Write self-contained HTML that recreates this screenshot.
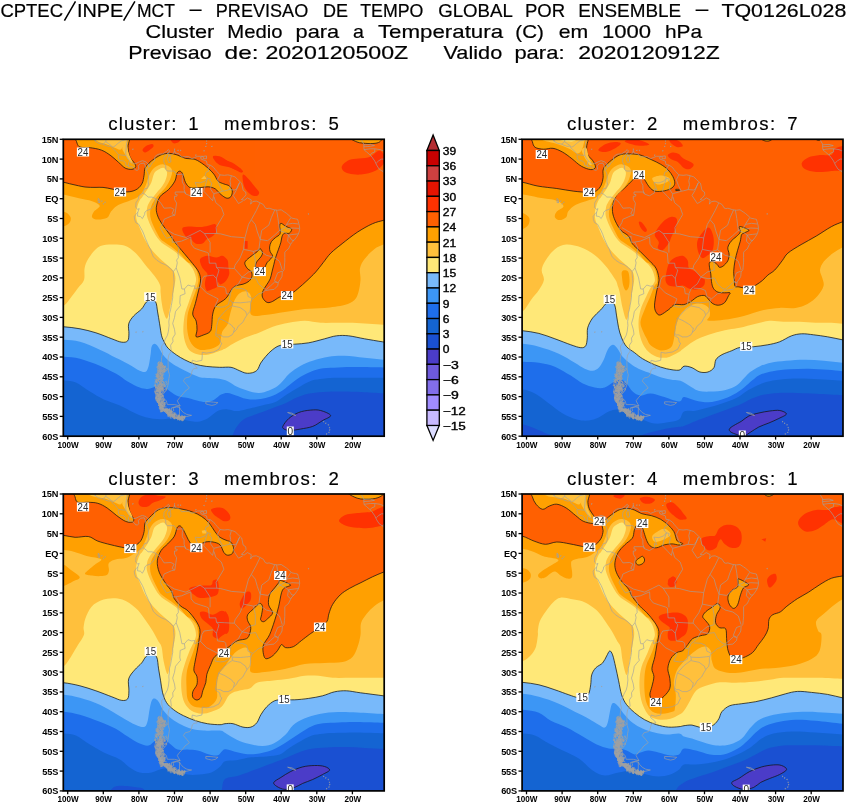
<!DOCTYPE html>
<html><head><meta charset="utf-8"><title>CPTEC ensemble cluster</title>
<style>
html,body{margin:0;padding:0;background:#fff;}
body{width:847px;height:803px;overflow:hidden;font-family:"Liberation Sans",sans-serif;}
svg{display:block;will-change:transform;opacity:0.999;}
text{font-family:"Liberation Sans",sans-serif;fill:#000;}
.tt{font-size:19px;stroke:#000;stroke-width:0.2px;}
.pt{font-size:18.6px;stroke:#000;stroke-width:0.15px;}
.yl{font-size:9.2px;font-weight:bold;letter-spacing:-0.2px;}
.xl{font-size:9.5px;font-weight:bold;}
.cb{font-size:10.4px;stroke:#000;stroke-width:0.35px;}
.cl{font-size:10.6px;fill:#2a2a2a;}
</style></head><body>
<svg width="847" height="803" viewBox="0 0 847 803">
<rect width="847" height="803" fill="#fff"/>
<defs><g id="mapl"><path d="M148.1,164.2 L149.9,167.0 L152.0,163.1 L154.5,160.7 L154.9,156.7 L157.4,154.7 L159.5,154.0 L162.7,154.0 L166.3,151.6 L168.4,149.6 L169.8,151.2 L167.7,152.8 L168.8,155.5 L170.6,155.5 L173.8,153.2 L174.5,150.4 L175.5,153.2 L178.7,153.6 L180.5,155.5 L181.6,157.1 L185.5,156.7 L188.7,156.7 L191.9,158.7 L194.8,157.5 L197.6,156.3 L202.9,156.3 L200.5,157.5 L201.2,159.1 L203.3,159.9 L206.5,161.1 L207.2,164.6 L210.1,165.0 L213.6,167.4 L215.4,169.8 L217.2,171.8 L220.0,174.9 L224.3,175.3 L227.9,174.9 L231.4,175.7 L235.0,176.9 L237.5,179.3 L240.0,181.7 L241.7,183.3 L243.2,190.4 L245.7,192.0 L246.0,194.7 L243.9,197.5 L241.4,199.5 L244.2,200.3 L247.4,197.9 L251.3,199.9 L250.6,204.2 L252.8,201.5 L256.3,201.1 L259.9,202.7 L263.4,204.6 L265.2,207.8 L267.0,208.6 L269.1,208.2 L274.1,209.8 L277.7,210.2 L281.2,209.8 L284.8,212.2 L286.6,213.4 L290.1,216.5 L291.9,218.1 L295.5,218.9 L297.6,219.3 L298.3,221.7 L299.4,226.0 L299.7,228.4 L299.4,230.8 L298.3,234.3 L296.5,237.1 L294.1,240.3 L291.9,242.3 L290.5,244.6 L288.4,249.0 L286.6,250.2 L284.8,252.2 L284.8,257.3 L284.8,262.1 L284.4,266.0 L284.1,269.6 L282.3,272.0 L282.0,276.3 L280.5,279.1 L278.4,281.9 L277.7,285.8 L274.1,289.4 L269.9,289.8 L265.2,290.6 L262.0,292.9 L258.8,293.7 L254.5,297.3 L251.7,299.7 L250.6,303.6 L250.6,308.0 L249.9,311.6 L247.4,314.3 L244.9,318.3 L242.8,322.3 L239.2,325.4 L238.2,326.2 L236.4,329.8 L233.5,332.5 L232.1,334.9 L228.2,336.9 L223.6,336.9 L220.0,334.9 L217.5,334.9 L215.8,333.3 L215.8,335.7 L219.7,338.1 L220.4,342.1 L221.8,343.2 L219.0,349.2 L213.6,352.0 L206.5,353.1 L202.2,352.3 L202.2,357.1 L201.9,360.3 L196.5,361.5 L192.3,360.3 L191.9,363.0 L195.8,366.2 L197.2,368.2 L194.0,368.6 L192.3,370.2 L191.2,374.9 L189.8,376.9 L185.1,378.1 L183.4,380.9 L186.9,384.8 L189.4,388.0 L185.1,391.2 L183.0,393.9 L179.8,397.5 L177.3,400.7 L178.4,403.0 L180.2,405.8 L176.2,406.6 L171.6,407.8 L171.3,411.0 L167.4,411.0 L162.7,408.6 L160.2,405.4 L157.7,402.6 L156.7,398.7 L155.6,394.7 L154.9,390.8 L156.0,386.0 L154.9,382.8 L158.5,378.9 L161.7,376.1 L163.8,371.0 L164.5,366.2 L162.0,364.2 L161.3,361.1 L161.7,357.1 L162.7,353.1 L161.7,349.2 L161.7,346.0 L163.4,344.0 L165.2,339.3 L167.4,335.3 L168.4,331.4 L169.1,325.4 L168.8,321.5 L169.5,317.5 L169.5,313.5 L170.6,309.6 L171.3,305.6 L172.0,301.7 L172.7,297.7 L172.7,293.7 L173.0,291.8 L173.8,285.8 L174.1,281.9 L173.8,278.7 L173.4,273.9 L173.4,271.6 L170.9,269.2 L169.1,267.2 L165.6,264.8 L160.9,262.9 L156.7,260.1 L153.5,256.9 L152.0,253.7 L150.6,249.4 L148.8,246.2 L147.1,242.3 L145.3,238.3 L143.9,234.3 L142.4,230.8 L140.3,227.2 L138.9,224.4 L135.7,222.5 L134.6,219.3 L134.3,216.5 L136.4,213.7 L137.8,212.2 L139.2,208.6 L137.8,209.4 L135.7,207.4 L136.0,202.7 L137.5,200.3 L138.5,198.7 L138.9,195.5 L141.0,194.3 L142.8,193.2 L143.2,191.6 L144.6,188.8 L147.1,188.4 L148.8,184.4 L148.1,181.7 L148.5,176.9 L147.8,173.0 L146.4,170.2 L145.3,165.8 L144.2,163.1 L140.7,163.5 L138.2,165.8 L138.9,169.0 L137.5,170.2 L135.7,170.2 L134.6,168.6 L132.8,167.0 L131.1,166.2 L128.6,166.6 L128.2,165.8 L125.7,165.0 L125.7,163.1 L123.9,161.1 L122.2,160.7 L120.7,160.7 L118.6,159.1 L118.2,155.5 L118.6,154.7 L115.7,151.2 L113.3,148.8 L111.8,147.6 L112.2,146.0 L108.6,146.4 L105.1,145.2 L102.6,144.1 L98.7,143.3 L95.5,141.3 L92.6,138.1 M148.1,164.2 L146.0,161.9 L142.4,160.7 L139.2,161.9 L136.0,163.5 L133.5,163.9 L131.1,162.3 L129.6,160.7 L128.2,159.1 L126.1,155.5 L125.7,153.2 L126.1,149.2 L126.4,145.2 L127.1,141.3 L127.5,139.3 L125.4,137.7 M179.5,407.4 L180.9,409.8 L183.4,412.5 L186.9,414.5 L191.6,415.3 L186.9,416.5 L181.6,417.3 L176.2,417.7 L170.9,415.7 L167.4,413.7 L170.9,412.5 L173.8,410.6 L173.0,407.8 L176.6,407.0 L179.5,407.4 M205.8,401.8 L210.1,401.8 L213.6,402.2 L217.9,402.6 L215.4,404.6 L211.8,405.4 L208.3,404.6 L205.8,403.8 L205.8,401.8 M160.6,364.2 L162.0,367.0 L161.7,370.6 L159.2,369.8 L159.5,366.2 L160.6,364.2 M203.3,156.3 L206.5,155.9 L206.5,158.7 L203.3,158.7 L203.3,156.3 M168.8,155.5 L167.4,159.1 L168.8,162.7 L170.9,161.9 L170.6,157.9 L169.8,155.5 M169.8,152.0 L166.3,154.7 L164.1,157.5 L163.8,161.9 L165.6,165.4 L165.9,169.4 L167.4,171.0 L174.1,171.0 L176.6,174.5 L183.4,174.1 L182.3,177.7 L182.3,182.1 L184.1,185.2 L184.1,189.6 L185.5,193.9 M185.5,193.9 L184.8,192.0 L175.2,192.0 L175.2,194.3 L177.3,194.7 L176.6,196.3 L174.5,196.3 L174.5,199.5 L176.6,203.1 L174.8,215.3 M174.8,215.3 L172.0,213.7 L174.1,209.4 L170.9,207.8 L164.1,208.2 L161.3,203.8 L158.8,200.7 L156.0,198.7 M156.0,198.7 L152.0,197.1 L148.1,197.1 L146.0,195.1 L143.2,193.2 M156.0,198.7 L154.5,204.6 L151.0,209.0 L146.7,210.6 L144.9,212.2 L144.6,214.5 L142.4,218.5 L140.3,216.5 L137.5,216.1 L137.8,212.2 M174.8,215.3 L171.3,216.1 L164.1,219.3 L163.1,222.5 L160.2,227.6 L163.8,234.3 L166.6,238.3 L172.3,236.3 L172.3,242.3 L175.9,242.1 M175.9,242.1 L179.1,248.2 L178.0,253.0 L178.4,257.7 L176.6,260.1 L177.3,262.9 L176.2,268.0 M176.2,268.0 L173.4,271.4 M176.2,268.0 L178.4,273.9 L179.8,277.9 L180.9,283.8 L181.9,289.0 L184.4,289.0 M175.9,242.1 L181.6,241.1 L190.8,237.1 L191.2,244.2 L194.4,248.2 L200.1,250.2 L206.5,252.2 L208.6,253.3 L209.3,263.2 L215.8,263.2 L216.5,267.6 L219.0,270.0 L217.9,273.9 L216.8,277.1 L216.5,278.7 M216.5,278.7 L213.3,275.1 L204.0,276.3 L201.9,279.9 L200.6,286.8 M200.6,286.8 L194.8,289.0 L194.8,285.8 L191.6,286.2 L188.0,285.0 L184.4,289.0 M184.4,289.0 L185.1,293.7 L180.2,295.7 L179.8,302.8 L180.5,305.6 L177.7,308.8 L175.5,311.6 L174.5,317.5 L172.7,323.4 L174.5,329.4 L175.2,334.1 L172.7,338.1 L173.0,341.7 L170.6,345.2 L171.3,351.2 L168.8,355.1 L168.1,359.1 L168.1,365.0 L168.4,371.0 L169.5,374.9 L168.8,378.9 L168.1,384.8 L165.9,390.8 L162.7,394.7 L163.8,398.7 L166.3,400.7 L167.4,404.6 L174.5,404.6 L180.2,406.0 M179.5,407.2 L179.5,416.1 M200.6,286.8 L206.5,292.9 L213.6,296.5 L218.2,298.9 L215.0,306.4 L220.7,307.2 L224.3,306.8 L228.6,304.4 L229.3,300.1 M216.5,278.7 L217.5,286.2 L224.3,287.0 L225.7,288.6 L226.4,293.7 L230.3,294.1 L229.3,300.1 M229.3,300.1 L232.1,301.7 L232.5,305.6 L227.9,308.8 L225.0,311.2 L218.6,318.3 M218.6,318.3 L224.3,320.7 L225.7,321.5 L231.4,325.0 L233.5,327.8 L234.6,328.2 L233.5,332.4 M218.6,318.3 L217.9,321.5 L216.8,325.4 L216.5,329.4 L215.8,333.3 M185.5,193.9 L190.5,195.9 L195.8,192.8 L195.5,188.8 L198.0,190.0 L195.1,182.5 L200.1,182.9 L204.7,181.3 L207.6,178.1 M207.6,178.1 L205.1,175.3 L206.1,172.2 L209.0,171.0 L207.6,169.0 L210.1,165.0 M207.6,178.1 L210.4,178.9 L209.7,180.9 L211.8,182.9 L210.4,188.8 L213.6,193.6 L217.2,192.8 L222.5,191.2 M222.5,191.2 L219.7,185.6 L217.5,179.7 L220.0,174.9 M222.5,191.2 L224.7,190.8 L229.3,189.6 M229.3,189.6 L230.7,184.8 L230.0,180.9 L231.4,175.7 M229.3,189.6 L235.0,190.0 L236.8,188.4 L239.6,182.5 M148.1,164.2 L148.8,167.4 L146.4,170.2 M128.6,166.6 L128.6,163.1 L129.6,160.7 M118.6,154.7 L121.8,155.1 L125.7,155.5 M112.9,147.2 L115.0,146.0 L117.5,143.7 L121.1,140.9 L124.6,140.1 L127.5,139.3 M111.1,145.6 L108.6,143.7 L105.8,141.7 L102.9,144.1 M105.8,141.7 L106.1,139.3 L107.2,137.7 M95.5,141.3 L95.5,138.1 M207.6,178.1 L205.4,184.8 L203.7,191.2 L209.0,196.7 L212.6,200.7 L214.0,193.9 M214.0,196.7 L215.8,202.7 L221.4,207.4 L223.9,214.5 L216.1,227.6 L216.8,233.5 M163.1,227.6 L174.5,234.3 L185.9,237.5 M185.9,237.5 L194.0,233.5 L200.1,230.4 L204.4,233.5 L210.1,242.3 L210.1,252.6 M204.4,233.5 L216.8,233.5 L220.7,233.9 L231.4,236.7 L242.1,237.5 L244.9,237.9 M244.9,237.9 L243.5,249.4 L240.0,258.1 L235.0,265.2 L234.3,268.4 M216.5,267.6 L224.3,268.0 L231.4,268.4 L234.3,268.4 M234.3,268.4 L242.1,277.1 L238.5,283.8 L232.1,289.0 L230.3,293.7 M239.6,182.5 L236.0,190.8 L233.2,195.5 L238.5,203.5 L242.8,201.1 M259.9,203.1 L256.3,210.6 L251.3,219.7 L248.5,224.4 L244.9,237.9 M251.3,219.7 L255.3,224.4 L257.4,232.0 L260.2,239.5 L258.8,249.8 L253.5,251.4 L243.5,249.4 M260.2,239.5 L261.7,230.4 L268.8,225.2 L271.3,217.7 L274.8,209.8 M260.2,239.5 L267.7,240.7 L274.1,235.5 L279.5,230.4 L278.0,218.5 L276.6,210.2 M279.5,230.4 L284.8,228.0 L286.6,224.4 L290.8,217.7 M286.6,224.4 L292.6,223.3 L298.3,224.0 M286.2,229.2 L291.9,228.0 L299.6,228.4 M279.5,230.4 L284.8,232.4 L288.4,235.1 L294.1,234.3 L298.3,233.9 M288.4,235.1 L291.9,240.3 L294.1,240.3 M288.4,235.1 L287.6,241.1 L290.5,244.2 M258.8,249.8 L266.3,255.3 L274.1,257.3 L279.5,261.3 L282.3,270.0 M253.5,251.4 L255.3,260.1 L255.3,270.0 L248.5,272.0 L242.1,277.1 M242.1,277.1 L249.2,278.7 L255.6,277.9 L258.5,283.8 L263.4,288.2 L266.3,289.4 M277.7,282.7 L274.5,280.7 L277.7,272.8 L282.0,271.2 M266.3,289.4 L270.6,285.8 L274.8,281.9 L277.7,282.7 M235.0,288.2 L242.1,288.6 L246.7,290.6 L248.1,296.5 L252.4,298.5 M232.5,302.5 L240.3,302.8 L247.4,302.1 L250.6,301.7 M232.5,306.0 L240.3,307.6 L245.7,311.6 L246.7,314.7 M159.6,394.2 L158.7,394.6 L158.6,395.8 L159.4,396.0 L160.0,395.3 L159.6,394.2 M162.1,402.5 L163.2,402.2 L163.0,401.3 L161.9,401.3 L162.1,402.5 M158.0,379.2 L159.2,379.8 L159.1,378.2 L158.0,379.2 M166.8,384.8 L167.5,383.6 L166.7,382.4 L165.9,383.6 L166.8,384.8 M155.3,387.4 L156.8,388.1 L157.0,387.2 L155.3,387.4 M169.2,414.2 L168.2,415.1 L168.9,416.7 L169.2,414.2 M162.1,410.7 L163.6,410.7 L163.3,409.1 L161.9,409.3 L162.1,410.7 M170.1,413.6 L170.7,413.9 L170.8,412.9 L170.4,412.4 L169.8,412.7 L170.1,413.6 M156.0,387.2 L155.9,387.9 L156.7,388.3 L157.5,387.8 L156.9,387.2 L156.0,387.2 M161.0,410.0 L161.7,408.1 L160.2,407.7 L161.0,410.0 M161.1,408.6 L161.5,406.6 L160.8,406.2 L161.1,408.6 M163.2,400.2 L163.3,399.2 L162.9,398.4 L162.5,399.2 L162.7,400.0 L163.2,400.2 M156.9,396.7 L155.9,396.7 L156.5,398.1 L156.9,396.7 M162.7,401.9 L164.0,401.0 L163.5,399.9 L162.1,400.5 L162.7,401.9 M165.8,390.2 L166.8,389.8 L166.3,388.3 L165.5,388.4 L165.1,389.5 L165.8,390.2 M176.4,417.7 L176.3,418.2 L177.2,418.3 L177.9,418.0 L177.4,417.5 L176.4,417.7 M167.4,410.6 L166.5,410.4 L165.7,411.0 L166.3,411.8 L167.2,411.5 L167.4,410.6 M160.4,397.8 L159.6,397.9 L159.6,398.5 L160.4,398.4 L160.4,397.8 M158.6,400.6 L158.3,398.8 L157.7,400.1 L158.6,400.6 M161.9,399.4 L162.4,397.7 L161.1,396.7 L160.5,399.1 L161.9,399.4 M161.4,399.9 L160.1,399.1 L159.9,400.7 L161.2,401.4 L161.4,399.9 M162.1,389.5 L162.5,388.1 L161.6,388.3 L162.1,389.5 M158.0,371.6 L159.2,370.9 L157.8,370.5 L158.0,371.6 M160.9,399.1 L160.8,398.1 L160.1,398.4 L159.7,399.1 L160.3,399.7 L160.9,399.1 M161.3,393.7 L161.7,394.9 L162.7,394.0 L161.3,393.7 M160.5,398.7 L160.4,397.4 L159.4,397.1 L159.1,398.4 L159.7,399.4 L160.5,398.7 M178.3,416.6 L178.7,418.0 L178.9,416.3 L178.3,416.6 M168.7,413.4 L169.5,414.5 L169.6,413.0 L168.7,413.4 M160.7,395.7 L161.7,396.9 L162.5,395.3 L161.4,394.3 L160.7,395.7 M159.1,402.8 L158.7,404.9 L160.4,404.1 L159.1,402.8 M156.3,395.5 L157.4,396.4 L157.2,394.5 L156.3,395.5 M162.1,408.8 L161.6,410.4 L162.3,411.6 L163.0,410.0 L162.1,408.8 M158.0,400.8 L159.0,398.9 L157.8,398.3 L158.0,400.8 M162.3,385.7 L161.5,385.6 L161.1,386.5 L161.6,387.3 L162.4,386.8 L162.3,385.7 M159.3,394.2 L158.7,394.5 L158.8,395.9 L159.4,395.9 L159.8,394.9 L159.3,394.2 M158.2,389.7 L157.6,388.9 L156.3,389.6 L158.2,389.7 M163.1,370.2 L164.5,370.0 L164.7,369.4 L163.3,369.4 L163.1,370.2 M160.7,391.6 L160.8,389.3 L159.8,389.9 L160.7,391.6 M178.2,418.7 L177.5,418.2 L177.5,419.0 L178.2,418.7 M160.7,396.9 L159.8,397.5 L160.4,398.4 L161.2,397.9 L160.7,396.9 M158.2,388.8 L157.9,389.6 L159.6,389.2 L158.2,388.8 M180.2,418.5 L179.4,419.3 L180.5,419.7 L181.4,418.9 L180.2,418.5 M159.7,389.4 L160.4,388.8 L159.2,388.6 L159.7,389.4 M160.0,388.7 L159.6,389.8 L160.0,391.0 L160.5,390.5 L160.6,389.0 L160.0,388.7 M157.4,380.4 L158.2,379.8 L157.0,379.8 L157.4,380.4 M155.8,391.8 L155.8,393.1 L157.1,393.1 L157.9,392.2 L157.0,391.3 L155.8,391.8 M169.2,410.5 L168.9,409.0 L167.3,409.9 L169.2,410.5 M158.6,386.5 L159.6,387.1 L159.9,385.9 L159.0,385.5 L158.6,386.5 M159.0,364.4 L159.0,366.1 L159.8,366.4 L160.4,365.3 L159.8,364.1 L159.0,364.4 M162.8,383.1 L162.1,383.7 L162.1,385.5 L162.7,385.0 L162.8,383.1 M164.1,372.5 L164.7,371.8 L164.1,371.1 L164.1,372.5 M169.2,411.6 L170.7,412.7 L171.0,410.8 L169.2,411.6 M160.9,384.7 L161.7,384.2 L160.9,383.5 L159.7,384.3 L160.9,384.7 M158.9,365.6 L158.0,367.0 L159.4,367.4 L158.9,365.6 M166.3,382.5 L166.9,381.6 L166.4,381.0 L165.6,381.5 L166.3,382.5 M168.1,412.4 L167.3,412.9 L167.5,414.6 L168.3,414.5 L168.1,412.4 M162.7,376.4 L161.8,376.1 L161.2,376.7 L161.7,377.4 L162.6,377.4 L162.7,376.4 M161.5,379.7 L161.3,381.1 L161.7,382.2 L162.3,381.4 L162.3,379.9 L161.5,379.7 M159.7,395.1 L160.3,394.5 L159.7,393.9 L158.5,394.1 L158.6,395.0 L159.7,395.1 M158.4,391.8 L159.1,390.7 L158.0,390.7 L158.4,391.8 M156.2,376.8 L158.0,377.7 L157.9,375.2 L156.2,376.8 M168.9,414.1 L168.3,414.7 L169.7,414.6 L168.9,414.1 M163.3,369.0 L162.9,370.0 L163.7,370.9 L164.6,370.1 L164.3,369.2 L163.3,369.0 M168.9,413.4 L168.7,414.5 L169.1,415.1 L169.4,414.6 L169.3,413.2 L168.9,413.4 M155.4,393.7 L156.4,391.3 L154.7,391.3 L155.4,393.7 M157.9,392.7 L157.7,393.9 L158.5,393.4 L157.9,392.7 M161.7,363.0 L160.9,363.4 L161.4,364.1 L162.1,363.6 L161.7,363.0 M157.1,384.4 L157.3,385.6 L158.2,385.4 L158.1,384.1 L157.5,383.5 L157.1,384.4 M159.2,400.2 L158.1,398.5 L156.6,399.7 L157.8,400.9 L159.2,400.2 M178.2,415.8 L179.0,415.9 L179.2,415.1 L178.3,415.0 L178.2,415.8 M159.9,399.5 L160.8,399.6 L160.4,398.0 L159.9,399.5 M159.1,371.5 L159.6,373.1 L160.7,373.1 L160.7,371.4 L159.9,370.3 L159.1,371.5 M176.2,416.3 L176.6,417.5 L177.2,416.9 L177.3,415.8 L176.7,415.3 L176.2,416.3 M160.3,410.7 L160.5,412.1 L161.2,411.9 L161.2,410.7 L160.8,410.0 L160.3,410.7 M160.9,380.4 L160.5,381.1 L160.5,382.7 L160.9,383.3 L161.1,381.8 L160.9,380.4 M159.9,392.4 L159.6,393.8 L160.3,394.6 L160.6,393.0 L159.9,392.4 M161.2,370.7 L161.9,371.7 L162.7,370.9 L161.2,370.7 M158.3,375.6 L158.1,374.0 L157.7,374.5 L157.8,376.4 L158.3,375.6 M178.8,417.4 L180.0,416.8 L179.0,416.2 L178.8,417.4 M159.8,409.8 L161.1,409.6 L160.1,407.6 L159.8,409.8 M160.4,391.2 L159.7,389.4 L158.5,390.2 L158.7,391.8 L159.6,392.7 L160.4,391.2 M160.7,372.6 L160.2,373.2 L160.9,373.7 L161.3,373.2 L160.7,372.6 M157.0,401.9 L157.7,402.5 L157.7,400.7 L157.0,400.2 L157.0,401.9 M162.1,404.9 L162.8,405.8 L163.9,405.0 L162.1,404.9 M171.7,410.5 L170.6,411.3 L171.7,412.3 L171.7,410.5 M158.0,395.5 L158.8,394.9 L158.1,393.6 L158.0,395.5 M161.3,407.2 L162.4,406.0 L161.3,404.7 L160.2,406.0 L161.3,407.2 M158.8,393.7 L158.9,395.1 L160.0,394.5 L159.7,393.2 L158.8,393.7 M159.0,389.7 L157.1,390.3 L158.5,391.9 L159.0,389.7 M166.6,412.3 L166.2,410.7 L165.3,411.8 L166.6,412.3 M160.9,404.1 L160.4,402.8 L159.6,404.0 L160.9,404.1 M178.5,418.8 L179.1,419.8 L179.4,418.7 L178.5,418.8 M159.7,381.7 L158.9,380.6 L158.6,381.7 L159.7,381.7 M181.7,418.8 L180.4,418.0 L179.4,419.0 L180.7,419.7 L181.7,418.8 M182.9,418.5 L182.8,416.7 L182.0,416.4 L181.9,418.5 L182.9,418.5 M159.4,369.5 L160.4,368.7 L159.0,368.5 L159.4,369.5 M157.1,402.3 L158.9,401.2 L157.2,400.3 L157.1,402.3 M158.8,395.9 L159.2,396.7 L159.4,395.5 L159.0,394.4 L158.8,395.9 M161.9,378.6 L163.8,378.3 L162.6,377.8 L161.9,378.6 M158.7,367.0 L159.6,366.1 L158.2,365.4 L157.3,366.4 L158.7,367.0 M179.4,417.9 L180.1,416.9 L179.4,415.9 L179.4,417.9 M159.7,383.0 L161.3,382.9 L160.4,381.8 L159.7,383.0 M156.7,374.8 L156.8,373.9 L156.0,373.7 L155.8,374.9 L156.7,374.8 M167.9,414.8 L168.8,414.0 L168.5,412.6 L167.6,412.4 L167.3,413.8 L167.9,414.8 M159.5,381.7 L159.8,382.8 L161.1,382.8 L160.6,381.6 L159.5,381.7 M173.1,414.5 L172.0,413.5 L172.1,415.4 L173.1,414.5 M161.7,397.0 L162.6,397.2 L163.4,396.2 L162.5,395.2 L161.7,395.9 L161.7,397.0 M163.9,386.2 L164.5,386.3 L164.7,385.6 L164.2,385.2 L163.7,385.7 L163.9,386.2 M158.0,395.6 L158.5,397.6 L159.2,395.4 L158.0,395.6 M159.2,393.3 L160.1,392.9 L160.2,391.9 L159.5,391.6 L158.8,392.2 L159.2,393.3 M155.5,386.6 L156.0,386.3 L155.9,385.5 L155.3,385.0 L155.1,386.0 L155.5,386.6 M170.5,414.3 L170.3,413.0 L169.4,413.8 L170.5,414.3 M161.0,386.6 L160.2,386.1 L160.4,387.7 L161.0,386.6 M165.0,410.6 L165.0,409.7 L163.8,410.2 L165.0,410.6 M156.8,391.2 L157.4,390.5 L155.9,390.3 L156.8,391.2 M161.4,407.9 L160.3,407.0 L159.8,408.2 L161.4,407.9 M158.3,396.9 L159.3,396.6 L158.6,395.7 L157.7,396.1 L158.3,396.9 M165.7,411.0 L167.4,411.5 L167.9,409.6 L166.4,409.5 L165.7,411.0 M156.2,390.1 L155.9,391.1 L156.3,391.8 L156.6,391.5 L156.7,390.6 L156.2,390.1 M163.3,385.4 L162.8,384.4 L161.4,384.9 L162.2,386.1 L163.3,385.4 M161.3,406.4 L161.5,408.2 L162.2,408.2 L162.2,406.5 L161.3,406.4 M163.8,391.0 L163.2,391.3 L163.3,392.2 L163.9,392.1 L164.2,391.6 L163.8,391.0 M166.6,411.1 L165.9,412.1 L166.8,413.3 L167.6,411.9 L166.6,411.1 M158.5,374.7 L158.1,375.7 L158.4,376.9 L159.1,376.5 L159.2,375.1 L158.5,374.7 M170.3,411.0 L169.8,408.4 L168.5,410.6 L170.3,411.0 M161.4,366.2 L162.3,366.9 L163.1,366.1 L162.2,365.5 L161.4,366.2 M159.7,387.7 L158.9,386.6 L157.7,386.5 L157.7,388.1 L158.7,388.6 L159.7,387.7 M162.1,406.9 L161.4,406.0 L160.0,405.7 L159.6,406.7 L160.7,407.5 L162.1,406.9 M181.9,419.2 L180.6,419.7 L182.3,420.0 L181.9,419.2 M179.4,416.5 L179.6,415.8 L179.1,415.6 L178.7,416.1 L179.4,416.5 M181.6,417.1 L182.6,419.0 L183.2,416.7 L181.6,417.1 M156.9,394.7 L157.6,394.7 L157.6,393.3 L156.8,393.4 L156.9,394.7 M158.4,365.0 L158.3,365.8 L159.4,365.3 L158.4,365.0 M160.3,365.8 L161.3,365.6 L161.8,364.9 L160.8,364.5 L159.8,365.0 L160.3,365.8 M174.4,417.2 L174.8,416.8 L174.3,416.3 L174.4,417.2 M161.9,400.2 L162.3,398.3 L161.4,397.7 L160.9,399.3 L161.9,400.2 M171.5,414.4 L171.7,415.5 L173.0,415.5 L173.7,414.9 L173.0,414.2 L171.5,414.4 M158.2,397.5 L157.6,398.7 L158.6,399.2 L159.2,398.4 L158.2,397.5 M163.1,378.9 L161.9,379.3 L162.9,379.7 L163.1,378.9 M159.6,366.0 L159.2,363.8 L158.1,365.5 L159.6,366.0 M162.9,396.8 L163.1,395.1 L161.8,395.8 L162.9,396.8 M171.3,415.2 L170.2,414.6 L169.4,415.3 L169.7,416.7 L170.9,416.5 L171.3,415.2 M176.7,416.4 L177.1,417.4 L178.5,417.2 L178.1,416.0 L176.7,416.4 M162.8,364.7 L161.4,364.8 L161.8,366.5 L163.0,366.1 L162.8,364.7 M183.4,416.3 L182.7,415.7 L182.7,418.2 L183.3,418.0 L183.4,416.3 M159.6,370.4 L159.1,370.9 L159.6,371.3 L160.2,370.9 L159.6,370.4 M161.6,387.3 L161.7,385.7 L160.6,385.9 L160.4,387.7 L161.6,387.3 M165.8,366.6 L165.5,365.8 L164.9,366.3 L165.2,367.2 L165.8,366.6 M164.6,411.0 L165.2,411.1 L165.3,409.8 L165.0,408.8 L164.6,409.6 L164.6,411.0 M158.5,387.6 L158.0,388.3 L157.9,389.5 L158.5,389.5 L158.9,388.7 L158.5,387.6 M160.1,390.5 L160.4,389.9 L159.9,389.8 L160.1,390.5 M162.6,405.9 L161.9,405.6 L161.6,406.6 L162.1,407.3 L162.7,406.8 L162.6,405.9 M177.4,417.9 L177.5,418.8 L178.8,418.7 L178.6,417.9 L177.4,417.9 M159.2,384.5 L159.8,384.9 L160.2,383.9 L159.7,382.6 L159.1,383.4 L159.2,384.5 M164.8,369.6 L164.8,368.3 L164.2,368.5 L164.3,370.1 L164.8,369.6 M162.9,387.6 L162.5,387.1 L162.4,388.5 L162.8,389.1 L162.9,387.6 M155.6,380.3 L156.3,379.8 L156.4,379.1 L155.7,378.9 L155.1,379.5 L155.6,380.3 M182.6,419.6 L183.1,419.1 L182.7,418.2 L182.1,418.5 L182.1,419.6 L182.6,419.6 M182.6,417.3 L182.7,416.3 L181.6,416.4 L181.5,417.1 L182.6,417.3 M158.2,400.6 L157.1,400.4 L157.6,401.9 L158.2,400.6 M157.1,389.3 L157.5,391.0 L158.4,391.2 L158.4,389.4 L157.9,388.0 L157.1,389.3 M181.6,418.1 L182.2,419.8 L183.1,417.9 L181.6,418.1 M164.4,411.5 L164.3,410.7 L163.7,410.9 L163.9,411.6 L164.4,411.5 M160.3,380.6 L161.6,379.4 L160.4,378.0 L160.3,380.6 M178.2,417.8 L176.8,417.6 L176.3,418.5 L177.7,418.7 L178.2,417.8 M159.5,389.1 L160.4,388.4 L159.6,387.8 L159.5,389.1 M160.5,400.2 L159.4,399.1 L159.5,401.1 L160.5,400.2 M158.8,390.2 L157.6,390.3 L157.4,391.3 L158.6,391.2 L158.8,390.2 M174.1,414.5 L175.0,414.6 L175.0,413.9 L174.2,413.7 L173.8,414.1 L174.1,414.5 M172.3,415.7 L171.4,415.4 L170.5,415.8 L171.1,416.2 L172.4,416.1 L172.3,415.7 M162.4,402.0 L161.4,402.8 L162.4,403.5 L162.4,402.0 M168.5,410.3 L167.2,408.6 L166.6,410.9 L168.5,410.3 M159.9,391.8 L160.2,394.1 L160.5,391.9 L159.9,391.8 M155.6,398.0 L156.3,399.2 L157.1,398.1 L156.3,397.2 L155.6,398.0 M160.9,376.1 L161.0,376.9 L161.9,376.9 L161.9,376.1 L160.9,376.1 M167.5,412.2 L166.7,412.6 L167.4,413.2 L168.1,412.7 L167.5,412.2 M172.4,413.5 L171.5,413.7 L171.5,414.9 L172.2,415.3 L172.7,414.5 L172.4,413.5 M164.1,411.5 L165.8,411.7 L165.4,410.3 L164.1,411.5 M169.2,414.1 L169.7,413.7 L169.6,413.2 L169.1,413.1 L168.6,413.7 L169.2,414.1 M157.8,387.4 L157.3,386.4 L156.3,386.7 L155.8,387.9 L157.2,388.4 L157.8,387.4 M159.4,403.9 L158.9,403.7 L158.8,405.3 L159.2,405.9 L159.5,405.1 L159.4,403.9 M164.0,374.1 L162.7,373.6 L162.1,375.0 L163.2,375.5 L164.0,374.1 M161.1,390.3 L161.2,389.0 L160.0,389.1 L160.0,390.7 L161.1,390.3 M154.5,384.7 L154.2,385.5 L155.5,386.0 L155.9,385.2 L154.5,384.7 M163.9,403.8 L164.9,404.9 L165.7,403.8 L165.7,402.4 L164.3,402.4 L163.9,403.8 M173.7,418.7 L174.7,418.9 L174.4,417.2 L173.7,418.7 M161.8,388.9 L161.2,386.5 L159.7,387.8 L161.8,388.9 M167.1,409.2 L165.7,409.4 L165.3,409.8 L166.4,410.1 L167.7,409.8 L167.1,409.2 M158.9,374.6 L159.5,373.7 L159.0,372.3 L157.5,372.9 L157.7,374.6 L158.9,374.6 M157.8,389.9 L157.6,390.7 L158.7,391.1 L159.6,390.6 L159.2,389.7 L157.8,389.9 M158.5,377.2 L158.0,379.2 L158.9,379.5 L158.5,377.2 M174.6,417.2 L174.1,417.3 L174.1,418.1 L174.7,418.5 L175.1,417.7 L174.6,417.2 M162.7,367.3 L161.5,367.0 L161.2,367.8 L162.7,367.3 M162.3,388.9 L161.5,388.2 L161.1,389.3 L161.4,390.2 L162.1,390.4 L162.3,388.9 M156.7,375.3 L156.7,376.2 L157.7,376.5 L158.1,375.5 L156.7,375.3 M161.6,370.5 L161.5,372.9 L162.9,372.5 L163.2,370.5 L161.6,370.5 M167.9,413.5 L168.6,414.4 L169.2,413.2 L168.4,412.3 L167.9,413.5 M159.1,369.8 L159.4,370.8 L160.1,370.5 L160.0,369.1 L159.4,368.4 L159.1,369.8 M160.1,396.0 L159.6,395.3 L158.8,395.9 L159.4,396.4 L160.1,396.0 M162.6,377.4 L163.0,377.4 L163.1,376.7 L162.6,376.7 L162.6,377.4 M161.8,388.2 L161.1,388.9 L162.0,389.5 L163.0,389.1 L162.9,388.3 L161.8,388.2 M163.7,388.4 L162.2,388.3 L162.2,390.0 L163.2,390.7 L164.4,389.9 L163.7,388.4 M159.8,403.4 L159.3,403.0 L158.6,403.1 L158.6,403.7 L159.4,403.9 L159.8,403.4 M164.4,408.6 L162.5,408.7 L163.5,410.2 L164.4,408.6 M159.8,387.2 L160.8,386.4 L159.3,386.0 L158.6,386.8 L159.8,387.2 M179.7,418.1 L180.3,419.4 L181.0,418.9 L180.9,417.3 L180.3,416.9 L179.7,418.1 M159.8,371.0 L158.7,371.2 L159.4,372.0 L159.8,371.0 M182.6,418.7 L182.0,417.4 L180.8,417.7 L181.4,419.0 L182.6,418.7 M174.2,418.4 L175.2,419.0 L175.5,417.6 L174.9,416.3 L173.8,417.1 L174.2,418.4 M176.0,415.5 L177.2,415.1 L176.4,413.9 L175.0,414.5 L176.0,415.5 M160.1,407.0 L159.2,407.2 L159.1,408.4 L160.0,408.7 L160.7,408.0 L160.1,407.0 M165.5,384.9 L163.8,384.4 L164.0,386.2 L165.3,386.4 L165.5,384.9 M163.2,365.1 L162.7,366.4 L163.2,367.5 L163.8,366.5 L163.2,365.1 M181.7,418.6 L181.5,417.8 L180.6,418.0 L180.9,418.9 L181.7,418.6 M175.5,414.8 L174.3,413.9 L173.0,414.8 L174.3,415.6 L175.5,414.8 M159.7,402.1 L159.0,401.7 L157.8,401.9 L158.2,403.0 L159.4,402.8 L159.7,402.1 M178.7,419.4 L177.6,418.3 L177.6,420.1 L178.7,419.4 M164.2,381.9 L163.6,381.8 L163.8,383.0 L164.2,381.9 M158.0,397.0 L158.1,395.7 L156.9,395.3 L156.2,396.1 L156.4,397.1 L158.0,397.0 M162.1,403.6 L162.7,403.2 L161.9,403.0 L162.1,403.6 M160.4,389.2 L161.1,388.0 L160.6,386.6 L159.8,387.8 L160.4,389.2 M173.9,413.7 L174.3,412.7 L173.6,412.5 L173.9,413.7 M160.7,408.2 L161.8,409.3 L162.1,407.1 L161.2,406.3 L160.7,408.2 M162.9,392.0 L161.3,391.1 L160.5,393.0 L162.2,393.5 L162.9,392.0 M168.3,410.9 L169.1,410.7 L169.2,410.1 L168.4,409.6 L167.7,410.2 L168.3,410.9 M156.8,398.1 L155.8,398.6 L156.1,400.8 L156.9,400.1 L156.8,398.1 M156.3,394.6 L157.5,394.9 L157.9,393.6 L156.9,393.4 L156.3,394.6 M166.6,409.4 L167.5,409.7 L167.8,408.8 L166.9,408.5 L166.6,409.4 M165.6,407.2 L166.3,407.0 L165.8,406.7 L165.6,407.2 M161.7,406.3 L162.6,405.8 L162.1,404.5 L161.3,405.1 L161.7,406.3 M160.0,396.1 L161.5,396.6 L161.1,394.1 L160.0,396.1 M172.5,415.2 L173.2,416.2 L173.4,414.4 L172.5,415.2 M174.4,419.1 L175.3,418.2 L175.1,416.7 L174.1,417.1 L173.8,418.1 L174.4,419.1 M169.9,412.8 L169.1,412.0 L168.6,413.2 L169.3,414.4 L169.9,412.8 M160.4,388.7 L159.4,388.0 L158.7,388.7 L159.4,389.5 L160.4,388.7 M158.1,375.9 L158.0,378.2 L158.8,377.3 L158.1,375.9 M165.1,410.4 L165.4,411.9 L166.5,411.1 L166.0,409.7 L165.1,410.4 M159.3,384.9 L158.8,385.2 L158.8,386.4 L159.2,386.8 L159.5,385.9 L159.3,384.9 M160.3,391.2 L158.1,390.8 L159.3,393.2 L160.3,391.2 M163.8,387.2 L162.2,386.8 L162.3,387.6 L163.8,387.2 M163.6,404.6 L164.8,404.4 L164.5,403.2 L163.5,402.8 L162.6,403.9 L163.6,404.6 M174.4,413.5 L175.3,413.5 L175.8,413.1 L174.8,412.9 L173.8,413.1 L174.4,413.5 M162.9,370.3 L161.2,369.8 L162.0,371.6 L162.9,370.3 M160.9,365.8 L160.4,364.8 L159.0,365.0 L159.3,365.8 L160.9,365.8 M174.7,414.1 L173.5,414.2 L173.7,415.2 L174.5,415.6 L175.5,415.0 L174.7,414.1 M160.0,367.3 L159.2,367.0 L158.9,368.5 L159.4,369.9 L160.0,368.9 L160.0,367.3 M160.1,395.1 L159.6,394.6 L159.1,395.0 L159.5,395.5 L160.1,395.1 M159.8,376.5 L160.9,377.5 L161.5,376.1 L159.8,376.5 M160.3,374.1 L160.7,372.9 L159.5,372.8 L160.3,374.1 M156.5,377.3 L157.7,376.5 L155.7,376.0 L156.5,377.3 M159.5,406.9 L160.5,406.4 L159.6,405.5 L159.5,406.9 M161.9,374.1 L161.1,373.1 L160.9,375.0 L161.9,374.1 M172.4,414.1 L172.8,415.9 L173.5,414.5 L172.4,414.1 M160.3,367.9 L161.4,367.1 L161.2,365.5 L159.9,365.6 L159.5,366.8 L160.3,367.9 M161.2,371.7 L161.3,370.2 L160.2,369.6 L159.5,371.0 L160.2,372.2 L161.2,371.7 M159.8,372.9 L160.3,374.4 L160.7,372.5 L159.8,372.9 M161.3,383.7 L161.8,383.7 L161.7,383.0 L161.3,382.7 L161.1,383.2 L161.3,383.7 M158.9,363.8 L158.4,362.2 L157.7,363.3 L158.0,364.9 L158.6,365.3 L158.9,363.8 M162.2,409.6 L163.0,410.7 L163.4,409.0 L162.7,407.9 L162.2,409.6 M161.4,406.4 L163.6,406.6 L162.6,405.2 L161.4,406.4 M162.0,364.9 L161.7,363.6 L160.5,364.2 L161.1,365.3 L162.0,364.9 M173.1,417.2 L173.0,415.5 L172.4,416.1 L172.5,417.6 L173.1,417.2 M156.0,382.6 L156.8,382.4 L156.9,381.3 L156.1,381.4 L156.0,382.6 M160.1,400.9 L159.4,400.5 L159.2,401.7 L159.4,402.7 L159.9,402.3 L160.1,400.9 M182.8,416.5 L181.7,415.4 L181.7,417.4 L182.8,416.5 M157.8,375.3 L159.0,375.1 L158.9,373.2 L157.5,373.6 L157.8,375.3 M158.5,376.2 L158.0,375.7 L157.6,376.5 L157.8,378.1 L158.3,377.6 L158.5,376.2 M157.0,387.7 L156.7,388.1 L157.2,388.5 L157.7,388.2 L157.6,387.6 L157.0,387.7 M159.6,400.4 L159.0,398.2 L157.7,399.0 L157.9,401.0 L159.6,400.4 M168.5,414.9 L168.7,413.9 L168.2,413.4 L167.9,414.1 L168.0,415.2 L168.5,414.9 M158.1,388.4 L159.4,389.0 L159.4,387.6 L158.1,388.4 M158.2,399.2 L157.3,399.8 L158.0,401.2 L158.2,399.2 M165.0,405.4 L164.6,404.0 L163.8,404.2 L164.0,405.6 L165.0,405.4 M161.6,384.5 L161.2,386.0 L162.2,386.2 L161.6,384.5 M159.3,387.5 L158.9,386.8 L158.6,387.9 L158.8,389.2 L159.3,388.7 L159.3,387.5 M159.2,377.7 L158.4,379.2 L159.5,379.7 L159.2,377.7 M156.1,394.0 L157.0,394.0 L157.3,393.3 L156.2,393.1 L156.1,394.0 M163.4,389.1 L162.5,388.9 L162.0,389.3 L162.4,389.8 L163.2,389.6 L163.4,389.1 M164.3,402.3 L163.1,402.4 L163.0,403.9 L164.6,403.9 L164.3,402.3 M171.7,411.6 L170.6,411.3 L170.3,412.7 L171.7,413.4 L171.7,411.6 M159.2,394.8 L158.5,394.5 L158.3,396.2 L159.1,396.4 L159.2,394.8 M158.6,378.4 L159.4,380.1 L160.2,378.5 L158.6,378.4 M161.0,411.0 L161.5,411.9 L162.1,411.8 L162.1,410.6 L161.5,410.2 L161.0,411.0 M160.6,394.0 L159.8,393.8 L159.2,394.7 L159.9,395.8 L160.8,395.1 L160.6,394.0 M158.6,389.8 L158.1,388.2 L156.8,389.2 L157.6,390.8 L158.6,389.8 M178.0,415.3 L177.9,416.1 L178.2,416.8 L178.8,416.1 L178.5,414.9 L178.0,415.3 M158.5,387.7 L158.5,388.7 L158.9,389.1 L159.3,388.4 L159.0,387.5 L158.5,387.7 M168.5,416.2 L168.9,415.1 L168.3,414.4 L167.8,415.0 L167.8,416.6 L168.5,416.2 M160.5,367.3 L159.6,367.7 L160.0,368.3 L161.0,368.0 L160.5,367.3 M162.4,407.2 L161.9,409.1 L163.7,408.6 L162.4,407.2 M174.4,415.7 L173.8,416.3 L174.2,417.4 L175.0,416.6 L174.4,415.7 M159.7,405.8 L160.4,405.0 L159.3,404.7 L158.4,405.5 L159.7,405.8 M162.2,381.3 L163.2,381.8 L163.7,381.3 L162.2,381.3 M161.1,404.4 L161.1,403.2 L159.9,402.9 L159.2,403.7 L159.8,404.7 L161.1,404.4 M173.3,417.4 L174.5,418.0 L175.2,417.1 L174.8,416.2 L173.8,416.0 L173.3,417.4 M164.4,383.7 L164.0,382.5 L163.5,383.8 L164.1,385.0 L164.4,383.7 M163.1,367.0 L162.7,366.4 L162.5,367.5 L162.6,369.0 L163.0,368.6 L163.1,367.0 M168.9,414.2 L169.1,415.0 L170.2,414.8 L170.0,413.9 L168.9,414.2 M178.7,418.4 L179.1,419.4 L179.7,419.1 L179.9,418.0 L179.2,417.8 L178.7,418.4 M185.0,417.4 L185.4,416.5 L184.1,416.7 L185.0,417.4 M183.0,419.9 L183.9,418.7 L183.5,417.2 L182.2,417.3 L182.2,418.8 L183.0,419.9 M179.9,417.5 L180.1,416.9 L179.7,416.6 L179.3,417.0 L179.3,417.4 L179.9,417.5 M172.1,417.4 L171.5,416.4 L170.3,416.7 L170.2,417.9 L171.3,418.2 L172.1,417.4 M165.3,366.2 L163.5,366.8 L165.2,367.8 L165.3,366.2 M184.2,417.8 L184.6,418.8 L185.0,417.3 L184.7,415.7 L184.2,416.4 L184.2,417.8 M156.8,376.2 L157.3,377.3 L157.9,376.3 L157.6,374.9 L156.8,374.4 L156.8,376.2 M160.2,396.5 L159.8,397.1 L160.7,397.4 L161.5,397.0 L161.1,396.4 L160.2,396.5 M163.2,366.4 L162.4,365.5 L160.9,365.7 L161.3,367.1 L162.5,367.3 L163.2,366.4 M159.8,369.2 L159.6,370.6 L160.3,370.8 L160.4,369.2 L159.8,369.2 M158.9,389.0 L160.0,389.1 L160.6,388.4 L160.0,387.6 L158.7,388.0 L158.9,389.0 M174.9,415.4 L173.9,415.4 L173.9,416.8 L175.0,416.7 L174.9,415.4 M161.6,403.8 L161.5,402.3 L160.9,402.2 L160.8,404.2 L161.3,404.6 L161.6,403.8 M161.7,376.3 L160.9,374.5 L159.7,375.3 L159.4,377.1 L160.6,377.3 L161.7,376.3 M158.2,367.3 L158.7,367.6 L159.2,366.8 L158.9,365.4 L158.3,365.7 L158.2,367.3 M158.8,400.4 L160.0,400.3 L159.6,399.7 L158.4,399.9 L158.8,400.4 M160.0,403.8 L160.0,404.8 L160.7,404.9 L160.8,404.1 L160.0,403.8 M171.8,412.9 L172.3,412.3 L171.6,411.9 L171.8,412.9 M156.9,366.5 L157.0,368.1 L157.7,368.4 L157.7,366.8 L156.9,366.5 M162.0,362.8 L162.0,365.2 L162.5,364.1 L162.0,362.8 M159.7,401.8 L159.8,400.7 L159.1,400.3 L159.1,401.5 L159.7,401.8 M177.4,417.6 L176.3,418.0 L176.6,418.6 L177.7,418.7 L178.6,418.1 L177.4,417.6 M161.0,371.2 L161.7,372.1 L162.2,370.7 L161.5,370.1 L161.0,371.2 M158.5,399.2 L158.5,397.7 L157.9,397.4 L157.9,399.0 L158.5,399.2 M182.1,419.2 L181.4,420.6 L182.8,420.8 L182.1,419.2 M162.3,396.1 L163.3,396.0 L163.0,395.5 L162.3,395.5 L162.3,396.1 M157.0,398.6 L157.0,397.0 L155.6,397.0 L155.7,399.1 L157.0,398.6 M159.4,378.5 L159.8,379.3 L160.9,379.0 L160.5,378.2 L159.4,378.5 M160.3,387.1 L161.4,387.4 L161.8,385.9 L161.2,384.3 L160.0,385.3 L160.3,387.1 M156.4,380.1 L157.6,380.2 L157.2,378.4 L156.4,380.1 M158.3,371.2 L157.8,370.3 L157.3,371.5 L157.6,373.2 L158.2,372.7 L158.3,371.2 M161.5,405.8 L161.2,405.3 L160.6,405.3 L160.2,405.7 L160.9,406.1 L161.5,405.8 M158.5,379.8 L158.1,379.8 L158.2,381.5 L158.7,381.4 L158.5,379.8 M166.9,413.6 L167.4,412.3 L167.0,411.0 L166.5,412.2 L166.9,413.6 M162.9,367.2 L163.8,367.4 L164.7,366.4 L163.7,365.5 L162.6,365.8 L162.9,367.2 M162.0,390.3 L163.0,391.0 L163.9,389.9 L163.1,388.6 L162.0,388.6 L162.0,390.3 M182.4,419.1 L182.7,421.1 L184.2,419.6 L182.4,419.1 M161.7,404.5 L161.4,406.1 L162.5,405.7 L161.7,404.5 M161.7,362.7 L161.0,362.1 L160.5,363.3 L160.9,364.5 L161.6,364.1 L161.7,362.7 M162.5,375.0 L161.5,374.9 L161.1,376.0 L161.9,376.5 L162.6,376.0 L162.5,375.0 M157.7,385.7 L158.3,386.5 L158.8,385.8 L158.3,385.2 L157.7,385.7 M158.2,402.3 L159.3,402.4 L159.6,401.7 L158.5,401.6 L158.2,402.3 M162.9,406.6 L162.6,405.1 L161.4,406.0 L162.9,406.6 M167.8,411.7 L167.0,412.1 L167.9,412.4 L167.8,411.7 M165.5,369.7 L163.6,368.9 L163.0,371.2 L164.8,371.6 L165.5,369.7 M170.5,412.3 L171.6,412.5 L172.3,412.1 L171.5,411.7 L170.4,411.8 L170.5,412.3 M162.5,365.8 L161.9,366.4 L162.9,366.8 L162.5,365.8 M164.0,406.6 L164.4,407.3 L164.9,406.7 L164.7,405.5 L164.1,405.4 L164.0,406.6 M174.3,414.0 L173.4,414.1 L173.2,414.9 L173.8,415.4 L174.4,415.0 L174.3,414.0 M162.0,371.1 L161.2,369.2 L160.0,371.6 L162.0,371.1 M165.1,411.1 L165.7,409.7 L164.4,409.0 L163.6,409.9 L163.9,411.0 L165.1,411.1 M165.2,369.7 L164.8,370.8 L165.3,371.5 L165.7,370.6 L165.2,369.7 M162.8,408.1 L162.9,410.5 L164.2,409.5 L162.8,408.1 M162.7,369.8 L162.3,369.3 L161.9,369.7 L162.0,370.2 L162.4,370.3 L162.7,369.8 M158.9,403.5 L159.4,402.2 L158.8,401.5 L158.4,402.7 L158.9,403.5 M162.2,378.1 L162.0,377.0 L160.5,377.1 L160.1,378.0 L161.1,378.5 L162.2,378.1 M179.8,417.7 L178.7,418.2 L179.5,419.1 L180.6,418.6 L179.8,417.7 M163.4,407.1 L164.2,407.0 L164.2,405.8 L163.6,405.6 L163.1,406.2 L163.4,407.1 M165.2,386.8 L165.4,386.1 L164.1,385.9 L163.7,386.5 L164.2,387.1 L165.2,386.8 M169.7,411.6 L169.0,410.9 L168.8,412.5 L169.4,412.8 L169.7,411.6 M171.8,413.9 L171.6,414.7 L172.4,414.5 L171.8,413.9 M162.0,404.7 L160.2,403.8 L160.1,405.4 L162.0,404.7 M156.6,381.7 L156.7,383.1 L157.3,382.9 L157.8,381.8 L157.1,381.3 L156.6,381.7 M159.2,400.5 L159.9,398.0 L158.1,398.2 L159.2,400.5 M160.1,397.5 L160.7,396.8 L160.1,395.8 L158.8,396.2 L158.9,397.3 L160.1,397.5 M167.5,370.0 L167.8,368.8 L166.8,367.8 L166.0,369.2 L166.6,370.7 L167.5,370.0 M160.6,376.9 L160.2,377.8 L160.5,378.6 L161.2,378.3 L161.4,377.4 L160.6,376.9 M165.0,409.7 L166.5,410.2 L166.5,408.5 L165.0,409.7 M163.5,401.0 L164.2,401.0 L164.4,399.6 L164.0,398.5 L163.4,399.2 L163.5,401.0 M158.6,405.3 L158.8,405.8 L159.3,405.7 L159.4,405.3 L159.0,405.0 L158.6,405.3 M184.4,416.9 L183.8,417.4 L184.0,418.5 L184.6,418.1 L184.4,416.9 M157.2,389.9 L156.8,391.1 L157.3,392.0 L157.6,390.9 L157.2,389.9 M159.0,384.1 L159.1,385.6 L159.6,384.6 L159.0,384.1 M161.7,368.4 L160.7,366.8 L160.1,368.6 L161.7,368.4 M166.7,411.7 L165.4,412.5 L166.6,413.4 L167.5,412.5 L166.7,411.7 M166.5,411.3 L167.9,411.1 L166.9,410.6 L166.5,411.3 M159.1,390.4 L159.8,391.7 L161.0,391.1 L161.2,390.0 L160.0,389.4 L159.1,390.4 M158.1,387.1 L158.8,386.6 L158.2,386.0 L158.1,387.1 M172.5,416.0 L173.1,416.8 L173.2,415.6 L172.5,416.0 M160.5,366.4 L159.3,367.2 L160.4,368.1 L161.4,367.3 L160.5,366.4 M164.6,410.1 L165.6,410.6 L165.4,408.3 L164.6,410.1 M159.1,394.2 L159.9,394.9 L160.9,394.3 L160.0,393.5 L159.1,394.2 M184.5,417.5 L184.2,416.5 L183.5,416.5 L183.5,417.6 L184.0,418.2 L184.5,417.5 M162.1,402.7 L161.9,400.8 L160.8,402.5 L162.1,402.7 M165.3,367.9 L165.1,366.2 L163.2,367.1 L165.3,367.9 M164.5,370.9 L164.0,371.3 L164.1,372.5 L164.9,372.0 L164.5,370.9 M181.8,418.5 L180.9,417.0 L179.2,417.9 L180.4,419.2 L181.8,418.5 M161.3,411.7 L162.0,411.7 L162.4,411.3 L161.9,410.9 L161.4,411.2 L161.3,411.7 M161.3,394.0 L162.0,393.8 L161.6,393.3 L161.0,393.5 L161.3,394.0 M180.1,418.4 L178.9,418.9 L179.1,420.4 L180.2,420.0 L180.1,418.4 M163.3,404.2 L162.5,403.3 L161.1,404.0 L162.1,405.1 L163.3,404.2 M179.0,415.6 L178.4,417.0 L180.5,416.5 L179.0,415.6 M159.5,400.1 L158.5,398.5 L157.6,399.6 L158.1,401.6 L159.5,400.1 M169.3,410.6 L168.0,409.5 L167.1,411.0 L168.4,411.8 L169.3,410.6 M160.9,379.9 L162.0,380.6 L162.3,378.9 L161.4,378.2 L160.9,379.9 M159.2,389.5 L159.2,391.3 L160.1,391.2 L160.1,389.7 L159.2,389.5 M163.1,407.3 L163.8,407.3 L163.8,406.8 L162.9,406.8 L163.1,407.3 M180.1,416.8 L179.6,417.8 L180.7,417.9 L180.1,416.8 M159.0,387.7 L160.0,389.0 L161.4,388.2 L160.3,386.7 L159.0,387.7 M157.8,368.6 L157.6,370.0 L158.4,370.7 L159.2,369.9 L158.9,368.4 L157.8,368.6 M162.6,405.5 L161.8,405.0 L161.3,405.6 L161.3,407.1 L162.2,406.7 L162.6,405.5 M161.0,405.3 L160.5,404.0 L160.2,405.4 L160.6,406.6 L161.0,405.3 M161.1,405.0 L160.6,404.3 L160.4,405.9 L161.0,406.3 L161.1,405.0 M160.1,388.1 L161.1,389.4 L162.3,388.4 L160.1,388.1 M169.7,409.1 L169.0,409.6 L169.3,410.8 L169.8,410.5 L169.7,409.1 M156.3,382.7 L156.8,380.4 L154.9,381.0 L156.3,382.7 M180.5,417.6 L179.6,417.3 L179.5,418.3 L180.3,418.7 L180.5,417.6 M160.7,364.2 L161.4,364.7 L161.5,363.9 L160.7,364.2 M157.8,397.3 L158.5,395.7 L157.5,394.7 L157.0,396.2 L157.8,397.3 M162.2,371.9 L162.7,372.9 L163.5,372.3 L163.2,371.1 L162.4,370.6 L162.2,371.9 M174.7,414.1 L173.8,415.2 L174.9,415.9 L174.7,414.1 M159.9,362.0 L159.9,363.8 L160.7,364.0 L161.0,362.5 L159.9,362.0 M171.0,413.5 L170.5,414.9 L171.1,416.3 L171.8,414.8 L171.0,413.5 M160.7,366.5 L162.1,365.0 L159.9,364.6 L160.7,366.5 M180.8,417.2 L180.3,418.0 L181.4,418.5 L182.2,417.5 L180.8,417.2 M160.1,382.6 L159.6,384.2 L160.2,385.3 L160.6,384.1 L160.1,382.6 M169.5,415.5 L170.8,415.6 L171.1,414.6 L169.9,414.1 L168.6,414.7 L169.5,415.5 M176.9,418.0 L178.7,418.2 L178.3,416.3 L176.9,418.0 M160.9,403.1 L159.8,402.6 L160.3,404.6 L160.9,403.1 M158.7,363.9 L159.7,364.6 L160.2,362.8 L159.5,361.4 L158.4,362.0 L158.7,363.9 M161.0,374.9 L161.3,374.2 L160.6,373.7 L159.9,374.2 L160.1,374.8 L161.0,374.9 M363.1,136.9 L361.7,140.5 L363.8,144.1 L363.8,147.2 L364.2,150.0 L366.7,152.0 L370.2,155.1 L372.0,157.1 L374.8,161.1 L376.6,165.0 L379.1,169.0 L382.7,171.4 L385.2,173.4 M363.8,144.8 L370.2,144.4 L374.5,145.6 L370.2,146.4 L363.8,146.8 M364.2,149.6 L370.2,148.8 L374.8,148.8 L374.8,152.0 L371.6,153.2 L370.2,155.1 M374.8,148.8 L380.2,149.6 L383.0,150.8 L384.5,150.4 M376.3,163.1 L378.8,160.7 L381.6,159.1 L384.5,159.1 M382.7,171.4 L384.5,168.6 L385.9,165.8 M287.6,412.5 L291.9,413.1 L295.8,415.5 L293.3,414.9 L287.6,412.5 M323.2,421.6 L324.0,421.3 L323.8,422.1 L323.2,421.6 M325.3,423.2 L326.2,422.9 L325.9,423.7 L325.3,423.2 M327.8,424.8 L328.6,424.5 L328.4,425.3 L327.8,424.8 M328.9,427.6 L329.7,427.3 L329.5,428.1 L328.9,427.6 M329.2,430.0 L330.1,429.6 L329.8,430.4 L329.2,430.0 M328.5,432.3 L329.4,432.0 L329.1,432.8 L328.5,432.3 M326.0,433.9 L326.9,433.6 L326.6,434.4 L326.0,433.9 M203.6,150.8 L204.4,150.5 L204.2,151.3 L203.6,150.8 M205.4,146.4 L206.2,146.1 L206.0,146.9 L205.4,146.4 M206.1,143.7 L206.9,143.3 L206.7,144.1 L206.1,143.7 M206.1,140.9 L206.9,140.6 L206.7,141.4 L206.1,140.9 M211.4,146.4 L212.3,146.1 L212.0,146.9 L211.4,146.4 M174.0,149.2 L174.9,148.9 L174.6,149.7 L174.0,149.2 M177.6,150.4 L178.5,150.1 L178.2,150.9 L177.6,150.4 M180.1,150.4 L180.9,150.1 L180.7,150.9 L180.1,150.4 M195.4,155.1 L196.3,154.8 L196.0,155.6 L195.4,155.1 M101.4,201.1 L102.3,200.8 L102.0,201.6 L101.4,201.1 M98.2,200.3 L99.1,200.0 L98.8,200.8 L98.2,200.3 M98.9,202.3 L99.8,201.9 L99.6,202.7 L98.9,202.3 M104.6,202.3 L105.5,201.9 L105.2,202.7 L104.6,202.3 M102.9,203.8 L103.7,203.5 L103.5,204.3 L102.9,203.8 M206.4,137.7 L207.3,137.4 L207.0,138.2 L206.4,137.7 M132.4,149.2 L133.3,148.9 L133.0,149.7 L132.4,149.2 M307.9,213.9 L308.7,213.6 L308.5,214.4 L307.9,213.9 M135.6,332.2 L136.5,331.8 L136.2,332.6 L135.6,332.2 M142.4,331.8 L143.2,331.4 L143.0,332.2 L142.4,331.8 M98.3,198.3 L99.7,199.9 L99.7,202.3 L98.3,202.7 L98.0,200.7 L98.3,198.3"/></g></defs>
<text x="0.4" y="16.8" class="tt" textLength="62.6" lengthAdjust="spacingAndGlyphs">CPTEC</text>
<text x="76.9" y="16.8" class="tt" textLength="46.3" lengthAdjust="spacingAndGlyphs">INPE</text>
<text x="137.0" y="16.8" class="tt" textLength="37.9" lengthAdjust="spacingAndGlyphs">MCT</text>
<text x="215.8" y="16.8" class="tt" textLength="92.4" lengthAdjust="spacingAndGlyphs">PREVISAO</text>
<text x="323.0" y="16.8" class="tt" textLength="25.0" lengthAdjust="spacingAndGlyphs">DE</text>
<text x="360.2" y="16.8" class="tt" textLength="63.2" lengthAdjust="spacingAndGlyphs">TEMPO</text>
<text x="438.2" y="16.8" class="tt" textLength="74.6" lengthAdjust="spacingAndGlyphs">GLOBAL</text>
<text x="525.0" y="16.8" class="tt" textLength="40.2" lengthAdjust="spacingAndGlyphs">POR</text>
<text x="578.2" y="16.8" class="tt" textLength="103.0" lengthAdjust="spacingAndGlyphs">ENSEMBLE</text>
<text x="721.4" y="16.8" class="tt" textLength="124.9" lengthAdjust="spacingAndGlyphs">TQ0126L028</text>
<text x="145.5" y="38.0" class="tt" textLength="68.7" lengthAdjust="spacingAndGlyphs">Cluster</text>
<text x="227.3" y="38.0" class="tt" textLength="55.2" lengthAdjust="spacingAndGlyphs">Medio</text>
<text x="295.6" y="38.0" class="tt" textLength="43.6" lengthAdjust="spacingAndGlyphs">para</text>
<text x="353.1" y="38.0" class="tt" textLength="10.9" lengthAdjust="spacingAndGlyphs">a</text>
<text x="377.9" y="38.0" class="tt" textLength="125.2" lengthAdjust="spacingAndGlyphs">Temperatura</text>
<text x="515.3" y="38.0" class="tt" textLength="28.5" lengthAdjust="spacingAndGlyphs">(C)</text>
<text x="558.7" y="38.0" class="tt" textLength="29.5" lengthAdjust="spacingAndGlyphs">em</text>
<text x="602.0" y="38.0" class="tt" textLength="49.1" lengthAdjust="spacingAndGlyphs">1000</text>
<text x="665.0" y="38.0" class="tt" textLength="37.1" lengthAdjust="spacingAndGlyphs">hPa</text>
<text x="128.3" y="59.3" class="tt" textLength="83.3" lengthAdjust="spacingAndGlyphs">Previsao</text>
<text x="224.6" y="59.3" class="tt" textLength="33.9" lengthAdjust="spacingAndGlyphs">de:</text>
<text x="265.4" y="59.3" class="tt" textLength="142.8" lengthAdjust="spacingAndGlyphs">2020120500Z</text>
<text x="443.5" y="59.3" class="tt" textLength="58.7" lengthAdjust="spacingAndGlyphs">Valido</text>
<text x="514.4" y="59.3" class="tt" textLength="50.1" lengthAdjust="spacingAndGlyphs">para:</text>
<text x="578.2" y="59.3" class="tt" textLength="141.5" lengthAdjust="spacingAndGlyphs">2020120912Z</text>
<path d="M64.4,20.6 L75.5,1.3 M123.6,20.6 L134.9,1.3 M189.5,10.3 H201.6 M695.6,10.3 H708.4" stroke="#000" stroke-width="1.55" fill="none"/>
<clipPath id="clip1"><rect x="63.3" y="139.3" width="320.9" height="296.9"/></clipPath>
<g clip-path="url(#clip1)">
<rect x="62.3" y="138.3" width="322.9" height="298.9" fill="#ff6000"/>
<path d="M170.6,138.0 C171.8,137.3 179.3,138.2 180.5,139.0 C181.7,139.8 179.2,141.8 178.0,142.5 C176.8,143.2 174.2,143.8 173.0,143.0 C171.8,142.2 169.3,138.7 170.6,138.0 Z" fill="#ff3200"/>
<path d="M213.0,156.3 C213.7,155.5 217.0,155.5 219.5,156.3 C222.0,157.1 225.2,159.5 228.0,161.2 C230.8,162.8 234.1,164.6 236.5,166.2 C238.9,167.8 241.5,169.4 242.2,170.5 C242.9,171.6 242.7,173.1 240.8,172.6 C238.9,172.1 234.1,168.8 230.8,167.6 C227.5,166.4 223.6,166.6 221.0,165.5 C218.4,164.4 216.5,162.7 215.2,161.2 C213.9,159.7 212.3,157.1 213.0,156.3 Z" fill="#ff3200"/>
<path d="M242.9,174.7 C243.7,174.2 245.8,176.2 247.8,178.2 C249.8,180.2 253.0,184.3 254.9,186.7 C256.8,189.1 259.0,190.8 259.2,192.4 C259.4,194.0 257.7,195.7 256.3,196.0 C254.9,196.3 252.6,195.8 250.7,194.5 C248.8,193.2 246.3,190.4 245.0,188.2 C243.7,186.0 243.2,183.3 242.9,181.1 C242.6,178.8 242.1,175.2 242.9,174.7 Z" fill="#ff3200"/>
<path d="M342.0,166.0 C342.8,164.3 345.7,161.7 348.0,160.5 C350.3,159.3 352.7,159.3 356.0,158.8 C359.3,158.3 365.0,158.4 368.0,157.6 C371.0,156.8 372.3,155.1 374.0,154.0 C375.7,152.9 376.7,151.3 378.0,151.0 C379.3,150.7 380.7,150.5 382.0,152.0 C383.3,153.5 387.0,156.9 386.0,160.0 C385.0,163.1 380.2,168.1 376.0,170.5 C371.8,172.9 365.5,174.0 361.0,174.5 C356.5,175.0 352.0,174.2 349.0,173.5 C346.0,172.8 344.2,171.8 343.0,170.5 C341.8,169.2 341.2,167.7 342.0,166.0 Z" fill="#ff3200"/>
<path d="M182.7,227.8 C183.6,226.9 185.5,226.5 188.3,226.4 C191.1,226.3 196.4,227.2 199.7,227.1 C203.0,227.0 205.6,226.2 208.2,225.7 C210.8,225.2 213.9,223.5 215.3,224.3 C216.7,225.1 217.2,228.7 216.7,230.7 C216.2,232.7 214.1,234.9 212.4,236.3 C210.8,237.7 208.5,238.0 206.8,239.2 C205.2,240.4 204.4,242.7 202.5,243.4 C200.6,244.1 197.3,244.1 195.4,243.4 C193.5,242.7 192.6,240.1 191.2,239.2 C189.8,238.3 188.3,239.0 186.9,237.8 C185.5,236.6 183.7,233.7 183.0,232.0 C182.3,230.3 181.8,228.7 182.7,227.8 Z" fill="#ff3200"/>
<path d="M200.5,258.4 C201.7,257.1 204.9,255.8 207.5,255.7 C210.1,255.5 213.7,257.5 216.2,257.5 C218.7,257.5 220.4,255.3 222.3,255.7 C224.2,256.1 226.5,258.2 227.5,260.1 C228.5,262.0 228.1,264.8 228.4,267.1 C228.7,269.4 229.7,271.7 229.3,274.0 C228.9,276.3 227.2,279.2 225.8,281.0 C224.4,282.8 221.9,284.3 220.6,284.5 C219.3,284.7 218.6,281.6 218.0,282.0 C217.4,282.4 218.3,285.8 217.1,287.1 C215.9,288.4 212.8,289.1 211.0,289.7 C209.2,290.3 207.6,291.5 206.6,290.6 C205.6,289.7 205.1,286.5 204.9,284.5 C204.8,282.5 205.3,280.1 205.7,278.4 C206.1,276.6 207.9,275.6 207.5,274.0 C207.1,272.4 204.3,270.5 203.1,268.8 C201.9,267.1 200.9,265.3 200.5,263.6 C200.1,261.9 199.3,259.7 200.5,258.4 Z" fill="#ff3200"/>
<path d="M244.1,241.0 L247.6,241.0 L247.6,248.8 L245.0,248.8 Z" fill="#ff3200"/>
<path d="M224.0,160.0 C224.7,159.4 229.3,161.2 232.0,162.5 C234.7,163.8 238.2,166.4 240.0,168.0 C241.8,169.6 243.7,171.7 243.0,172.0 C242.3,172.3 238.5,171.0 236.0,170.0 C233.5,169.0 230.0,167.7 228.0,166.0 C226.0,164.3 223.3,160.6 224.0,160.0 Z" fill="#ff3200"/>
<path d="M142.5,150.0 C142.7,148.9 144.4,147.0 146.0,146.0 C147.6,145.0 150.8,143.9 152.0,144.0 C153.2,144.1 154.0,145.4 153.5,146.5 C153.0,147.6 150.4,149.5 149.0,150.5 C147.6,151.5 146.1,152.6 145.0,152.5 C143.9,152.4 142.3,151.1 142.5,150.0 Z" fill="#ff3200"/>
<path d="M74.2,132.0 C70.3,134.8 75.7,139.1 76.5,141.5 C77.3,143.9 77.7,145.4 78.9,146.4 C80.2,147.4 82.1,147.4 84.0,147.6 C85.9,147.8 87.3,147.3 90.2,147.7 C93.1,148.1 98.1,148.8 101.6,150.2 C105.1,151.5 108.2,153.8 111.0,155.8 C113.8,157.8 116.2,160.4 118.6,162.4 C121.0,164.4 123.0,166.9 125.2,168.1 C127.4,169.2 130.1,169.5 131.8,169.3 C133.5,169.2 135.1,168.2 135.6,167.2 C136.1,166.2 135.5,165.1 134.6,163.4 C133.7,161.7 131.0,159.5 129.9,156.8 C128.8,154.1 128.3,151.4 128.0,147.3 C127.7,143.2 132.7,135.7 128.0,132.0 C123.3,128.3 109.0,125.0 100.0,125.0 C91.0,125.0 78.1,129.2 74.2,132.0 Z" fill="#ffa000" stroke="#141414" stroke-width="0.75"/>
<path d="M350.0,136.0 C345.8,137.0 354.0,140.8 357.0,142.0 C360.0,143.2 364.7,143.3 368.0,143.5 C371.3,143.7 374.8,143.5 377.0,143.0 C379.2,142.5 380.2,141.7 381.0,140.5 C381.8,139.3 387.2,136.8 382.0,136.0 C376.8,135.2 354.2,135.0 350.0,136.0 Z" fill="#ffa000" stroke="#141414" stroke-width="0.75"/>
<path d="M40.0,182.0 C42.5,137.3 51.2,182.1 55.0,182.1 C58.8,182.1 60.2,181.8 63.0,182.2 C65.8,182.6 68.3,183.5 72.0,184.3 C75.7,185.1 81.2,186.5 85.0,187.0 C88.8,187.5 92.0,187.3 95.0,187.4 C98.0,187.5 100.2,187.1 103.0,187.4 C105.8,187.7 109.0,188.3 112.0,189.0 C115.0,189.7 118.0,191.0 121.0,191.4 C124.0,191.8 127.2,192.1 129.9,191.7 C132.6,191.3 135.4,190.3 137.4,188.9 C139.4,187.5 141.1,185.4 142.2,183.2 C143.3,181.0 143.5,178.2 144.0,175.7 C144.5,173.2 144.2,170.1 145.0,168.1 C145.8,166.1 147.2,165.0 148.8,163.4 C150.4,161.8 152.2,160.2 154.4,158.7 C156.6,157.2 159.5,155.4 162.0,154.5 C164.5,153.6 167.1,153.3 169.6,153.4 C172.1,153.5 174.3,154.1 177.0,154.9 C179.7,155.7 182.7,157.7 185.5,158.4 C188.3,159.1 191.4,158.4 194.0,159.1 C196.6,159.8 198.7,161.2 201.1,162.7 C203.5,164.2 206.1,166.4 208.2,168.3 C210.3,170.2 212.2,171.9 213.8,174.0 C215.5,176.1 216.4,179.4 218.1,181.1 C219.8,182.8 221.9,183.1 223.8,183.9 C225.7,184.7 228.0,184.8 229.4,186.0 C230.8,187.2 232.1,189.2 232.3,191.0 C232.5,192.8 231.8,195.5 230.8,196.7 C229.9,197.9 228.2,198.5 226.6,198.1 C224.9,197.7 222.8,196.0 220.9,194.5 C219.0,193.0 217.4,190.2 215.3,188.9 C213.2,187.6 210.6,187.0 208.2,186.8 C205.8,186.6 203.3,187.3 201.1,187.5 C198.9,187.7 196.9,188.0 195.0,188.0 C193.1,188.0 191.4,188.4 189.8,187.5 C188.2,186.6 186.7,184.8 185.5,182.5 C184.3,180.2 183.6,175.9 182.7,174.0 C181.8,172.1 180.8,171.3 179.8,171.2 C178.9,171.1 177.8,171.7 177.0,173.3 C176.2,175.0 176.3,178.4 174.9,181.1 C173.5,183.8 171.0,187.0 168.5,189.6 C166.0,192.2 162.0,193.7 160.0,196.7 C158.0,199.7 156.6,204.4 156.3,207.8 C156.0,211.2 156.9,214.0 158.2,217.2 C159.5,220.3 161.9,223.8 163.9,226.7 C165.9,229.6 168.1,232.1 170.0,234.8 C171.9,237.5 172.9,239.6 175.2,242.7 C177.5,245.8 181.0,249.6 183.9,253.1 C186.8,256.6 190.2,260.4 192.7,263.6 C195.2,266.8 197.5,269.4 198.8,272.3 C200.1,275.2 200.7,277.5 200.5,281.0 C200.3,284.5 198.8,289.4 197.9,293.2 C197.0,297.0 196.2,300.2 195.3,303.7 C194.4,307.2 192.5,311.2 192.7,314.1 C192.8,317.0 195.5,318.5 196.2,321.1 C196.9,323.7 197.0,327.2 197.0,329.8 C197.0,332.4 195.2,335.9 196.2,336.8 C197.2,337.7 200.8,336.0 203.1,335.1 C205.4,334.2 208.6,333.4 210.1,331.6 C211.6,329.9 211.4,327.5 211.8,324.6 C212.2,321.7 212.0,317.3 212.7,314.1 C213.4,310.9 214.0,308.0 216.2,305.4 C218.4,302.8 223.1,301.3 225.8,298.5 C228.5,295.7 230.5,290.6 232.4,288.4 C234.3,286.2 235.3,286.1 237.1,285.4 C238.9,284.7 241.0,284.9 243.0,284.2 C245.0,283.5 247.4,282.6 248.9,281.3 C250.4,280.0 251.5,278.1 251.9,276.5 C252.3,274.9 252.1,273.2 251.3,271.8 C250.5,270.4 248.3,269.7 247.2,268.3 C246.1,266.9 244.9,264.9 244.8,263.5 C244.7,262.1 245.3,261.4 246.6,260.0 C247.9,258.6 250.7,256.6 252.5,255.2 C254.3,253.8 255.9,252.8 257.2,251.7 C258.5,250.6 259.3,248.5 260.2,248.7 C261.1,248.9 262.4,251.5 262.5,252.9 C262.6,254.3 261.7,255.6 260.8,257.0 C259.9,258.4 258.1,259.7 257.2,261.2 C256.3,262.7 255.5,264.4 255.4,265.9 C255.3,267.4 255.7,269.1 256.5,270.0 C257.3,270.9 258.8,271.6 260.0,271.5 C261.2,271.4 262.9,270.4 263.8,269.5 C264.7,268.6 264.9,267.1 265.5,265.9 C266.1,264.7 266.4,263.5 267.3,262.3 C268.2,261.1 269.9,259.9 270.8,258.8 C271.7,257.7 272.7,257.0 272.6,255.8 C272.5,254.6 270.7,253.2 270.2,251.7 C269.7,250.2 269.4,248.7 269.6,247.0 C269.8,245.3 270.4,243.2 271.4,241.6 C272.4,240.0 274.2,238.7 275.6,237.5 C277.0,236.3 278.9,235.7 279.7,234.5 C280.5,233.3 280.3,231.7 280.3,230.4 C280.3,229.1 279.6,228.0 279.7,226.8 C279.8,225.6 279.9,223.4 280.9,223.3 C281.9,223.2 283.9,225.3 285.6,226.2 C287.3,227.1 289.9,227.9 290.9,228.6 C291.9,229.3 291.8,229.6 291.5,230.4 C291.2,231.2 290.4,232.8 289.2,233.3 C288.0,233.8 285.6,232.8 284.4,233.3 C283.2,233.8 282.7,234.8 282.1,236.3 C281.5,237.8 281.5,240.0 280.9,242.2 C280.3,244.4 279.4,246.7 278.5,249.3 C277.6,251.9 276.4,255.0 275.6,257.6 C274.8,260.2 274.4,262.3 273.8,264.7 C273.2,267.1 272.6,269.4 272.0,271.8 C271.4,274.2 271.1,276.7 270.2,278.9 C269.3,281.1 267.9,282.8 266.7,284.8 C265.5,286.8 263.9,288.8 263.1,290.7 C262.4,292.6 262.0,294.4 262.2,296.0 C262.4,297.6 263.4,299.1 264.3,300.2 C265.2,301.3 266.5,302.4 267.9,302.6 C269.3,302.8 271.0,302.1 272.6,301.4 C274.2,300.7 275.6,299.4 277.3,298.4 C279.0,297.4 280.9,296.3 283.0,295.5 C285.1,294.7 288.2,294.1 290.0,293.5 C291.8,292.9 292.1,293.1 293.9,291.9 C295.7,290.6 298.8,287.9 301.0,286.0 C303.2,284.1 304.4,283.0 306.9,280.7 C309.3,278.4 313.0,275.0 315.7,272.0 C318.4,269.0 320.7,265.8 323.2,262.6 C325.7,259.5 327.6,256.2 330.8,253.1 C334.0,249.9 337.7,247.2 342.1,243.7 C346.5,240.2 352.2,235.6 357.2,232.3 C362.2,229.0 367.9,225.8 372.3,223.8 C376.7,221.8 380.0,221.3 383.3,220.4 C386.6,219.5 389.2,218.9 392.0,218.5 C394.8,218.1 397.0,179.4 400.0,218.0 C403.0,256.6 470.0,411.3 410.0,450.0 C350.0,488.7 101.7,494.7 40.0,450.0 C-21.7,405.3 37.5,226.7 40.0,182.0 Z" fill="#ffa000" stroke="#141414" stroke-width="0.75"/>
<path d="M93.6,136.0 C88.6,136.8 95.3,139.7 97.0,141.0 C98.7,142.3 101.2,142.6 104.0,143.6 C106.8,144.6 110.9,146.2 113.5,147.2 C116.1,148.2 118.3,149.6 119.8,149.7 C121.3,149.8 121.2,149.2 122.3,147.8 C123.4,146.4 125.7,143.0 126.5,141.0 C127.3,139.0 132.7,136.8 127.2,136.0 C121.7,135.2 98.6,135.2 93.6,136.0 Z" fill="#ffc03c"/>
<path d="M122.3,147.8 C121.9,149.8 123.4,151.2 124.3,153.0 C125.2,154.8 126.4,156.8 127.5,158.5 C128.6,160.2 130.2,162.5 131.0,163.0 C131.8,163.5 132.6,163.0 132.3,161.5 C132.0,160.0 129.8,156.5 129.0,154.0 C128.2,151.5 127.6,148.7 127.2,146.5 C126.8,144.3 127.6,140.8 126.8,141.0 C126.0,141.2 122.7,145.8 122.3,147.8 Z" fill="#ffc03c"/>
<path d="M201.0,179.0 L204.5,175.4 L206.7,179.0 Z" fill="#ffc03c"/>
<path d="M40.0,194.4 C42.5,151.8 51.2,194.5 55.0,194.5 C58.8,194.5 59.0,194.0 63.0,194.6 C67.0,195.2 74.1,197.2 78.9,198.3 C83.8,199.4 88.6,199.9 92.1,201.2 C95.6,202.5 99.4,204.2 99.7,205.9 C100.0,207.6 95.3,209.7 94.0,211.6 C92.7,213.5 91.5,215.9 92.1,217.2 C92.7,218.5 95.3,219.5 97.8,219.6 C100.3,219.7 105.0,219.1 107.2,217.8 C109.4,216.5 109.4,213.6 111.0,211.6 C112.6,209.6 114.2,207.5 116.7,205.9 C119.2,204.3 123.1,203.3 126.1,202.1 C129.1,200.9 132.3,199.7 134.5,198.7 C136.7,197.7 137.5,197.3 139.0,195.9 C140.5,194.5 142.1,192.6 143.4,190.3 C144.7,188.1 145.8,185.0 146.8,182.4 C147.8,179.8 148.6,176.8 149.6,174.6 C150.6,172.4 151.6,170.5 153.0,169.0 C154.4,167.5 156.2,166.3 158.0,165.5 C159.8,164.7 161.6,164.2 163.5,164.4 C165.4,164.6 167.8,165.4 169.2,166.5 C170.6,167.6 172.0,168.9 172.2,171.0 C172.4,173.1 171.4,176.3 170.3,179.0 C169.2,181.7 167.7,184.5 165.9,186.9 C164.1,189.3 161.5,191.6 159.7,193.6 C157.9,195.6 156.5,197.3 155.2,199.2 C153.9,201.1 152.7,202.6 151.8,204.8 C151.0,207.1 150.2,210.2 150.1,212.7 C150.0,215.2 150.4,217.5 151.1,219.9 C151.8,222.3 153.0,224.7 154.0,226.9 C155.0,229.1 155.9,230.9 157.0,232.9 C158.1,234.9 159.0,237.2 160.4,238.8 C161.8,240.5 163.6,241.5 165.4,242.8 C167.2,244.1 169.4,245.3 171.4,246.8 C173.4,248.3 175.7,250.4 177.4,251.8 C179.1,253.2 180.2,253.8 181.7,255.5 C183.2,257.2 185.1,260.4 186.6,261.8 C188.1,263.2 189.2,262.5 190.8,263.8 C192.4,265.1 194.9,267.4 196.1,269.4 C197.3,271.4 197.5,273.7 197.8,275.9 C198.2,278.1 198.7,279.8 198.2,282.6 C197.7,285.5 196.2,289.5 195.0,293.0 C193.8,296.5 192.2,299.9 191.0,303.7 C189.8,307.5 188.1,311.2 187.5,315.9 C186.9,320.6 186.8,327.1 187.5,331.8 C188.2,336.5 189.5,340.8 191.5,343.8 C193.5,346.8 196.2,348.9 199.5,349.7 C202.8,350.5 208.2,349.5 211.4,348.7 C214.6,347.9 217.3,346.4 218.8,345.0 C220.3,343.6 220.0,342.5 220.6,340.3 C221.2,338.1 221.2,334.2 222.3,331.6 C223.5,329.0 226.3,326.9 227.5,324.6 C228.7,322.3 228.7,319.9 229.3,317.6 C229.9,315.3 230.1,313.6 231.0,310.7 C231.9,307.8 233.1,303.1 234.5,300.2 C235.9,297.3 237.7,294.6 239.7,293.2 C241.7,291.8 244.8,290.9 246.7,291.5 C248.6,292.1 250.5,294.1 251.1,296.7 C251.7,299.3 250.0,304.1 250.2,307.2 C250.3,310.3 249.6,314.0 252.0,315.3 C254.4,316.6 259.3,315.5 264.8,314.9 C270.3,314.3 278.2,312.9 284.8,311.9 C291.4,310.9 298.1,309.6 304.7,308.9 C311.3,308.2 318.0,308.6 324.6,307.9 C331.2,307.2 339.5,306.2 344.5,304.9 C349.5,303.6 352.2,302.0 354.5,299.9 C356.8,297.8 357.5,295.3 358.5,292.0 C359.5,288.7 360.2,284.0 360.5,280.0 C360.8,276.0 359.3,271.7 360.0,268.2 C360.7,264.7 362.4,261.9 364.8,258.8 C367.2,255.7 371.1,251.7 374.2,249.3 C377.3,246.9 380.3,245.8 383.3,244.6 C386.3,243.4 389.2,242.6 392.0,242.0 C394.8,241.4 397.0,206.3 400.0,241.0 C403.0,275.7 470.0,415.2 410.0,450.0 C350.0,484.8 101.7,492.6 40.0,450.0 C-21.7,407.4 37.5,237.0 40.0,194.4 Z" fill="#ffc03c"/>
<path d="M60.0,212.0 C61.0,209.8 64.2,211.7 66.0,212.5 C67.8,213.3 69.8,215.4 70.5,217.0 C71.2,218.6 70.8,220.6 70.0,222.0 C69.2,223.4 67.7,224.8 66.0,225.5 C64.3,226.2 61.0,228.2 60.0,226.0 C59.0,223.8 59.0,214.2 60.0,212.0 Z" fill="#ffa000"/>
<path d="M40.0,307.0 C42.5,283.1 51.0,306.8 55.0,306.5 C59.0,306.2 61.2,307.2 64.0,305.5 C66.8,303.8 69.7,298.9 72.0,296.0 C74.3,293.1 76.0,290.7 78.0,288.0 C80.0,285.3 82.9,283.3 84.0,280.0 C85.1,276.7 83.9,271.7 84.6,268.2 C85.3,264.7 86.1,262.2 88.3,258.8 C90.5,255.4 94.3,249.9 97.8,247.5 C101.3,245.1 104.7,244.9 109.1,244.6 C113.5,244.3 119.8,244.2 124.2,245.6 C128.6,247.0 132.1,250.0 135.6,253.1 C139.1,256.2 141.9,260.6 145.0,264.4 C148.1,268.2 151.9,272.4 154.4,275.8 C156.9,279.2 159.0,282.3 160.0,285.0 C161.0,287.7 160.3,289.2 160.6,292.0 C160.9,294.8 161.1,298.7 161.6,302.0 C162.1,305.3 162.7,309.2 163.6,312.0 C164.5,314.8 166.0,319.7 167.2,318.5 C168.4,317.3 169.7,308.8 170.6,305.0 C171.5,301.2 172.0,299.0 172.6,296.0 C173.2,293.0 173.8,290.1 174.3,287.1 C174.8,284.1 175.5,280.7 175.4,278.1 C175.3,275.5 174.9,273.4 173.7,271.4 C172.5,269.3 170.3,267.9 168.1,265.8 C165.9,263.7 162.9,261.5 160.3,259.0 C157.7,256.5 154.5,253.2 152.4,250.8 C150.3,248.4 149.2,246.8 147.9,244.8 C146.6,242.8 145.5,241.0 144.4,238.8 C143.3,236.7 142.3,234.1 141.4,231.9 C140.5,229.8 139.7,227.9 138.9,225.9 C138.1,223.9 137.1,222.1 136.6,219.9 C136.1,217.7 135.9,215.2 136.1,212.9 C136.2,210.6 136.9,208.2 137.5,206.0 C138.1,203.8 139.1,201.5 139.9,200.0 C140.7,198.5 141.2,198.6 142.3,197.0 C143.5,195.4 145.3,192.7 146.8,190.3 C148.3,187.9 150.1,185.2 151.3,182.4 C152.5,179.6 152.9,175.6 154.1,173.4 C155.3,171.2 156.9,170.4 158.5,169.5 C160.1,168.6 162.2,167.3 163.6,167.8 C165.0,168.3 166.6,170.4 167.0,172.3 C167.4,174.2 166.7,176.8 165.9,179.0 C165.2,181.2 164.0,183.6 162.5,185.8 C161.0,188.1 158.6,190.4 156.9,192.5 C155.2,194.6 153.6,196.5 152.4,198.1 C151.2,199.7 150.3,200.5 149.5,202.0 C148.7,203.5 147.8,205.0 147.3,207.0 C146.8,209.0 146.5,211.8 146.7,213.9 C146.8,216.1 147.5,217.9 148.2,219.9 C148.9,221.9 149.8,223.9 150.7,225.9 C151.6,227.9 152.7,229.9 153.8,231.9 C154.9,233.9 156.0,236.0 157.3,237.8 C158.6,239.6 160.0,241.3 161.7,242.8 C163.4,244.3 165.7,245.5 167.7,246.8 C169.7,248.1 171.8,249.4 173.7,250.8 C175.6,252.2 177.1,253.5 179.2,255.3 C181.3,257.1 184.3,259.4 186.5,261.5 C188.7,263.6 190.8,265.6 192.2,267.8 C193.6,270.0 194.6,272.4 195.2,274.7 C195.8,277.0 196.4,278.4 195.9,281.5 C195.4,284.6 193.3,289.3 192.0,293.0 C190.7,296.7 189.6,299.9 188.3,303.7 C187.1,307.5 185.3,310.9 184.5,315.9 C183.7,320.9 183.0,328.5 183.5,333.8 C184.0,339.1 185.5,344.4 187.5,347.7 C189.5,351.0 192.2,352.5 195.5,353.7 C198.8,354.9 203.3,355.2 207.4,354.7 C211.5,354.2 217.1,351.7 220.0,350.7 C222.9,349.7 222.8,349.8 225.0,348.7 C227.2,347.6 229.7,345.6 233.0,343.8 C236.3,342.0 240.6,339.6 244.9,337.8 C249.2,336.0 254.2,334.6 258.9,332.8 C263.5,331.0 267.8,328.5 272.8,326.8 C277.8,325.1 283.5,323.8 288.8,322.8 C294.1,321.8 299.4,320.8 304.7,320.8 C310.0,320.8 315.3,322.5 320.6,322.8 C325.9,323.1 331.3,322.8 336.6,322.8 C341.9,322.8 347.2,322.6 352.5,322.8 C357.8,323.0 363.4,323.5 368.5,323.8 C373.6,324.1 379.5,324.6 383.4,324.8 C387.3,325.0 389.2,325.0 392.0,325.0 C394.8,325.0 397.0,304.2 400.0,325.0 C403.0,345.8 470.0,429.2 410.0,450.0 C350.0,470.8 101.7,473.8 40.0,450.0 C-21.7,426.2 37.5,330.9 40.0,307.0 Z" fill="#ffe878"/>
<path d="M50.0,326.3 C52.3,326.4 59.0,326.4 64.0,326.8 C69.0,327.2 74.7,327.8 80.0,328.8 C85.3,329.8 90.6,331.1 95.9,332.8 C101.2,334.5 107.5,337.2 111.8,338.8 C116.1,340.4 119.1,341.9 121.8,342.2 C124.5,342.5 126.5,342.2 127.7,340.8 C128.9,339.4 128.7,336.6 128.9,333.8 C129.1,331.0 127.9,326.8 128.7,323.8 C129.5,320.8 131.5,318.4 133.7,315.9 C135.9,313.4 139.7,311.1 141.7,308.9 C143.7,306.7 144.3,304.4 145.7,302.9 C147.1,301.4 148.3,300.0 150.0,299.8 C151.7,299.6 154.3,299.9 155.6,301.9 C156.9,303.9 156.9,308.2 157.6,311.9 C158.3,315.5 158.9,319.8 159.6,323.8 C160.3,327.8 160.8,332.7 161.6,335.8 C162.4,338.9 163.4,340.4 164.5,342.5 C165.6,344.6 166.2,346.2 168.2,348.3 C170.2,350.4 173.7,353.0 176.4,354.9 C179.2,356.8 181.7,358.3 184.7,359.8 C187.7,361.3 191.0,362.9 194.6,364.0 C198.2,365.1 202.1,365.8 206.2,366.4 C210.3,366.9 215.3,367.1 219.4,367.3 C223.5,367.5 227.7,366.8 231.0,367.3 C234.3,367.9 236.8,369.6 239.3,370.6 C241.8,371.6 243.7,372.8 245.9,373.1 C248.1,373.5 250.6,373.2 252.5,372.7 C254.4,372.1 256.0,371.4 257.4,369.8 C258.8,368.2 259.3,365.3 260.7,363.1 C262.1,360.9 263.8,358.7 265.7,356.5 C267.6,354.3 269.8,351.8 272.3,349.9 C274.8,348.0 276.9,346.2 280.6,345.3 C284.3,344.4 290.0,344.6 294.7,344.2 C299.4,343.8 303.7,343.7 308.7,342.8 C313.7,341.9 320.0,340.0 324.6,338.8 C329.2,337.6 332.6,336.3 336.6,335.8 C340.6,335.3 343.9,335.3 348.5,335.8 C353.1,336.3 358.9,337.8 364.5,338.8 C370.1,339.8 377.1,341.0 382.4,341.8 C387.6,342.6 393.7,343.2 396.0,343.5 L396.2,448.2 L51.3,448.2 L50.0,326.3 Z" fill="#78b9fa" stroke="#141414" stroke-width="0.75"/>
<path d="M50.0,339.5 C52.3,339.6 59.0,339.4 64.0,339.8 C69.0,340.2 74.0,340.2 80.0,341.8 C86.0,343.4 93.8,347.1 99.8,349.7 C105.8,352.3 111.1,355.4 115.8,357.7 C120.5,360.0 123.7,361.5 127.7,363.7 C131.7,365.9 136.7,369.4 139.7,370.7 C142.7,372.0 144.2,372.5 145.7,371.7 C147.2,370.9 147.9,368.7 148.7,365.7 C149.5,362.7 150.2,356.9 150.7,353.7 C151.2,350.5 151.0,348.1 151.7,346.5 C152.3,344.9 153.5,343.8 154.6,343.8 C155.7,343.8 156.6,344.6 158.0,346.5 C159.4,348.4 160.9,352.1 163.2,354.9 C165.4,357.7 168.7,360.9 171.5,363.1 C174.3,365.3 176.8,366.4 179.8,368.1 C182.8,369.8 186.4,371.6 189.7,373.1 C193.0,374.6 196.3,376.4 199.6,377.2 C202.9,378.0 206.2,377.7 209.5,378.0 C212.8,378.3 216.4,378.2 219.4,378.8 C222.4,379.4 224.7,379.9 227.7,381.3 C230.7,382.7 234.0,385.5 237.6,387.1 C241.2,388.8 245.6,390.2 249.2,391.2 C252.8,392.2 255.8,393.0 259.1,392.9 C262.4,392.8 266.0,391.5 269.0,390.4 C272.0,389.3 274.8,388.1 277.3,386.3 C279.8,384.5 281.8,381.9 283.9,379.7 C286.0,377.5 287.2,375.4 290.0,373.1 C292.8,370.8 296.9,367.8 300.7,365.7 C304.5,363.6 308.0,362.2 312.7,360.7 C317.4,359.2 323.3,357.5 328.6,356.7 C333.9,355.9 338.5,355.5 344.5,355.7 C350.5,355.9 358.0,357.0 364.5,357.7 C371.0,358.4 378.1,359.2 383.4,359.7 C388.6,360.2 393.9,360.6 396.0,360.8 L396.2,448.2 L51.3,448.2 L50.0,339.5 Z" fill="#3c96f5"/>
<path d="M50.0,356.5 C52.3,356.5 59.0,356.3 64.0,356.7 C69.0,357.1 74.0,357.2 80.0,358.7 C86.0,360.2 93.8,363.2 99.8,365.7 C105.8,368.2 111.1,371.0 115.8,373.6 C120.5,376.2 123.7,379.3 127.7,381.6 C131.7,383.9 136.3,386.4 139.7,387.6 C143.1,388.8 145.2,389.2 148.0,389.0 C150.8,388.8 154.1,386.9 156.6,386.5 C159.1,386.1 161.0,385.5 163.2,386.3 C165.4,387.1 167.3,389.6 169.8,391.2 C172.3,392.8 175.1,395.1 178.1,396.2 C181.1,397.3 184.4,397.1 188.0,397.9 C191.6,398.7 196.3,400.5 199.6,401.2 C202.9,401.9 205.4,402.3 207.9,402.0 C210.4,401.7 212.3,400.8 214.5,399.5 C216.7,398.2 218.9,395.6 221.1,394.5 C223.3,393.4 225.2,392.8 227.7,392.9 C230.2,393.0 233.0,394.4 236.0,395.4 C239.0,396.4 242.6,398.0 245.9,398.7 C249.2,399.4 252.5,399.6 255.8,399.5 C259.1,399.4 262.4,398.7 265.7,397.9 C269.0,397.1 272.6,395.9 275.6,394.5 C278.6,393.1 281.6,391.0 283.9,389.5 C286.2,388.0 286.4,387.4 289.2,385.3 C292.0,383.2 296.8,379.2 300.6,376.8 C304.4,374.4 308.1,372.6 311.9,371.2 C315.7,369.8 318.8,368.9 323.2,368.3 C327.6,367.7 332.6,367.6 338.3,367.4 C344.0,367.2 349.7,367.0 357.2,367.0 C364.7,367.0 376.8,367.3 383.3,367.4 C389.8,367.5 393.9,367.6 396.0,367.6 L396.2,448.2 L51.3,448.2 L50.0,356.5 Z" fill="#1e6eeb"/>
<path d="M50.0,380.3 C52.3,380.4 59.7,380.2 64.0,380.6 C68.3,381.0 71.6,380.8 75.9,382.6 C80.2,384.4 85.2,388.8 89.9,391.6 C94.6,394.4 98.8,397.2 103.8,399.5 C108.8,401.8 114.8,403.3 119.8,405.5 C124.8,407.7 129.4,410.6 133.7,412.5 C138.0,414.4 141.3,416.1 145.7,417.2 C150.1,418.3 155.9,419.1 159.9,419.3 C163.9,419.5 166.5,418.5 169.8,418.5 C173.1,418.5 176.5,418.9 179.8,419.3 C183.1,419.7 186.7,420.6 189.7,421.0 C192.7,421.4 195.2,422.1 197.9,421.8 C200.7,421.5 203.7,420.5 206.2,419.3 C208.7,418.1 210.6,415.9 212.8,414.4 C215.0,412.9 216.9,411.0 219.4,410.2 C221.9,409.4 224.9,409.2 227.7,409.4 C230.5,409.5 233.5,411.0 236.0,411.1 C238.5,411.2 239.8,410.8 242.6,410.2 C245.3,409.6 248.7,408.8 252.5,407.8 C256.4,406.9 261.8,405.5 265.7,404.5 C269.6,403.5 272.6,403.4 275.6,402.0 C278.6,400.6 281.6,397.9 283.9,396.4 C286.2,394.9 286.4,394.6 289.2,392.9 C292.0,391.2 296.8,388.4 300.6,386.3 C304.4,384.2 308.1,381.9 311.9,380.6 C315.7,379.3 318.8,379.2 323.2,378.7 C327.6,378.2 332.6,377.9 338.3,377.8 C344.0,377.7 349.7,377.8 357.2,377.8 C364.7,377.8 376.8,377.8 383.3,377.8 C389.8,377.8 393.9,377.8 396.0,377.8 L396.2,448.2 L51.3,448.2 L50.0,380.3 Z" fill="#1464d2"/>
<path d="M229.0,445.0 C229.5,443.7 230.8,439.9 232.0,437.0 C233.2,434.1 234.3,430.4 236.3,427.5 C238.3,424.6 240.8,421.4 243.9,419.3 C247.1,417.2 250.8,416.3 255.2,414.6 C259.6,412.9 265.3,410.8 270.3,408.9 C275.3,407.0 281.0,405.2 285.4,403.3 C289.8,401.4 293.0,399.2 296.8,397.6 C300.6,396.0 303.7,394.8 308.1,393.8 C312.5,392.9 317.5,392.3 323.2,391.9 C328.9,391.5 335.8,391.4 342.1,391.4 C348.4,391.4 354.1,391.6 361.0,391.9 C367.9,392.2 377.5,392.9 383.3,393.3 C389.1,393.7 393.9,393.9 396.0,394.0 L396.2,448.2 L51.3,448.2 L229.0,445.0 Z" fill="#1a50d2"/>
<path d="M282.8,426.4 C283.5,424.6 286.2,420.8 288.8,418.5 C291.4,416.2 295.1,413.9 298.7,412.5 C302.3,411.1 307.0,410.4 310.7,410.1 C314.4,409.8 317.3,409.6 320.6,410.5 C323.9,411.4 330.3,413.8 330.6,415.5 C330.9,417.2 325.6,418.7 322.6,420.5 C319.6,422.3 316.4,425.0 312.7,426.4 C309.0,427.8 304.4,428.3 300.7,429.0 C297.0,429.7 293.3,430.3 290.7,430.4 C288.1,430.5 286.1,430.1 284.8,429.4 C283.5,428.7 282.1,428.2 282.8,426.4 Z" fill="#4b3cc8" stroke="#141414" stroke-width="0.75"/>
<g transform="translate(0.0,0.0)" fill="none" stroke="#a0a0a0" stroke-width="0.65" stroke-linejoin="round">
<use href="#mapl"/>
</g>
<rect x="76.9" y="147.5" width="12.2" height="9.0" fill="#fff"/>
<text x="83.0" y="155.8" class="cl" text-anchor="middle" textLength="10.8" lengthAdjust="spacingAndGlyphs">24</text>
<rect x="113.9" y="187.5" width="12.2" height="9.0" fill="#fff"/>
<text x="120.0" y="195.8" class="cl" text-anchor="middle" textLength="10.8" lengthAdjust="spacingAndGlyphs">24</text>
<rect x="190.4" y="188.0" width="12.2" height="9.0" fill="#fff"/>
<text x="196.5" y="196.3" class="cl" text-anchor="middle" textLength="10.8" lengthAdjust="spacingAndGlyphs">24</text>
<rect x="253.7" y="267.1" width="12.2" height="9.0" fill="#fff"/>
<text x="259.8" y="275.4" class="cl" text-anchor="middle" textLength="10.8" lengthAdjust="spacingAndGlyphs">24</text>
<rect x="280.9" y="291.1" width="12.2" height="9.0" fill="#fff"/>
<text x="287.0" y="299.4" class="cl" text-anchor="middle" textLength="10.8" lengthAdjust="spacingAndGlyphs">24</text>
<rect x="144.2" y="292.3" width="12.2" height="9.0" fill="#fff"/>
<text x="150.3" y="300.6" class="cl" text-anchor="middle" textLength="10.8" lengthAdjust="spacingAndGlyphs">15</text>
<rect x="281.1" y="339.5" width="12.2" height="9.0" fill="#fff"/>
<text x="287.2" y="347.8" class="cl" text-anchor="middle" textLength="10.8" lengthAdjust="spacingAndGlyphs">15</text>
<rect x="286.8" y="426.5" width="7.0" height="9.0" fill="#fff"/>
<text x="290.3" y="434.8" class="cl" text-anchor="middle" textLength="5.6" lengthAdjust="spacingAndGlyphs">0</text>
</g>
<rect x="63.3" y="139.3" width="320.9" height="296.9" fill="none" stroke="#000" stroke-width="1.7"/>
<path d="M63.3,139.3 h-3.6" stroke="#000" stroke-width="1.3"/>
<text x="58.1" y="142.7" class="yl" text-anchor="end">15N</text>
<path d="M63.3,159.1 h-3.6" stroke="#000" stroke-width="1.3"/>
<text x="58.1" y="162.5" class="yl" text-anchor="end">10N</text>
<path d="M63.3,178.9 h-3.6" stroke="#000" stroke-width="1.3"/>
<text x="58.1" y="182.3" class="yl" text-anchor="end">5N</text>
<path d="M63.3,198.7 h-3.6" stroke="#000" stroke-width="1.3"/>
<text x="58.1" y="202.1" class="yl" text-anchor="end">EQ</text>
<path d="M63.3,218.5 h-3.6" stroke="#000" stroke-width="1.3"/>
<text x="58.1" y="221.9" class="yl" text-anchor="end">5S</text>
<path d="M63.3,238.3 h-3.6" stroke="#000" stroke-width="1.3"/>
<text x="58.1" y="241.7" class="yl" text-anchor="end">10S</text>
<path d="M63.3,258.1 h-3.6" stroke="#000" stroke-width="1.3"/>
<text x="58.1" y="261.5" class="yl" text-anchor="end">15S</text>
<path d="M63.3,277.9 h-3.6" stroke="#000" stroke-width="1.3"/>
<text x="58.1" y="281.3" class="yl" text-anchor="end">20S</text>
<path d="M63.3,297.6 h-3.6" stroke="#000" stroke-width="1.3"/>
<text x="58.1" y="301.0" class="yl" text-anchor="end">25S</text>
<path d="M63.3,317.4 h-3.6" stroke="#000" stroke-width="1.3"/>
<text x="58.1" y="320.8" class="yl" text-anchor="end">30S</text>
<path d="M63.3,337.2 h-3.6" stroke="#000" stroke-width="1.3"/>
<text x="58.1" y="340.6" class="yl" text-anchor="end">35S</text>
<path d="M63.3,357.0 h-3.6" stroke="#000" stroke-width="1.3"/>
<text x="58.1" y="360.4" class="yl" text-anchor="end">40S</text>
<path d="M63.3,376.8 h-3.6" stroke="#000" stroke-width="1.3"/>
<text x="58.1" y="380.2" class="yl" text-anchor="end">45S</text>
<path d="M63.3,396.6 h-3.6" stroke="#000" stroke-width="1.3"/>
<text x="58.1" y="400.0" class="yl" text-anchor="end">50S</text>
<path d="M63.3,416.4 h-3.6" stroke="#000" stroke-width="1.3"/>
<text x="58.1" y="419.8" class="yl" text-anchor="end">55S</text>
<path d="M63.3,436.2 h-3.6" stroke="#000" stroke-width="1.3"/>
<text x="58.1" y="439.6" class="yl" text-anchor="end">60S</text>
<path d="M67.7,436.2 v3.4" stroke="#000" stroke-width="1.3"/>
<text x="68.1" y="447.5" class="xl" text-anchor="middle" textLength="21.3" lengthAdjust="spacingAndGlyphs">100W</text>
<path d="M103.3,436.2 v3.4" stroke="#000" stroke-width="1.3"/>
<text x="103.7" y="447.5" class="xl" text-anchor="middle" textLength="16.7" lengthAdjust="spacingAndGlyphs">90W</text>
<path d="M138.9,436.2 v3.4" stroke="#000" stroke-width="1.3"/>
<text x="139.3" y="447.5" class="xl" text-anchor="middle" textLength="16.7" lengthAdjust="spacingAndGlyphs">80W</text>
<path d="M174.5,436.2 v3.4" stroke="#000" stroke-width="1.3"/>
<text x="174.9" y="447.5" class="xl" text-anchor="middle" textLength="16.7" lengthAdjust="spacingAndGlyphs">70W</text>
<path d="M210.1,436.2 v3.4" stroke="#000" stroke-width="1.3"/>
<text x="210.5" y="447.5" class="xl" text-anchor="middle" textLength="16.7" lengthAdjust="spacingAndGlyphs">60W</text>
<path d="M245.7,436.2 v3.4" stroke="#000" stroke-width="1.3"/>
<text x="246.1" y="447.5" class="xl" text-anchor="middle" textLength="16.7" lengthAdjust="spacingAndGlyphs">50W</text>
<path d="M281.2,436.2 v3.4" stroke="#000" stroke-width="1.3"/>
<text x="281.6" y="447.5" class="xl" text-anchor="middle" textLength="16.7" lengthAdjust="spacingAndGlyphs">40W</text>
<path d="M316.8,436.2 v3.4" stroke="#000" stroke-width="1.3"/>
<text x="317.2" y="447.5" class="xl" text-anchor="middle" textLength="16.7" lengthAdjust="spacingAndGlyphs">30W</text>
<path d="M352.4,436.2 v3.4" stroke="#000" stroke-width="1.3"/>
<text x="352.8" y="447.5" class="xl" text-anchor="middle" textLength="16.7" lengthAdjust="spacingAndGlyphs">20W</text>
<text x="108.2" y="129.8" class="pt" textLength="68.2" lengthAdjust="spacing">cluster:</text>
<text x="193.3" y="129.8" class="pt" text-anchor="middle">1</text>
<text x="223.9" y="129.8" class="pt" textLength="92.4" lengthAdjust="spacing">membros:</text>
<text x="333.6" y="129.8" class="pt" text-anchor="middle">5</text>
<clipPath id="clip2"><rect x="522.1" y="139.3" width="320.9" height="296.9"/></clipPath>
<g clip-path="url(#clip2)">
<rect x="521.1" y="138.3" width="322.9" height="298.9" fill="#ff6000"/>
<path d="M598.3,150.0 C598.3,148.7 603.0,145.3 605.8,144.0 C608.5,142.7 612.3,142.1 614.8,142.0 C617.3,141.9 620.8,142.4 620.8,143.5 C620.8,144.6 617.3,147.1 614.8,148.5 C612.3,149.9 608.5,151.8 605.8,152.0 C603.0,152.2 598.3,151.3 598.3,150.0 Z" fill="#ff3200"/>
<path d="M624.8,141.0 C625.8,140.2 632.7,138.9 636.8,139.5 C640.9,140.1 648.8,143.4 649.3,144.5 C649.8,145.6 642.9,145.9 639.8,145.8 C636.7,145.7 633.3,144.8 630.8,144.0 C628.3,143.2 623.8,141.8 624.8,141.0 Z" fill="#ff3200"/>
<path d="M667.8,155.0 C668.1,153.9 671.0,152.7 672.8,152.5 C674.6,152.3 677.1,153.1 678.8,154.0 C680.5,154.9 680.4,156.3 682.8,158.0 C685.2,159.7 692.2,162.2 693.4,164.0 C694.6,165.8 691.4,168.3 689.8,169.0 C688.2,169.7 685.8,169.2 683.8,168.0 C681.8,166.8 680.0,163.5 677.8,162.0 C675.6,160.5 672.5,160.2 670.8,159.0 C669.1,157.8 667.5,156.1 667.8,155.0 Z" fill="#ff3200"/>
<path d="M669.8,139.0 C671.1,138.7 676.6,139.8 678.8,141.0 C681.0,142.2 683.1,145.0 682.8,146.0 C682.5,147.0 678.8,147.5 676.8,147.0 C674.8,146.5 672.0,144.3 670.8,143.0 C669.6,141.7 668.5,139.3 669.8,139.0 Z" fill="#ff3200"/>
<path d="M801.8,163.0 C802.4,161.1 805.3,158.8 808.3,157.5 C811.3,156.2 816.0,155.4 819.8,155.0 C823.6,154.6 829.0,155.8 831.3,155.0 C833.6,154.2 832.5,151.3 833.8,150.0 C835.0,148.7 837.0,147.3 838.8,147.0 C840.6,146.7 843.8,144.5 844.8,148.0 C845.8,151.5 847.0,164.2 844.8,168.0 C842.5,171.8 836.1,170.3 831.3,171.0 C826.5,171.7 820.6,172.2 816.2,171.9 C811.8,171.6 807.2,170.5 804.8,169.0 C802.4,167.5 801.2,164.9 801.8,163.0 Z" fill="#ff3200"/>
<path d="M638.8,222.0 C639.0,221.1 640.5,221.2 641.8,222.5 C643.1,223.8 646.3,227.9 646.8,229.5 C647.3,231.1 646.0,232.2 645.0,232.0 C644.0,231.8 641.8,229.7 640.8,228.0 C639.8,226.3 638.6,222.9 638.8,222.0 Z" fill="#ff3200"/>
<path d="M654.8,234.0 C655.5,230.7 660.1,224.8 662.8,222.0 C665.5,219.2 668.5,217.5 670.8,217.0 C673.1,216.5 676.0,217.2 676.8,219.0 C677.6,220.8 676.6,225.2 675.8,228.0 C675.0,230.8 673.0,233.5 671.8,236.0 C670.6,238.5 670.3,240.7 668.8,243.0 C667.3,245.3 664.6,249.2 662.8,250.0 C661.0,250.8 658.5,249.3 657.8,248.0 C657.1,246.7 659.3,244.3 658.8,242.0 C658.3,239.7 654.1,237.3 654.8,234.0 Z" fill="#ff3200"/>
<path d="M697.7,240.0 C698.9,236.7 702.7,232.0 704.7,230.0 C706.7,228.0 708.2,226.7 709.7,228.0 C711.2,229.3 713.1,234.3 713.6,238.0 C714.1,241.7 713.8,247.0 712.6,250.0 C711.5,253.0 708.5,254.7 706.7,256.0 C704.9,257.3 703.2,258.8 701.7,257.8 C700.2,256.8 698.4,253.0 697.7,250.0 C697.0,247.0 696.5,243.3 697.7,240.0 Z" fill="#ff3200"/>
<path d="M665.8,275.7 C666.3,272.7 667.3,266.7 668.8,263.7 C670.3,260.7 672.5,259.1 674.8,257.8 C677.1,256.5 680.6,255.3 682.8,255.8 C685.0,256.3 686.8,258.7 687.8,260.7 C688.8,262.7 687.5,265.9 688.8,267.7 C690.1,269.5 693.6,270.0 695.8,271.7 C698.0,273.4 700.3,276.4 701.8,277.7 C703.3,279.0 704.5,278.4 704.8,279.7 C705.1,281.0 705.1,284.0 703.8,285.6 C702.5,287.2 699.3,289.1 696.8,289.6 C694.3,290.1 691.1,289.3 688.8,288.6 C686.5,287.9 685.0,285.9 682.8,285.6 C680.6,285.3 678.1,286.6 675.8,286.6 C673.5,286.6 670.5,286.4 668.8,285.6 C667.1,284.8 666.3,283.2 665.8,281.6 C665.3,280.0 665.3,278.7 665.8,275.7 Z" fill="#ff3200"/>
<path d="M530.3,132.0 C525.9,134.8 531.5,138.9 532.3,141.5 C533.1,144.1 533.2,146.0 535.1,147.3 C537.0,148.6 540.6,149.0 543.6,149.2 C546.6,149.4 549.9,147.8 553.0,148.3 C556.1,148.8 559.2,150.3 562.4,152.0 C565.5,153.7 568.8,156.3 571.9,158.7 C575.0,161.1 578.1,164.4 581.3,166.2 C584.4,168.0 588.4,169.4 590.8,169.6 C593.2,169.8 595.2,168.7 595.5,167.2 C595.8,165.7 594.0,162.6 592.7,160.6 C591.4,158.6 588.9,157.1 587.9,154.9 C586.9,152.7 586.8,151.1 586.6,147.3 C586.4,143.5 591.2,135.7 586.6,132.0 C582.0,128.3 568.2,125.0 558.8,125.0 C549.4,125.0 534.7,129.2 530.3,132.0 Z" fill="#ffa000" stroke="#141414" stroke-width="0.75"/>
<path d="M759.5,137.0 C758.3,137.8 762.2,139.8 763.8,140.5 C765.3,141.2 767.3,141.3 768.8,141.0 C770.3,140.7 772.5,139.3 772.8,138.5 C773.1,137.7 773.0,136.2 770.8,136.0 C768.6,135.8 760.7,136.2 759.5,137.0 Z" fill="#ffa000" stroke="#141414" stroke-width="0.75"/>
<path d="M814.3,137.0 C813.8,137.7 816.5,140.0 817.8,140.3 C819.0,140.6 821.3,139.7 821.8,139.0 C822.3,138.3 822.0,136.3 820.8,136.0 C819.5,135.7 814.8,136.3 814.3,137.0 Z" fill="#ffa000" stroke="#141414" stroke-width="0.75"/>
<path d="M498.8,182.0 C501.3,137.4 509.8,182.1 513.8,182.2 C517.8,182.2 518.8,181.7 522.8,182.3 C526.8,183.0 532.2,185.1 537.9,186.1 C543.6,187.1 550.8,187.7 556.8,188.5 C562.8,189.3 568.5,190.6 573.8,191.2 C579.1,191.8 585.0,192.4 588.8,192.3 C592.6,192.2 594.3,192.0 596.4,190.8 C598.5,189.6 600.1,187.3 601.2,185.1 C602.3,182.9 602.8,180.1 603.1,177.6 C603.4,175.1 602.6,172.1 603.1,170.0 C603.6,167.9 604.2,167.2 605.9,165.3 C607.6,163.4 610.9,160.5 613.4,158.7 C615.9,156.9 618.2,155.3 621.0,154.5 C623.8,153.7 627.2,153.8 630.4,153.9 C633.5,154.0 636.4,154.0 639.9,154.9 C643.4,155.8 647.7,158.0 651.2,159.6 C654.7,161.2 657.9,162.6 660.7,164.3 C663.5,166.0 666.2,167.9 668.2,170.0 C670.2,172.1 671.8,174.4 672.9,176.6 C674.0,178.8 674.9,181.3 674.8,183.2 C674.6,185.1 673.7,186.6 672.0,187.9 C670.3,189.2 667.3,190.2 664.5,190.8 C661.7,191.4 657.5,191.8 655.0,191.2 C652.5,190.6 650.9,188.7 649.3,187.0 C647.7,185.3 646.9,183.1 645.6,181.3 C644.4,179.5 643.2,177.0 641.8,176.0 C640.4,175.0 638.9,174.8 637.3,175.5 C635.7,176.2 634.4,178.3 632.3,180.4 C630.2,182.5 627.3,185.5 624.8,187.9 C622.3,190.3 619.1,192.2 617.2,194.6 C615.3,197.0 614.2,199.3 613.4,202.1 C612.6,204.9 612.2,208.4 612.5,211.6 C612.8,214.8 613.9,217.9 615.3,221.0 C616.7,224.1 618.8,227.9 621.0,230.4 C623.2,232.9 626.7,233.9 628.6,236.1 C630.5,238.3 630.4,241.2 632.3,243.7 C634.2,246.2 637.1,248.4 639.9,251.2 C642.7,254.0 646.6,257.9 649.3,260.7 C652.0,263.5 654.4,265.4 656.0,268.2 C657.6,271.0 658.4,275.1 658.8,277.7 C659.2,280.3 658.9,281.2 658.5,283.6 C658.1,286.0 657.2,288.3 656.5,292.0 C655.8,295.7 654.5,302.4 654.5,305.9 C654.5,309.4 655.5,311.4 656.5,312.9 C657.5,314.4 658.5,315.5 660.5,314.9 C662.5,314.3 666.4,311.2 668.8,309.5 C671.2,307.8 672.3,305.4 674.8,304.6 C677.3,303.8 681.1,305.1 683.8,304.6 C686.4,304.1 688.4,302.9 690.7,301.6 C693.0,300.3 695.4,297.6 697.7,296.6 C700.0,295.6 702.9,295.1 704.7,295.6 C706.5,296.1 707.4,298.3 708.7,299.6 C710.0,300.9 711.1,302.7 712.7,303.6 C714.4,304.5 716.6,305.4 718.6,305.2 C720.6,305.0 722.9,304.2 724.6,302.6 C726.3,301.0 727.7,297.2 728.6,295.6 C729.5,294.0 730.7,293.3 730.0,292.8 C729.3,292.3 726.6,292.9 724.6,292.8 C722.6,292.7 719.9,292.9 718.0,292.2 C716.1,291.4 714.5,290.1 713.4,288.3 C712.3,286.6 711.9,284.1 711.5,281.7 C711.1,279.3 711.1,276.3 710.8,273.9 C710.5,271.5 709.7,269.2 709.5,267.3 C709.3,265.4 709.0,263.7 709.5,262.7 C710.0,261.7 711.5,261.2 712.8,261.5 C714.1,261.8 716.3,263.7 717.4,264.7 C718.5,265.7 718.3,267.1 719.3,267.3 C720.3,267.5 721.8,267.1 723.2,266.0 C724.6,264.9 726.8,262.8 727.8,260.8 C728.8,258.8 729.1,256.4 729.1,254.2 C729.1,252.0 727.5,249.9 727.8,247.7 C728.1,245.5 729.7,243.0 731.1,241.2 C732.5,239.3 734.8,238.1 736.3,236.6 C737.8,235.1 739.8,233.7 740.3,232.0 C740.8,230.3 738.2,226.8 739.6,226.5 C741.0,226.2 747.9,229.0 748.8,230.0 C749.7,231.0 746.0,231.9 744.8,232.7 C743.6,233.5 742.4,233.2 741.6,234.6 C740.9,236.0 741.0,238.6 740.3,241.2 C739.6,243.8 738.5,247.0 737.6,250.3 C736.7,253.6 735.6,257.3 735.0,260.8 C734.4,264.3 733.8,268.0 733.7,271.3 C733.6,274.6 734.2,277.9 734.4,280.4 C734.6,282.9 734.2,285.2 735.0,286.3 C735.8,287.4 736.6,286.5 738.9,286.9 C741.2,287.3 745.9,288.8 748.8,288.5 C751.6,288.2 753.7,286.4 756.0,285.0 C758.3,283.6 760.5,282.0 762.5,280.4 C764.5,278.8 765.7,276.9 767.7,275.2 C769.7,273.5 772.3,272.5 774.7,270.1 C777.1,267.7 780.0,263.5 782.2,260.7 C784.4,257.9 784.8,255.8 787.9,253.1 C791.1,250.4 796.4,247.4 801.1,244.6 C805.8,241.8 811.2,239.1 816.2,236.1 C821.2,233.1 826.9,229.1 831.3,226.7 C835.6,224.3 839.0,223.2 842.3,221.9 C845.5,220.6 848.0,219.7 850.8,219.0 C853.5,218.3 855.8,179.5 858.8,218.0 C861.8,256.5 928.8,411.3 868.8,450.0 C808.8,488.7 560.5,494.7 498.8,450.0 C437.1,405.3 496.3,226.6 498.8,182.0 Z" fill="#ffa000" stroke="#141414" stroke-width="0.75"/>
<path d="M675.8,189.3 L678.8,189.3 L679.8,190.3 L675.8,190.6 Z" fill="#ffa000" stroke="#141414" stroke-width="0.75"/>
<path d="M536.8,136.0 C530.0,136.8 541.0,139.3 543.8,140.5 C546.6,141.7 550.6,142.1 553.8,143.0 C557.0,143.9 560.0,144.9 562.8,146.0 C565.6,147.1 568.4,148.2 570.8,149.5 C573.2,150.8 575.5,153.4 577.3,153.5 C579.1,153.6 580.6,152.1 581.8,150.0 C583.0,147.9 583.8,143.3 584.3,141.0 C584.8,138.7 592.7,136.8 584.8,136.0 C576.9,135.2 543.6,135.2 536.8,136.0 Z" fill="#ffc03c"/>
<path d="M581.8,150.0 C581.4,151.3 583.0,154.2 583.8,156.0 C584.6,157.8 585.8,159.5 586.8,161.0 C587.8,162.5 589.0,164.5 589.8,165.0 C590.6,165.5 592.0,165.3 591.8,164.0 C591.6,162.7 589.7,159.7 588.8,157.0 C587.9,154.3 587.5,149.2 586.3,148.0 C585.1,146.8 582.2,148.7 581.8,150.0 Z" fill="#ffc03c"/>
<path d="M554.8,136.0 C551.9,136.6 556.8,138.6 558.8,139.5 C560.8,140.4 564.1,141.1 566.8,141.3 C569.5,141.5 573.2,141.7 574.8,140.8 C576.4,139.9 579.6,136.8 576.3,136.0 C573.0,135.2 557.7,135.4 554.8,136.0 Z" fill="#ffe878"/>
<path d="M652.2,178.5 C652.5,177.1 656.4,176.0 658.8,175.7 C661.1,175.4 664.4,175.9 666.3,176.5 C668.2,177.1 670.4,178.4 670.1,179.5 C669.8,180.6 666.7,182.4 664.5,183.2 C662.3,184.0 658.8,185.0 656.8,184.2 C654.8,183.4 651.9,179.9 652.2,178.5 Z" fill="#ffc03c"/>
<path d="M498.8,194.4 C501.3,151.8 509.8,194.5 513.8,194.5 C517.8,194.5 518.8,194.1 522.8,194.6 C526.8,195.1 533.2,196.6 537.9,197.4 C542.6,198.2 547.5,198.5 551.1,199.3 C554.7,200.1 557.6,200.8 559.6,202.1 C561.6,203.3 563.9,205.2 563.4,206.8 C562.9,208.4 558.2,209.9 556.8,211.6 C555.4,213.3 554.4,215.8 554.9,217.2 C555.4,218.6 557.7,220.1 559.6,220.1 C561.5,220.1 564.8,218.6 566.2,217.2 C567.6,215.8 566.8,213.5 568.1,211.6 C569.4,209.7 571.3,207.5 573.8,205.9 C576.3,204.3 580.0,203.3 583.2,202.1 C586.5,200.9 590.9,199.7 593.3,198.7 C595.7,197.7 596.3,197.3 597.8,195.9 C599.3,194.5 600.9,192.6 602.2,190.3 C603.5,188.1 604.6,185.0 605.6,182.4 C606.6,179.8 607.4,176.8 608.4,174.6 C609.4,172.4 610.4,170.5 611.8,169.0 C613.2,167.5 615.0,166.3 616.8,165.5 C618.5,164.7 620.4,164.2 622.3,164.4 C624.2,164.6 626.5,165.4 628.0,166.5 C629.5,167.6 630.8,168.9 631.0,171.0 C631.2,173.1 630.1,176.3 629.1,179.0 C628.1,181.7 626.5,184.5 624.7,186.9 C622.9,189.3 620.3,191.6 618.5,193.6 C616.7,195.6 615.3,197.3 614.0,199.2 C612.7,201.1 611.5,202.6 610.6,204.8 C609.8,207.1 609.0,210.2 608.9,212.7 C608.8,215.2 609.2,217.5 609.9,219.9 C610.5,222.3 611.8,224.7 612.8,226.9 C613.8,229.1 614.7,230.9 615.8,232.9 C616.9,234.9 617.8,237.2 619.2,238.8 C620.6,240.5 622.4,241.5 624.2,242.8 C626.0,244.1 628.2,245.3 630.2,246.8 C632.2,248.3 634.5,250.4 636.2,251.8 C637.9,253.2 639.0,253.8 640.5,255.5 C642.0,257.2 643.9,260.4 645.4,261.8 C646.9,263.2 648.0,262.5 649.6,263.8 C651.2,265.1 653.7,267.4 654.9,269.4 C656.1,271.4 656.2,273.7 656.6,275.9 C657.0,278.1 657.4,280.9 657.0,282.6 C656.6,284.3 655.6,283.8 654.5,286.0 C653.4,288.2 652.2,292.0 650.5,296.0 C648.8,300.0 646.2,305.6 644.5,309.9 C642.8,314.2 640.8,318.3 640.5,321.8 C640.2,325.3 641.8,328.1 642.9,331.0 C644.0,333.9 645.6,336.6 646.9,339.0 C648.2,341.4 648.6,343.5 650.9,345.4 C653.2,347.3 657.6,350.1 660.9,350.4 C664.2,350.7 668.6,349.2 670.8,347.4 C672.9,345.6 673.0,342.7 673.8,339.4 C674.6,336.1 675.0,331.1 675.8,327.5 C676.6,323.9 677.6,320.2 678.8,317.5 C680.0,314.8 681.1,313.3 682.8,311.5 C684.5,309.7 686.5,307.8 688.8,306.5 C691.1,305.2 694.3,303.9 696.8,303.6 C699.3,303.3 701.7,303.6 703.8,304.5 C705.9,305.4 708.3,307.1 709.3,309.0 C710.3,310.9 710.0,314.1 709.8,316.0 C709.5,317.9 705.5,319.9 707.8,320.5 C710.1,321.1 717.8,320.6 723.8,319.8 C729.8,319.0 737.1,317.5 743.8,315.9 C750.4,314.2 757.7,311.2 763.7,309.9 C769.7,308.6 774.3,308.2 779.6,307.9 C784.9,307.6 791.0,308.6 795.6,307.9 C800.2,307.2 803.9,305.9 807.5,303.9 C811.1,301.9 814.8,298.9 817.5,295.9 C820.2,292.9 822.7,289.0 823.5,286.0 C824.3,283.0 822.9,280.6 822.3,278.0 C821.7,275.4 819.8,272.8 820.0,270.1 C820.2,267.4 821.6,264.4 823.8,261.6 C826.0,258.8 830.1,255.4 833.2,253.1 C836.3,250.8 839.4,249.0 842.3,247.5 C845.2,246.0 848.0,244.8 850.8,244.0 C853.5,243.2 855.8,208.7 858.8,243.0 C861.8,277.3 928.8,415.5 868.8,450.0 C808.8,484.5 560.5,492.6 498.8,450.0 C437.1,407.4 496.3,237.0 498.8,194.4 Z" fill="#ffc03c"/>
<path d="M518.8,213.0 C519.8,210.5 523.0,213.2 524.8,214.0 C526.5,214.8 528.6,216.3 529.3,218.0 C530.0,219.7 529.5,222.3 528.8,224.0 C528.0,225.7 526.5,227.2 524.8,228.0 C523.1,228.8 519.8,231.5 518.8,229.0 C517.8,226.5 517.8,215.5 518.8,213.0 Z" fill="#ffa000"/>
<path d="M621.8,272.0 C622.2,270.7 623.7,270.3 624.8,270.3 C625.9,270.3 627.5,270.4 628.3,272.0 C629.1,273.6 629.4,277.1 629.5,279.6 C629.6,282.1 629.4,285.2 628.8,287.0 C628.2,288.8 626.8,290.8 625.8,290.5 C624.8,290.2 623.7,287.1 623.1,285.0 C622.5,282.9 622.3,280.2 622.1,278.0 C621.9,275.8 621.3,273.3 621.8,272.0 Z" fill="#ffa000"/>
<path d="M498.8,312.0 C501.3,288.9 509.8,311.7 513.8,311.5 C517.8,311.3 520.1,312.8 523.0,310.9 C525.9,309.0 528.4,303.4 531.0,299.9 C533.6,296.4 536.8,293.3 538.9,290.0 C541.0,286.7 543.4,283.3 543.9,280.0 C544.4,276.7 541.5,273.3 541.7,270.1 C542.0,266.9 543.2,264.2 545.4,260.7 C547.6,257.2 551.4,252.0 554.9,249.3 C558.4,246.6 561.8,244.9 566.2,244.6 C570.6,244.3 576.6,245.8 581.3,247.5 C586.0,249.2 590.5,251.9 594.6,255.0 C598.7,258.1 602.5,262.2 605.9,266.3 C609.3,270.4 613.3,276.3 615.3,279.6 C617.3,282.9 617.1,283.9 617.8,286.0 C618.5,288.1 618.8,288.4 619.6,292.0 C620.4,295.6 621.4,303.3 622.6,307.9 C623.8,312.5 625.4,319.8 626.6,319.8 C627.8,319.8 628.8,311.9 629.6,307.9 C630.4,303.9 630.8,299.5 631.4,296.0 C632.0,292.5 632.6,290.1 633.1,287.1 C633.6,284.1 634.3,280.7 634.2,278.1 C634.1,275.5 633.7,273.4 632.5,271.4 C631.3,269.3 629.1,267.9 626.9,265.8 C624.7,263.7 621.7,261.5 619.1,259.0 C616.5,256.5 613.3,253.2 611.2,250.8 C609.1,248.4 608.0,246.8 606.7,244.8 C605.4,242.8 604.3,241.0 603.2,238.8 C602.1,236.7 601.1,234.1 600.2,231.9 C599.3,229.8 598.5,227.9 597.7,225.9 C596.9,223.9 595.9,222.1 595.4,219.9 C594.9,217.7 594.8,215.2 594.9,212.9 C595.0,210.6 595.7,208.2 596.3,206.0 C596.9,203.8 597.9,201.5 598.7,200.0 C599.5,198.5 600.0,198.6 601.1,197.0 C602.2,195.4 604.1,192.7 605.6,190.3 C607.1,187.9 608.9,185.2 610.1,182.4 C611.3,179.6 611.7,175.6 612.9,173.4 C614.1,171.2 615.7,170.4 617.3,169.5 C618.9,168.6 621.0,167.3 622.4,167.8 C623.8,168.3 625.4,170.4 625.8,172.3 C626.2,174.2 625.5,176.8 624.7,179.0 C624.0,181.2 622.8,183.6 621.3,185.8 C619.8,188.1 617.4,190.4 615.7,192.5 C614.0,194.6 612.4,196.5 611.2,198.1 C610.0,199.7 609.1,200.5 608.3,202.0 C607.4,203.5 606.6,205.0 606.1,207.0 C605.6,209.0 605.4,211.8 605.5,213.9 C605.6,216.1 606.3,217.9 607.0,219.9 C607.7,221.9 608.6,223.9 609.5,225.9 C610.4,227.9 611.5,229.9 612.6,231.9 C613.7,233.9 614.8,236.0 616.1,237.8 C617.4,239.6 618.8,241.3 620.5,242.8 C622.2,244.3 624.5,245.5 626.5,246.8 C628.5,248.1 630.6,249.4 632.5,250.8 C634.4,252.2 635.9,253.5 638.0,255.3 C640.1,257.1 643.1,259.4 645.3,261.5 C647.5,263.6 649.5,265.6 651.0,267.8 C652.5,270.0 653.4,272.4 654.0,274.7 C654.6,277.0 655.3,279.3 654.7,281.5 C654.1,283.7 651.9,285.6 650.5,288.0 C649.1,290.4 648.2,292.4 646.5,296.0 C644.8,299.6 641.8,305.3 640.5,309.9 C639.2,314.5 638.5,319.1 638.5,323.8 C638.5,328.5 639.2,333.5 640.5,337.8 C641.8,342.1 643.8,346.6 646.5,349.7 C649.2,352.8 653.2,355.4 656.5,356.7 C659.8,358.0 663.7,357.9 666.4,357.7 C669.1,357.5 670.7,356.2 672.8,355.3 C674.9,354.4 677.0,353.3 679.0,352.0 C681.0,350.7 681.8,349.5 684.8,347.4 C687.8,345.3 692.1,341.7 696.7,339.4 C701.4,337.1 707.4,335.0 712.7,333.4 C718.0,331.8 724.1,330.4 728.6,329.5 C733.1,328.6 735.3,328.8 739.8,327.8 C744.3,326.9 750.7,325.0 755.7,323.8 C760.7,322.6 765.1,321.1 769.7,320.8 C774.4,320.5 778.6,321.6 783.6,321.8 C788.6,322.0 794.3,321.6 799.6,321.8 C804.9,322.0 810.2,322.6 815.5,322.8 C820.8,323.0 826.9,322.6 831.4,322.8 C835.9,323.0 839.2,323.6 842.4,323.8 C845.6,324.0 848.1,324.0 850.8,324.0 C853.5,324.0 855.8,303.0 858.8,324.0 C861.8,345.0 928.8,429.0 868.8,450.0 C808.8,471.0 560.5,473.0 498.8,450.0 C437.1,427.0 496.3,335.1 498.8,312.0 Z" fill="#ffe878"/>
<path d="M508.8,330.3 C511.2,330.4 518.0,330.3 523.0,330.8 C528.0,331.3 533.6,332.1 538.9,333.4 C544.2,334.7 549.6,336.9 554.9,338.8 C560.2,340.7 566.5,343.3 570.8,344.8 C575.1,346.3 578.3,347.5 580.8,347.7 C583.3,347.9 584.6,347.4 585.7,345.8 C586.8,344.2 587.0,340.8 587.3,337.8 C587.6,334.8 586.8,331.1 587.7,327.8 C588.6,324.5 590.5,320.9 592.7,317.9 C594.9,314.9 598.5,312.2 600.7,309.9 C602.9,307.6 604.2,305.3 605.7,303.9 C607.2,302.5 608.3,301.3 609.8,301.5 C611.3,301.7 613.5,302.5 614.6,304.9 C615.7,307.3 615.9,312.1 616.6,315.9 C617.3,319.7 617.8,324.1 618.6,327.8 C619.4,331.5 620.3,334.7 621.6,337.8 C622.9,340.9 624.4,344.2 626.6,346.7 C628.8,349.2 632.0,350.7 634.6,352.7 C637.2,354.7 639.2,356.7 642.5,358.7 C645.8,360.7 650.5,363.0 654.5,364.7 C658.5,366.4 662.3,367.8 666.4,368.7 C670.5,369.6 676.1,370.6 679.0,370.2 C681.9,369.8 681.8,366.6 684.0,366.2 C686.2,365.8 689.4,366.7 692.0,367.7 C694.6,368.7 697.2,371.3 699.9,372.0 C702.5,372.7 705.6,372.7 707.9,372.0 C710.2,371.3 712.6,369.8 713.9,367.7 C715.2,365.6 714.6,361.9 715.9,359.7 C717.2,357.5 719.3,356.2 721.9,354.7 C724.6,353.2 728.8,351.9 731.8,350.7 C734.8,349.5 736.1,348.2 739.8,347.5 C743.4,346.8 749.1,347.1 753.7,346.7 C758.4,346.2 763.4,345.6 767.7,344.8 C772.0,344.0 775.6,343.3 779.6,341.8 C783.6,340.3 787.9,337.1 791.6,335.8 C795.3,334.5 798.0,334.0 801.6,333.8 C805.2,333.6 809.2,334.3 813.5,334.8 C817.8,335.3 822.7,336.0 827.5,336.8 C832.3,337.6 837.9,338.9 842.4,339.8 C847.0,340.7 852.7,341.6 854.8,342.0 L855.0,448.2 L510.1,448.2 L508.8,330.3 Z" fill="#78b9fa" stroke="#141414" stroke-width="0.75"/>
<path d="M508.8,343.5 C511.2,343.6 518.0,343.3 523.0,343.8 C528.0,344.3 532.9,345.1 538.9,346.7 C544.9,348.3 552.8,351.0 558.8,353.7 C564.8,356.4 570.5,360.2 574.8,362.7 C579.1,365.2 581.7,367.4 584.7,368.7 C587.7,370.0 590.4,370.9 592.7,370.7 C595.0,370.5 596.9,369.5 598.7,367.7 C600.5,365.9 602.2,362.7 603.7,359.7 C605.2,356.7 606.2,352.2 607.7,349.7 C609.2,347.2 611.1,345.0 612.7,344.8 C614.4,344.6 616.0,346.7 617.6,348.7 C619.2,350.7 620.4,354.2 622.6,356.7 C624.8,359.2 628.0,361.7 630.6,363.7 C633.2,365.7 635.5,367.2 638.5,368.7 C641.5,370.2 645.2,371.3 648.5,372.6 C651.8,373.9 654.9,375.4 658.5,376.6 C662.1,377.8 667.0,378.9 670.4,379.6 C673.8,380.3 676.7,380.1 679.0,380.6 C681.3,381.1 681.9,381.4 684.0,382.5 C686.1,383.6 689.1,385.8 691.6,387.2 C694.1,388.6 696.0,390.3 699.1,391.0 C702.2,391.7 706.0,391.8 710.4,391.6 C714.8,391.4 721.2,391.1 725.6,390.0 C730.0,388.9 733.8,387.3 736.9,385.3 C740.0,383.3 742.2,380.0 744.4,377.8 C746.6,375.6 747.6,374.0 750.1,372.1 C752.6,370.2 756.1,368.0 759.6,366.4 C763.1,364.8 766.5,363.6 770.9,362.7 C775.3,361.8 780.3,361.3 786.0,360.8 C791.7,360.3 798.6,359.8 804.9,359.8 C811.2,359.8 817.6,360.3 823.8,360.8 C830.0,361.3 837.1,362.2 842.3,362.7 C847.5,363.1 852.7,363.4 854.8,363.5 L855.0,448.2 L510.1,448.2 L508.8,343.5 Z" fill="#3c96f5"/>
<path d="M508.8,361.5 C511.2,361.5 518.0,361.5 523.0,361.7 C528.0,361.9 533.6,361.9 538.9,362.7 C544.2,363.5 549.6,364.5 554.9,366.7 C560.2,368.9 566.1,372.8 570.8,375.6 C575.4,378.4 578.8,381.6 582.8,383.6 C586.8,385.6 591.1,386.9 594.7,387.6 C598.4,388.3 601.4,388.6 604.7,387.6 C608.0,386.6 612.0,382.9 614.6,381.6 C617.2,380.3 618.6,379.3 620.6,379.6 C622.6,379.9 624.6,381.6 626.6,383.6 C628.6,385.6 630.3,389.6 632.6,391.6 C634.9,393.6 637.5,395.3 640.5,395.6 C643.5,395.9 646.8,393.4 650.5,393.6 C654.2,393.8 657.8,395.3 662.5,396.6 C667.2,397.9 675.4,401.4 679.0,401.5 C682.6,401.6 681.3,397.2 684.0,397.0 C686.7,396.8 691.2,399.5 695.3,400.4 C699.4,401.3 704.2,402.4 708.6,402.3 C713.0,402.2 717.7,400.8 721.8,399.5 C725.9,398.2 729.3,396.9 733.1,394.8 C736.9,392.8 741.3,389.6 744.4,387.2 C747.6,384.8 749.5,382.7 752.0,380.6 C754.5,378.6 756.1,376.5 759.6,374.9 C763.1,373.3 767.8,372.1 772.8,371.2 C777.8,370.3 783.8,369.7 789.8,369.3 C795.8,368.9 802.4,368.6 808.7,368.7 C815.0,368.8 822.0,369.4 827.6,369.8 C833.2,370.2 837.8,370.8 842.3,371.2 C846.8,371.6 852.7,371.9 854.8,372.0 L855.0,448.2 L510.1,448.2 L508.8,361.5 Z" fill="#1e6eeb"/>
<path d="M508.8,389.3 C511.2,389.4 518.6,388.9 523.0,389.6 C527.4,390.3 530.6,391.3 534.9,393.6 C539.2,395.9 544.2,400.2 548.9,403.5 C553.5,406.8 558.1,410.8 562.8,413.5 C567.4,416.2 572.5,418.3 576.8,419.5 C581.1,420.7 585.1,420.8 588.7,420.5 C592.4,420.2 595.4,419.0 598.7,417.5 C602.0,416.0 605.4,412.8 608.7,411.5 C612.0,410.2 615.0,409.2 618.6,409.5 C622.2,409.8 626.6,411.8 630.6,413.5 C634.6,415.2 638.5,417.8 642.5,419.5 C646.5,421.2 650.5,423.0 654.5,423.5 C658.5,424.0 662.3,423.2 666.4,422.5 C670.5,421.8 676.1,421.3 679.0,419.5 C681.9,417.7 681.3,412.9 684.0,411.5 C686.7,410.1 690.9,411.5 695.3,410.8 C699.7,410.1 705.3,408.5 710.4,407.1 C715.5,405.7 720.9,404.0 725.6,402.3 C730.3,400.6 735.0,398.7 738.8,396.7 C742.6,394.7 744.7,392.2 748.2,390.1 C751.7,388.1 755.5,386.0 759.6,384.4 C763.7,382.8 767.8,381.6 772.8,380.6 C777.8,379.7 783.8,379.0 789.8,378.7 C795.8,378.4 802.4,378.5 808.7,378.7 C815.0,378.9 822.0,379.4 827.6,379.7 C833.2,380.0 837.8,380.4 842.3,380.6 C846.8,380.9 852.7,381.1 854.8,381.2 L855.0,448.2 L510.1,448.2 L508.8,389.3 Z" fill="#1464d2"/>
<path d="M508.8,424.0 C511.2,420.6 518.6,423.7 523.0,424.4 C527.4,425.1 530.6,426.7 534.9,428.4 C539.2,430.1 544.9,432.9 548.9,434.4 C552.9,435.9 556.5,435.6 558.8,437.4 C561.1,439.2 571.1,443.7 562.8,445.0 C554.5,446.3 517.8,448.5 508.8,445.0 C499.8,441.5 506.4,427.4 508.8,424.0 Z" fill="#1a50d2"/>
<path d="M630.8,445.0 C631.8,443.8 634.2,439.9 636.8,438.0 C639.4,436.1 642.2,434.8 646.5,433.4 C650.8,432.0 657.1,430.5 662.5,429.4 C667.9,428.3 675.4,427.4 679.0,426.8 C682.6,426.2 681.3,426.8 684.0,425.9 C686.7,425.0 690.9,422.9 695.3,421.2 C699.7,419.5 705.3,417.5 710.4,415.6 C715.5,413.7 720.5,411.8 725.6,409.9 C730.7,408.0 736.3,406.1 740.7,404.2 C745.1,402.3 748.2,400.2 752.0,398.6 C755.8,397.0 758.9,395.8 763.3,394.8 C767.7,393.9 772.7,393.2 778.4,392.9 C784.1,392.6 791.0,392.8 797.3,392.9 C803.6,393.0 808.7,393.4 816.2,393.8 C823.7,394.2 835.9,394.8 842.3,395.2 C848.7,395.6 852.7,395.9 854.8,396.0 L855.0,448.2 L510.1,448.2 L630.8,445.0 Z" fill="#1a50d2"/>
<path d="M729.4,429.0 C729.9,427.9 731.7,426.8 733.8,425.5 C735.9,424.2 739.3,422.6 741.8,421.0 C744.3,419.4 746.0,417.3 748.8,416.0 C751.6,414.7 755.3,413.8 758.8,413.0 C762.3,412.2 766.3,411.4 769.8,411.0 C773.3,410.6 777.0,410.0 779.8,410.5 C782.6,411.0 786.6,412.7 786.4,414.0 C786.2,415.3 781.7,417.0 778.8,418.5 C775.9,420.0 772.1,421.6 768.8,423.0 C765.5,424.4 761.8,425.5 758.8,427.0 C755.8,428.5 753.3,430.5 750.8,432.0 C748.3,433.5 746.1,435.6 743.8,436.0 C741.5,436.4 739.0,435.2 736.8,434.5 C734.6,433.8 732.0,432.9 730.8,432.0 C729.6,431.1 728.9,430.1 729.4,429.0 Z" fill="#4b3cc8" stroke="#141414" stroke-width="0.75"/>
<g transform="translate(458.8,0.0)" fill="none" stroke="#a0a0a0" stroke-width="0.65" stroke-linejoin="round">
<use href="#mapl"/>
</g>
<rect x="535.7" y="150.0" width="12.2" height="9.0" fill="#fff"/>
<text x="541.8" y="158.3" class="cl" text-anchor="middle" textLength="10.8" lengthAdjust="spacingAndGlyphs">24</text>
<rect x="582.9" y="187.8" width="12.2" height="9.0" fill="#fff"/>
<text x="589.0" y="196.1" class="cl" text-anchor="middle" textLength="10.8" lengthAdjust="spacingAndGlyphs">24</text>
<rect x="632.8" y="170.2" width="12.2" height="9.0" fill="#fff"/>
<text x="638.9" y="178.5" class="cl" text-anchor="middle" textLength="10.8" lengthAdjust="spacingAndGlyphs">24</text>
<rect x="709.9" y="252.4" width="12.2" height="9.0" fill="#fff"/>
<text x="716.0" y="260.7" class="cl" text-anchor="middle" textLength="10.8" lengthAdjust="spacingAndGlyphs">24</text>
<rect x="743.1" y="285.6" width="12.2" height="9.0" fill="#fff"/>
<text x="749.2" y="293.9" class="cl" text-anchor="middle" textLength="10.8" lengthAdjust="spacingAndGlyphs">24</text>
<rect x="603.6" y="294.8" width="12.2" height="9.0" fill="#fff"/>
<text x="609.7" y="303.1" class="cl" text-anchor="middle" textLength="10.8" lengthAdjust="spacingAndGlyphs">15</text>
<rect x="740.1" y="341.8" width="12.2" height="9.0" fill="#fff"/>
<text x="746.2" y="350.1" class="cl" text-anchor="middle" textLength="10.8" lengthAdjust="spacingAndGlyphs">15</text>
<rect x="738.8" y="430.5" width="7.0" height="9.0" fill="#fff"/>
<text x="742.3" y="438.8" class="cl" text-anchor="middle" textLength="5.6" lengthAdjust="spacingAndGlyphs">0</text>
</g>
<rect x="522.1" y="139.3" width="320.9" height="296.9" fill="none" stroke="#000" stroke-width="1.7"/>
<path d="M522.1,139.3 h-3.6" stroke="#000" stroke-width="1.3"/>
<text x="516.9" y="142.7" class="yl" text-anchor="end">15N</text>
<path d="M522.1,159.1 h-3.6" stroke="#000" stroke-width="1.3"/>
<text x="516.9" y="162.5" class="yl" text-anchor="end">10N</text>
<path d="M522.1,178.9 h-3.6" stroke="#000" stroke-width="1.3"/>
<text x="516.9" y="182.3" class="yl" text-anchor="end">5N</text>
<path d="M522.1,198.7 h-3.6" stroke="#000" stroke-width="1.3"/>
<text x="516.9" y="202.1" class="yl" text-anchor="end">EQ</text>
<path d="M522.1,218.5 h-3.6" stroke="#000" stroke-width="1.3"/>
<text x="516.9" y="221.9" class="yl" text-anchor="end">5S</text>
<path d="M522.1,238.3 h-3.6" stroke="#000" stroke-width="1.3"/>
<text x="516.9" y="241.7" class="yl" text-anchor="end">10S</text>
<path d="M522.1,258.1 h-3.6" stroke="#000" stroke-width="1.3"/>
<text x="516.9" y="261.5" class="yl" text-anchor="end">15S</text>
<path d="M522.1,277.9 h-3.6" stroke="#000" stroke-width="1.3"/>
<text x="516.9" y="281.3" class="yl" text-anchor="end">20S</text>
<path d="M522.1,297.6 h-3.6" stroke="#000" stroke-width="1.3"/>
<text x="516.9" y="301.0" class="yl" text-anchor="end">25S</text>
<path d="M522.1,317.4 h-3.6" stroke="#000" stroke-width="1.3"/>
<text x="516.9" y="320.8" class="yl" text-anchor="end">30S</text>
<path d="M522.1,337.2 h-3.6" stroke="#000" stroke-width="1.3"/>
<text x="516.9" y="340.6" class="yl" text-anchor="end">35S</text>
<path d="M522.1,357.0 h-3.6" stroke="#000" stroke-width="1.3"/>
<text x="516.9" y="360.4" class="yl" text-anchor="end">40S</text>
<path d="M522.1,376.8 h-3.6" stroke="#000" stroke-width="1.3"/>
<text x="516.9" y="380.2" class="yl" text-anchor="end">45S</text>
<path d="M522.1,396.6 h-3.6" stroke="#000" stroke-width="1.3"/>
<text x="516.9" y="400.0" class="yl" text-anchor="end">50S</text>
<path d="M522.1,416.4 h-3.6" stroke="#000" stroke-width="1.3"/>
<text x="516.9" y="419.8" class="yl" text-anchor="end">55S</text>
<path d="M522.1,436.2 h-3.6" stroke="#000" stroke-width="1.3"/>
<text x="516.9" y="439.6" class="yl" text-anchor="end">60S</text>
<path d="M526.5,436.2 v3.4" stroke="#000" stroke-width="1.3"/>
<text x="526.9" y="447.5" class="xl" text-anchor="middle" textLength="21.3" lengthAdjust="spacingAndGlyphs">100W</text>
<path d="M562.1,436.2 v3.4" stroke="#000" stroke-width="1.3"/>
<text x="562.5" y="447.5" class="xl" text-anchor="middle" textLength="16.7" lengthAdjust="spacingAndGlyphs">90W</text>
<path d="M597.7,436.2 v3.4" stroke="#000" stroke-width="1.3"/>
<text x="598.1" y="447.5" class="xl" text-anchor="middle" textLength="16.7" lengthAdjust="spacingAndGlyphs">80W</text>
<path d="M633.3,436.2 v3.4" stroke="#000" stroke-width="1.3"/>
<text x="633.7" y="447.5" class="xl" text-anchor="middle" textLength="16.7" lengthAdjust="spacingAndGlyphs">70W</text>
<path d="M668.9,436.2 v3.4" stroke="#000" stroke-width="1.3"/>
<text x="669.3" y="447.5" class="xl" text-anchor="middle" textLength="16.7" lengthAdjust="spacingAndGlyphs">60W</text>
<path d="M704.5,436.2 v3.4" stroke="#000" stroke-width="1.3"/>
<text x="704.9" y="447.5" class="xl" text-anchor="middle" textLength="16.7" lengthAdjust="spacingAndGlyphs">50W</text>
<path d="M740.0,436.2 v3.4" stroke="#000" stroke-width="1.3"/>
<text x="740.4" y="447.5" class="xl" text-anchor="middle" textLength="16.7" lengthAdjust="spacingAndGlyphs">40W</text>
<path d="M775.6,436.2 v3.4" stroke="#000" stroke-width="1.3"/>
<text x="776.0" y="447.5" class="xl" text-anchor="middle" textLength="16.7" lengthAdjust="spacingAndGlyphs">30W</text>
<path d="M811.2,436.2 v3.4" stroke="#000" stroke-width="1.3"/>
<text x="811.6" y="447.5" class="xl" text-anchor="middle" textLength="16.7" lengthAdjust="spacingAndGlyphs">20W</text>
<text x="567.0" y="129.8" class="pt" textLength="68.2" lengthAdjust="spacing">cluster:</text>
<text x="652.1" y="129.8" class="pt" text-anchor="middle">2</text>
<text x="682.8" y="129.8" class="pt" textLength="92.4" lengthAdjust="spacing">membros:</text>
<text x="792.4" y="129.8" class="pt" text-anchor="middle">7</text>
<clipPath id="clip3"><rect x="63.3" y="494.0" width="320.9" height="296.9"/></clipPath>
<g clip-path="url(#clip3)">
<rect x="62.3" y="493.0" width="322.9" height="298.9" fill="#ff6000"/>
<path d="M138.6,501.7 C138.8,500.4 139.8,498.4 141.0,497.2 C142.2,496.0 144.2,495.2 146.0,494.7 C147.8,494.2 150.0,494.0 152.0,494.2 C154.0,494.4 155.7,495.3 158.0,495.7 C160.3,496.1 165.5,495.9 165.8,496.7 C166.1,497.4 162.1,499.2 160.0,500.2 C157.9,501.2 154.9,501.7 153.0,502.7 C151.1,503.7 150.2,505.5 148.5,506.2 C146.8,506.9 144.5,507.2 143.0,507.0 C141.5,506.8 140.2,506.1 139.5,505.2 C138.8,504.3 138.3,503.0 138.6,501.7 Z" fill="#ff3200"/>
<path d="M211.0,509.7 C211.3,508.5 213.8,507.9 216.0,507.7 C218.2,507.5 221.7,507.5 224.0,508.7 C226.3,509.9 228.8,512.9 229.7,514.7 C230.6,516.5 230.6,518.6 229.7,519.7 C228.8,520.8 225.8,521.5 224.0,521.2 C222.2,521.0 220.7,519.3 219.0,518.2 C217.3,517.1 215.3,516.1 214.0,514.7 C212.7,513.3 210.7,510.9 211.0,509.7 Z" fill="#ff3200"/>
<path d="M339.0,520.7 C339.0,518.9 342.3,516.0 346.0,514.7 C349.7,513.4 356.7,513.2 361.0,512.7 C365.3,512.2 369.2,512.4 372.0,511.7 C374.8,511.0 375.7,509.4 378.0,508.7 C380.3,508.0 384.7,505.4 386.0,507.7 C387.3,510.0 388.3,519.4 386.0,522.7 C383.7,526.0 376.8,526.9 372.0,527.7 C367.2,528.5 361.3,528.0 357.0,527.7 C352.7,527.4 349.0,526.9 346.0,525.7 C343.0,524.5 339.0,522.5 339.0,520.7 Z" fill="#ff3200"/>
<path d="M190.0,587.7 C191.6,586.7 196.5,586.1 200.0,585.7 C203.5,585.3 208.8,586.0 211.0,585.2 C213.2,584.4 212.0,581.6 213.0,580.7 C214.0,579.8 216.1,578.9 217.0,579.7 C217.9,580.5 218.6,583.4 218.7,585.7 C218.8,588.0 218.9,591.9 217.8,593.7 C216.7,595.5 214.0,596.0 212.0,596.7 C210.0,597.4 208.2,597.5 206.0,597.7 C203.8,597.9 201.0,598.2 199.0,597.7 C197.0,597.2 195.4,595.7 194.0,594.7 C192.6,593.7 191.2,592.9 190.5,591.7 C189.8,590.5 188.4,588.7 190.0,587.7 Z" fill="#ff3200"/>
<path d="M239.7,603.7 C239.9,601.7 241.5,598.7 242.7,596.7 C243.9,594.7 245.4,592.6 246.7,591.9 C248.0,591.2 250.0,591.4 250.7,592.7 C251.4,594.0 251.4,597.7 250.7,599.7 C250.0,601.7 248.2,603.2 246.7,604.7 C245.2,606.2 242.9,608.9 241.7,608.7 C240.5,608.5 239.5,605.7 239.7,603.7 Z" fill="#ff3200"/>
<path d="M199.9,612.7 C200.4,611.5 202.8,611.4 204.9,611.7 C207.1,612.0 210.0,614.9 212.8,614.7 C215.6,614.5 219.3,610.7 221.8,610.7 C224.3,610.7 226.6,612.7 227.8,614.7 C229.0,616.7 228.8,620.0 228.8,622.7 C228.8,625.4 229.1,628.4 227.8,630.7 C226.5,633.0 222.5,635.4 220.8,636.7 C219.1,638.0 219.1,638.9 217.8,638.7 C216.5,638.5 213.6,637.4 212.8,635.7 C212.0,634.0 213.6,630.7 212.8,628.7 C212.0,626.7 209.6,625.4 207.8,623.7 C206.0,622.0 203.2,620.5 201.9,618.7 C200.6,616.9 199.4,613.9 199.9,612.7 Z" fill="#ff3200"/>
<path d="M225.0,611.7 C225.6,609.5 228.2,616.0 228.8,619.2 C229.4,622.4 229.4,628.5 228.8,630.7 C228.2,633.0 225.6,635.9 225.0,632.7 C224.4,629.5 224.4,614.0 225.0,611.7 Z" fill="#ff3200"/>
<path d="M73.2,486.7 C69.0,489.5 74.2,494.1 75.0,496.7 C75.8,499.3 75.7,501.4 77.9,502.3 C80.1,503.2 85.0,502.1 88.3,502.3 C91.6,502.5 94.6,502.3 97.8,503.3 C101.0,504.2 104.0,505.9 107.2,508.0 C110.4,510.1 113.7,513.4 116.7,515.6 C119.7,517.8 122.7,520.1 125.2,521.2 C127.7,522.3 130.4,522.5 131.8,522.2 C133.2,521.9 134.0,521.0 133.7,519.3 C133.4,517.6 130.8,514.6 129.9,511.8 C129.0,509.0 128.3,506.5 128.0,502.3 C127.7,498.1 132.7,490.5 128.0,486.7 C123.3,482.9 109.1,479.7 100.0,479.7 C90.9,479.7 77.4,483.9 73.2,486.7 Z" fill="#ffa000" stroke="#141414" stroke-width="0.75"/>
<path d="M347.8,490.7 C343.5,491.9 353.1,496.8 357.2,498.2 C361.3,499.6 368.3,499.3 372.4,498.9 C376.5,498.5 380.0,497.1 381.8,495.7 C383.6,494.3 388.7,491.5 383.0,490.7 C377.3,489.9 352.1,489.4 347.8,490.7 Z" fill="#ffa000" stroke="#141414" stroke-width="0.75"/>
<path d="M40.0,535.2 C42.5,490.3 51.0,535.3 55.0,535.3 C59.0,535.3 60.4,535.1 63.8,535.4 C67.1,535.7 71.0,537.1 75.1,537.3 C79.2,537.5 84.5,535.9 88.3,536.5 C92.1,537.1 94.0,539.7 97.8,541.1 C101.6,542.5 106.6,543.7 111.0,544.8 C115.4,545.9 120.8,547.1 124.0,547.7 C127.2,548.3 128.2,548.7 130.3,548.2 C132.4,547.7 134.7,546.1 136.5,544.8 C138.3,543.4 139.9,542.3 141.2,540.1 C142.5,537.9 143.5,534.4 144.1,531.6 C144.7,528.8 144.1,525.5 145.0,523.1 C145.9,520.7 147.5,519.6 149.7,517.4 C151.9,515.2 155.2,511.5 158.2,509.9 C161.2,508.3 163.9,507.8 167.7,507.6 C171.5,507.4 176.8,508.2 180.9,508.9 C185.0,509.6 188.7,510.5 192.2,511.8 C195.7,513.1 198.9,514.6 201.7,516.5 C204.5,518.4 207.0,520.6 209.2,523.1 C211.4,525.6 213.1,529.2 214.9,531.6 C216.7,534.0 218.2,535.9 220.0,537.3 C221.8,538.7 224.2,539.4 226.0,540.2 C227.8,541.0 229.8,541.0 231.0,542.2 C232.2,543.5 233.2,545.9 233.5,547.7 C233.8,549.6 233.4,552.0 232.5,553.3 C231.6,554.5 229.2,555.3 227.8,555.2 C226.4,555.1 225.3,554.4 224.0,552.7 C222.7,551.0 221.8,546.6 220.0,544.8 C218.2,543.0 215.4,542.5 213.0,542.0 C210.6,541.5 207.6,541.5 205.4,542.0 C203.2,542.5 201.6,543.8 200.0,544.7 C198.4,545.6 197.6,547.5 196.0,547.2 C194.4,546.9 191.9,544.7 190.3,542.9 C188.7,541.1 187.8,538.6 186.6,536.3 C185.3,533.9 183.9,530.5 182.8,528.8 C181.7,527.1 180.9,526.1 180.0,525.9 C179.1,525.7 178.0,526.1 177.1,527.8 C176.2,529.5 175.9,533.6 174.3,536.3 C172.7,539.0 169.9,541.5 167.7,543.9 C165.5,546.3 162.8,547.7 161.1,550.5 C159.4,553.3 157.6,557.3 157.3,560.9 C157.0,564.5 157.8,568.4 159.2,572.2 C160.6,576.0 163.8,580.5 165.8,583.6 C167.8,586.8 170.0,588.6 171.4,591.1 C172.8,593.6 172.7,596.2 174.3,598.7 C175.9,601.2 178.6,604.2 180.9,606.2 C183.2,608.2 185.4,608.4 187.9,610.8 C190.4,613.2 193.9,617.6 195.9,620.7 C197.9,623.9 199.4,626.4 199.9,629.7 C200.4,633.0 199.4,636.8 198.9,640.6 C198.4,644.4 197.6,648.9 196.9,652.6 C196.2,656.2 195.4,659.5 194.9,662.5 C194.4,665.5 193.6,668.2 193.9,670.5 C194.2,672.8 196.4,674.2 196.9,676.5 C197.4,678.8 197.6,682.0 196.9,684.5 C196.2,687.0 193.6,689.2 192.9,691.4 C192.2,693.5 192.2,696.0 192.9,697.4 C193.6,698.8 195.6,700.0 196.9,700.0 C198.2,700.0 199.9,699.0 200.9,697.4 C201.9,695.8 202.1,692.9 202.9,690.4 C203.7,687.9 205.2,685.1 205.8,682.5 C206.5,679.9 206.0,677.5 206.8,674.5 C207.6,671.5 209.5,667.5 210.8,664.5 C212.1,661.5 212.6,658.9 214.8,656.6 C217.0,654.3 221.0,652.7 223.8,650.7 C226.6,648.7 229.4,646.3 231.7,644.6 C234.0,642.9 235.2,641.6 237.7,640.6 C240.2,639.6 244.7,639.7 246.7,638.6 C248.7,637.4 249.0,635.7 249.7,633.7 C250.4,631.7 251.0,628.9 250.7,626.7 C250.4,624.5 248.2,622.7 247.7,620.7 C247.2,618.7 246.7,616.7 247.7,614.7 C248.7,612.7 251.6,610.7 253.6,608.8 C255.6,606.9 258.1,603.7 259.6,603.4 C261.1,603.1 262.3,604.9 262.6,606.8 C262.9,608.7 261.9,612.6 261.6,614.7 C261.3,616.9 260.3,618.5 260.6,619.7 C260.9,620.9 262.4,621.9 263.6,621.7 C264.8,621.5 266.1,620.2 267.6,618.7 C269.1,617.2 272.4,615.1 272.6,612.8 C272.8,610.5 269.1,607.8 268.6,604.8 C268.1,601.8 268.6,597.6 269.6,594.8 C270.6,592.0 273.1,589.9 274.6,587.9 C276.1,585.9 277.6,584.1 278.6,582.9 C279.6,581.7 278.5,580.2 280.5,580.5 C282.5,580.8 289.8,583.7 290.5,584.9 C291.2,586.1 286.0,586.6 284.5,587.9 C283.0,589.2 282.5,589.6 281.5,592.8 C280.5,595.9 279.8,602.1 278.6,606.8 C277.5,611.4 276.1,616.1 274.6,620.7 C273.1,625.4 271.4,630.7 269.6,634.7 C267.8,638.7 264.7,641.6 263.6,644.6 C262.5,647.6 262.9,650.3 263.2,652.6 C263.5,654.9 264.2,657.9 265.6,658.6 C267.0,659.3 269.6,657.9 271.6,656.6 C273.6,655.3 275.9,652.6 277.5,650.6 C279.1,648.6 280.2,645.1 281.5,644.6 C282.8,644.1 283.5,647.3 285.5,647.6 C287.5,647.9 290.9,647.8 293.5,646.6 C296.1,645.4 298.9,642.5 301.4,640.6 C303.9,638.7 306.9,636.3 308.7,635.0 C310.4,633.7 310.0,634.0 311.9,632.7 C313.8,631.4 317.5,628.9 320.0,627.0 C322.5,625.1 325.5,623.5 327.0,621.3 C328.5,619.1 327.9,616.6 328.9,613.8 C329.8,611.0 330.8,607.4 332.7,604.3 C334.6,601.1 337.4,597.6 340.2,594.9 C343.0,592.2 346.2,590.3 349.7,588.3 C353.2,586.2 357.2,584.5 361.0,582.6 C364.8,580.7 368.6,578.6 372.3,576.9 C376.0,575.2 380.0,573.4 383.3,572.2 C386.6,571.0 389.2,570.3 392.0,569.7 C394.8,569.1 397.0,529.5 400.0,568.7 C403.0,607.9 470.0,765.4 410.0,804.7 C350.0,844.0 101.7,849.6 40.0,804.7 C-21.7,759.8 37.5,580.1 40.0,535.2 Z" fill="#ffa000" stroke="#141414" stroke-width="0.75"/>
<path d="M84.0,490.7 C77.8,491.4 87.8,494.1 90.0,495.2 C92.2,496.3 94.7,496.7 97.0,497.2 C99.3,497.7 101.2,497.5 104.0,498.3 C106.8,499.1 110.9,500.9 113.5,501.9 C116.1,502.9 118.3,504.3 119.8,504.4 C121.3,504.5 121.2,503.9 122.3,502.5 C123.4,501.1 125.7,497.7 126.5,495.7 C127.3,493.7 134.3,491.5 127.2,490.7 C120.1,489.9 90.2,489.9 84.0,490.7 Z" fill="#ffc03c"/>
<path d="M122.3,502.5 C121.9,504.5 123.4,505.9 124.3,507.7 C125.2,509.5 126.4,511.5 127.5,513.2 C128.6,514.9 130.2,517.2 131.0,517.7 C131.8,518.2 132.6,517.7 132.3,516.2 C132.0,514.7 129.8,511.2 129.0,508.7 C128.2,506.2 127.6,503.4 127.2,501.2 C126.8,499.0 127.6,495.5 126.8,495.7 C126.0,495.9 122.7,500.5 122.3,502.5 Z" fill="#ffc03c"/>
<path d="M201.7,530.7 L206.4,529.7 L206.4,533.5 L202.5,533.5 Z" fill="#ffc03c"/>
<path d="M40.0,549.4 C42.5,506.9 51.0,549.4 55.0,549.5 C59.0,549.6 61.2,549.7 64.3,550.1 C67.4,550.5 70.1,550.7 73.8,551.7 C77.5,552.7 83.0,554.9 86.6,555.9 C90.1,556.9 92.6,556.9 95.1,557.5 C97.6,558.1 101.4,558.6 101.4,559.7 C101.4,560.9 97.2,562.7 95.1,564.4 C93.0,566.1 90.4,568.2 88.7,569.8 C87.0,571.4 84.5,573.0 85.0,574.0 C85.5,575.0 89.3,575.2 91.9,575.6 C94.5,576.0 97.9,576.2 100.4,576.1 C102.9,576.0 105.4,576.0 106.8,575.1 C108.2,574.2 108.6,572.6 108.9,570.8 C109.2,569.0 108.1,566.0 108.4,564.4 C108.8,562.8 109.5,562.2 111.0,561.3 C112.5,560.4 114.9,559.6 117.4,559.1 C119.9,558.6 123.1,559.1 125.9,558.1 C128.8,557.1 132.3,554.6 134.5,553.4 C136.7,552.1 137.5,552.0 139.0,550.6 C140.5,549.2 142.1,547.2 143.4,545.0 C144.7,542.8 145.8,539.7 146.8,537.1 C147.8,534.5 148.6,531.5 149.6,529.3 C150.6,527.1 151.6,525.2 153.0,523.7 C154.4,522.2 156.2,521.0 158.0,520.2 C159.8,519.4 161.6,518.9 163.5,519.1 C165.4,519.3 167.8,520.1 169.2,521.2 C170.6,522.3 172.0,523.6 172.2,525.7 C172.4,527.8 171.4,531.1 170.3,533.7 C169.2,536.4 167.7,539.2 165.9,541.6 C164.1,544.0 161.5,546.2 159.7,548.3 C157.9,550.3 156.5,552.0 155.2,553.9 C153.9,555.8 152.7,557.2 151.8,559.5 C151.0,561.8 150.2,564.9 150.1,567.4 C150.0,569.9 150.4,572.2 151.1,574.6 C151.8,577.0 153.0,579.4 154.0,581.6 C155.0,583.8 155.9,585.6 157.0,587.6 C158.1,589.6 159.0,591.9 160.4,593.5 C161.8,595.1 163.6,596.2 165.4,597.5 C167.2,598.8 169.4,600.0 171.4,601.5 C173.4,603.0 175.7,605.0 177.4,606.5 C179.1,608.0 180.2,608.5 181.7,610.2 C183.2,611.9 185.1,615.1 186.6,616.5 C188.1,617.9 189.2,617.2 190.8,618.5 C192.4,619.8 194.9,622.1 196.1,624.1 C197.3,626.1 197.5,628.4 197.8,630.6 C198.2,632.8 198.4,635.6 198.2,637.3 C198.0,639.0 197.3,638.4 196.5,640.7 C195.7,643.0 194.8,646.9 193.5,650.9 C192.2,654.9 189.7,660.9 188.5,664.9 C187.3,668.9 186.8,671.2 186.5,674.9 C186.2,678.5 186.3,682.8 186.5,686.8 C186.7,690.8 186.5,695.6 187.5,698.8 C188.5,701.9 190.2,704.2 192.5,705.7 C194.8,707.2 198.6,707.6 201.5,707.7 C204.4,707.8 207.2,708.0 209.8,706.4 C212.4,704.8 215.6,701.7 216.8,698.4 C218.0,695.1 216.5,690.4 216.8,686.4 C217.1,682.4 217.5,677.8 218.8,674.5 C220.1,671.2 222.7,669.5 224.8,666.5 C227.0,663.5 229.5,659.2 231.7,656.6 C233.8,653.9 235.4,652.1 237.7,650.6 C240.0,649.1 243.7,647.3 245.7,647.6 C247.7,647.9 248.9,650.1 249.7,652.6 C250.5,655.1 250.4,659.2 250.7,662.5 C250.9,665.8 248.8,670.7 251.2,672.3 C253.5,673.9 259.2,672.5 264.8,671.9 C270.4,671.3 278.2,670.2 284.8,668.9 C291.4,667.6 298.1,664.9 304.7,663.9 C311.3,662.9 318.3,663.2 324.6,662.9 C330.9,662.6 338.0,662.9 342.6,661.9 C347.2,660.9 350.0,659.4 352.5,656.9 C355.0,654.4 356.2,650.6 357.5,647.0 C358.8,643.4 359.9,639.0 360.5,635.0 C361.1,631.0 360.0,626.7 361.0,623.2 C362.0,619.7 364.5,616.6 366.7,613.8 C368.9,611.0 371.4,608.4 374.2,606.2 C377.0,604.0 380.3,602.0 383.3,600.6 C386.3,599.2 389.2,598.4 392.0,597.7 C394.8,597.1 397.0,562.2 400.0,596.7 C403.0,631.2 470.0,770.0 410.0,804.7 C350.0,839.4 101.7,847.2 40.0,804.7 C-21.7,762.2 37.5,591.9 40.0,549.4 Z" fill="#ffc03c"/>
<path d="M58.0,564.5 C59.0,561.0 62.2,564.1 64.3,565.0 C66.4,565.9 68.0,567.8 70.6,569.8 C73.2,571.8 79.3,575.3 79.7,577.2 C80.1,579.1 75.4,580.0 72.8,581.4 C70.2,582.8 66.8,584.9 64.3,585.7 C61.8,586.5 59.0,589.7 58.0,586.2 C57.0,582.7 57.0,568.0 58.0,564.5 Z" fill="#ffa000"/>
<path d="M40.0,666.7 C42.5,643.7 51.0,666.5 55.0,666.4 C59.0,666.3 61.2,667.8 64.0,665.9 C66.8,664.0 69.7,658.4 72.0,654.9 C74.3,651.4 75.9,648.3 77.9,645.0 C79.9,641.7 83.0,638.0 83.9,635.0 C84.9,632.0 83.2,630.2 83.6,627.0 C84.0,623.8 84.7,619.5 86.4,615.7 C88.1,611.9 90.5,607.1 94.0,604.3 C97.5,601.5 102.5,599.5 107.2,598.7 C111.9,597.9 117.6,598.0 122.3,599.6 C127.0,601.2 131.8,604.8 135.6,608.1 C139.4,611.4 142.2,615.6 145.0,619.4 C147.8,623.2 150.4,627.2 152.6,630.8 C154.8,634.4 156.7,638.3 158.2,641.0 C159.7,643.7 160.7,643.7 161.6,647.0 C162.5,650.3 162.6,656.4 163.6,660.9 C164.6,665.4 166.4,673.9 167.6,673.9 C168.8,673.9 169.8,664.8 170.6,660.9 C171.4,657.0 172.0,653.9 172.6,650.7 C173.2,647.5 173.8,644.8 174.3,641.8 C174.8,638.8 175.5,635.4 175.4,632.8 C175.3,630.2 174.9,628.1 173.7,626.1 C172.5,624.0 170.3,622.6 168.1,620.5 C165.9,618.4 162.9,616.2 160.3,613.7 C157.7,611.2 154.5,607.9 152.4,605.5 C150.3,603.1 149.2,601.5 147.9,599.5 C146.6,597.5 145.5,595.6 144.4,593.5 C143.3,591.4 142.3,588.8 141.4,586.6 C140.5,584.5 139.7,582.6 138.9,580.6 C138.1,578.6 137.1,576.8 136.6,574.6 C136.1,572.4 135.9,569.9 136.1,567.6 C136.2,565.3 136.9,562.9 137.5,560.7 C138.1,558.6 139.1,556.2 139.9,554.7 C140.7,553.2 141.2,553.3 142.3,551.7 C143.5,550.1 145.3,547.4 146.8,545.0 C148.3,542.6 150.1,539.9 151.3,537.1 C152.5,534.3 152.9,530.2 154.1,528.1 C155.3,526.0 156.9,525.1 158.5,524.2 C160.1,523.3 162.2,522.0 163.6,522.5 C165.0,523.0 166.6,525.1 167.0,527.0 C167.4,528.9 166.7,531.5 165.9,533.7 C165.2,536.0 164.0,538.2 162.5,540.5 C161.0,542.8 158.6,545.2 156.9,547.2 C155.2,549.2 153.6,551.2 152.4,552.8 C151.2,554.4 150.3,555.2 149.5,556.7 C148.7,558.2 147.8,559.7 147.3,561.7 C146.8,563.7 146.5,566.5 146.7,568.6 C146.8,570.8 147.5,572.6 148.2,574.6 C148.9,576.6 149.8,578.6 150.7,580.6 C151.6,582.6 152.7,584.6 153.8,586.6 C154.9,588.6 156.0,590.7 157.3,592.5 C158.6,594.3 160.0,596.0 161.7,597.5 C163.4,599.0 165.7,600.2 167.7,601.5 C169.7,602.8 171.8,604.1 173.7,605.5 C175.6,606.9 177.1,608.2 179.2,610.0 C181.3,611.8 184.3,614.1 186.5,616.2 C188.7,618.3 190.8,620.3 192.2,622.5 C193.6,624.7 194.6,627.1 195.2,629.4 C195.8,631.7 196.2,634.0 195.9,636.2 C195.6,638.4 194.6,640.2 193.5,642.7 C192.4,645.2 191.0,647.2 189.5,650.9 C188.0,654.6 185.8,660.6 184.5,664.9 C183.2,669.2 182.0,672.5 181.5,676.8 C181.0,681.1 181.0,686.5 181.5,690.8 C182.0,695.1 182.8,699.4 184.5,702.7 C186.2,706.0 188.7,708.9 191.5,710.7 C194.3,712.5 198.2,713.5 201.5,713.7 C204.8,713.9 208.0,712.9 211.4,711.7 C214.8,710.5 218.8,709.3 221.8,706.4 C224.9,703.5 226.7,697.1 229.7,694.4 C232.7,691.7 236.4,691.4 239.7,690.4 C243.0,689.4 246.7,689.7 249.7,688.4 C252.7,687.1 253.6,683.8 257.6,682.5 C261.6,681.2 268.4,681.1 273.6,680.5 C278.8,679.9 283.6,679.6 288.8,678.8 C294.0,678.0 299.7,676.3 304.7,675.8 C309.7,675.3 314.0,675.5 318.7,675.8 C323.4,676.1 327.0,677.5 332.6,677.8 C338.2,678.1 345.9,677.8 352.5,677.8 C359.1,677.8 367.2,677.8 372.4,677.8 C377.5,677.8 380.1,677.8 383.4,677.8 C386.7,677.8 389.2,677.7 392.0,677.7 C394.8,677.7 397.0,656.5 400.0,677.7 C403.0,698.9 470.0,783.5 410.0,804.7 C350.0,825.9 101.7,827.7 40.0,804.7 C-21.7,781.7 37.5,689.8 40.0,666.7 Z" fill="#ffe878"/>
<path d="M50.0,682.5 C52.3,682.5 59.0,682.2 64.0,682.8 C69.0,683.3 74.6,684.5 79.9,685.8 C85.2,687.1 90.6,689.0 95.9,690.8 C101.2,692.6 107.5,695.2 111.8,696.8 C116.1,698.4 119.1,700.1 121.8,700.4 C124.5,700.7 126.5,700.4 127.7,698.8 C128.9,697.2 128.7,694.1 128.9,690.8 C129.1,687.5 127.7,682.3 128.7,678.8 C129.7,675.3 132.5,672.5 134.7,669.9 C136.9,667.2 139.9,665.1 141.7,662.9 C143.5,660.7 144.2,658.4 145.7,656.9 C147.2,655.4 148.7,653.7 150.5,653.7 C152.3,653.7 155.2,654.4 156.6,656.9 C157.9,659.4 157.9,664.9 158.6,668.9 C159.3,672.9 159.9,676.8 160.6,680.8 C161.3,684.8 161.6,689.1 162.6,692.8 C163.6,696.4 164.8,699.9 166.6,702.7 C168.4,705.5 170.8,707.5 173.6,709.7 C176.4,711.9 179.8,713.9 183.5,715.7 C187.2,717.5 191.5,719.4 195.5,720.7 C199.5,722.0 203.3,723.0 207.4,723.7 C211.5,724.4 217.1,724.7 220.0,724.7 C222.9,724.7 222.8,723.9 225.0,723.7 C227.2,723.5 230.0,723.1 233.0,723.7 C236.0,724.3 239.9,726.5 242.9,727.1 C245.9,727.7 248.6,727.8 250.9,727.1 C253.2,726.4 255.2,724.8 256.9,722.7 C258.6,720.6 259.2,717.4 260.9,714.7 C262.5,712.0 264.5,709.0 266.8,706.7 C269.1,704.4 271.9,701.9 274.8,700.7 C277.7,699.5 280.7,699.9 284.0,699.7 C287.3,699.6 290.6,700.0 294.7,699.8 C298.8,699.6 304.0,699.1 308.7,698.4 C313.4,697.7 318.3,696.9 322.6,695.8 C326.9,694.7 330.6,692.6 334.6,691.8 C338.6,691.0 342.2,690.6 346.5,690.8 C350.8,691.0 354.4,692.0 360.5,692.8 C366.6,693.6 377.5,695.0 383.4,695.8 C389.3,696.6 393.9,697.1 396.0,697.4 L396.2,802.9 L51.3,802.9 L50.0,682.5 Z" fill="#78b9fa" stroke="#141414" stroke-width="0.75"/>
<path d="M50.0,694.5 C52.3,694.5 59.0,694.2 64.0,694.8 C69.0,695.3 73.9,696.1 79.9,697.8 C85.9,699.4 93.8,702.1 99.8,704.7 C105.8,707.4 111.1,711.0 115.8,713.7 C120.5,716.4 124.1,718.7 127.7,720.7 C131.3,722.7 134.9,724.7 137.7,725.7 C140.5,726.7 143.0,727.5 144.7,726.7 C146.4,725.9 146.9,723.7 147.7,720.7 C148.5,717.7 149.0,712.0 149.7,708.7 C150.4,705.4 150.9,702.4 151.7,700.7 C152.5,699.0 153.4,698.4 154.6,698.6 C155.8,698.8 157.1,699.7 158.6,701.7 C160.1,703.7 161.4,707.9 163.6,710.7 C165.8,713.5 168.6,716.4 171.6,718.7 C174.6,721.0 178.2,723.0 181.5,724.7 C184.8,726.4 187.8,727.7 191.5,728.7 C195.2,729.7 198.8,730.3 203.5,730.6 C208.2,730.9 216.4,730.2 220.0,730.6 C223.6,731.0 222.3,731.3 225.0,732.8 C227.7,734.3 232.2,737.5 236.3,739.4 C240.4,741.3 245.2,743.0 249.6,744.1 C254.0,745.2 258.7,746.1 262.8,746.0 C266.9,745.9 270.3,745.1 274.1,743.2 C277.9,741.3 282.2,737.7 285.4,734.7 C288.5,731.7 289.9,727.9 293.0,725.2 C296.1,722.5 299.9,720.5 304.3,718.6 C308.7,716.7 313.7,715.0 319.4,713.9 C325.1,712.8 332.0,712.2 338.3,712.0 C344.6,711.8 349.7,712.1 357.2,712.4 C364.7,712.7 376.8,713.5 383.3,713.9 C389.8,714.3 393.9,714.6 396.0,714.7 L396.2,802.9 L51.3,802.9 L50.0,694.5 Z" fill="#3c96f5"/>
<path d="M50.0,711.4 C52.3,711.5 59.0,711.2 64.0,711.7 C69.0,712.2 73.9,713.0 79.9,714.7 C85.9,716.4 93.8,719.4 99.8,721.7 C105.8,724.0 111.1,726.2 115.8,728.7 C120.5,731.2 123.7,734.1 127.7,736.6 C131.7,739.1 136.2,742.1 139.7,743.6 C143.2,745.1 146.0,746.1 148.7,745.6 C151.3,745.1 153.1,741.8 155.6,740.6 C158.1,739.4 161.3,738.1 163.6,738.6 C165.9,739.1 167.3,741.8 169.6,743.6 C171.9,745.4 174.6,748.6 177.6,749.6 C180.6,750.6 184.2,749.4 187.5,749.6 C190.8,749.8 193.8,749.8 197.5,750.6 C201.2,751.4 206.0,753.8 209.4,754.6 C212.8,755.4 215.4,756.1 218.0,755.2 C220.6,754.3 221.8,749.7 225.0,749.2 C228.2,748.7 232.7,751.4 237.0,752.2 C241.3,753.1 246.3,754.3 250.9,754.3 C255.5,754.3 260.4,753.4 264.8,752.3 C269.2,751.2 272.9,749.7 277.0,747.7 C281.1,745.7 285.3,742.8 289.2,740.3 C293.1,737.8 296.8,735.1 300.6,732.8 C304.4,730.4 308.1,727.8 311.9,726.2 C315.7,724.6 318.8,723.9 323.2,723.3 C327.6,722.7 332.6,722.6 338.3,722.4 C344.0,722.2 349.7,721.9 357.2,722.0 C364.7,722.1 376.8,722.6 383.3,722.8 C389.8,723.0 393.9,723.2 396.0,723.3 L396.2,802.9 L51.3,802.9 L50.0,711.4 Z" fill="#1e6eeb"/>
<path d="M50.0,733.3 C52.3,733.3 59.7,733.2 64.0,733.6 C68.3,734.0 71.6,733.8 75.9,735.6 C80.2,737.4 85.2,741.8 89.9,744.6 C94.6,747.4 98.8,750.1 103.8,752.6 C108.8,755.1 115.5,757.0 119.8,759.5 C124.1,762.0 126.4,765.3 129.7,767.5 C133.0,769.7 136.0,771.7 139.7,772.5 C143.4,773.3 147.7,773.2 151.7,772.5 C155.7,771.8 159.6,768.8 163.6,768.5 C167.6,768.2 171.6,769.5 175.6,770.5 C179.6,771.5 183.5,773.8 187.5,774.5 C191.5,775.2 195.5,774.8 199.5,774.5 C203.5,774.2 208.0,773.8 211.4,772.5 C214.8,771.2 217.7,768.6 220.0,766.7 C222.3,764.8 222.3,762.3 225.0,761.2 C227.7,760.1 231.9,760.9 236.3,760.2 C240.7,759.6 246.3,757.9 251.4,757.3 C256.4,756.7 261.9,756.9 266.6,756.4 C271.3,755.9 276.0,755.9 279.8,754.5 C283.6,753.1 285.7,750.1 289.2,747.9 C292.7,745.7 296.8,743.3 300.6,741.3 C304.4,739.2 308.1,736.9 311.9,735.6 C315.7,734.3 318.8,734.2 323.2,733.7 C327.6,733.2 332.6,733.0 338.3,732.8 C344.0,732.6 349.7,732.3 357.2,732.4 C364.7,732.5 376.8,733.0 383.3,733.2 C389.8,733.4 393.9,733.6 396.0,733.7 L396.2,802.9 L51.3,802.9 L50.0,733.3 Z" fill="#1464d2"/>
<path d="M108.0,799.7 C102.0,797.9 110.0,791.0 112.0,788.7 C114.0,786.4 116.0,786.0 120.0,785.7 C124.0,785.5 132.0,786.6 136.0,787.2 C140.0,787.8 142.0,787.3 144.0,789.4 C146.0,791.5 154.0,798.0 148.0,799.7 C142.0,801.4 114.0,801.5 108.0,799.7 Z" fill="#1a50d2"/>
<path d="M221.0,799.7 C221.2,797.9 221.3,792.1 222.0,788.7 C222.7,785.3 222.6,781.2 225.0,779.1 C227.4,777.0 232.5,777.3 236.3,776.2 C240.1,775.1 243.3,774.0 247.7,772.4 C252.1,770.8 257.8,768.7 262.8,766.8 C267.8,764.9 273.5,762.8 277.9,761.1 C282.3,759.4 285.4,758.0 289.2,756.4 C293.0,754.8 296.8,753.0 300.6,751.7 C304.4,750.4 307.5,749.5 311.9,748.8 C316.3,748.1 321.3,747.8 327.0,747.5 C332.7,747.2 339.6,747.0 345.9,747.1 C352.2,747.2 358.6,747.6 364.8,747.9 C371.0,748.2 378.1,748.6 383.3,748.8 C388.5,749.0 393.9,749.2 396.0,749.3 L396.2,802.9 L51.3,802.9 L221.0,799.7 Z" fill="#1a50d2"/>
<path d="M273.8,782.4 C274.5,780.9 278.0,779.3 280.8,777.5 C283.6,775.7 287.1,773.3 290.7,771.5 C294.3,769.7 298.7,767.9 302.7,766.9 C306.7,765.9 311.0,765.6 314.7,765.5 C318.4,765.4 322.1,765.7 324.6,766.5 C327.1,767.3 329.9,768.8 329.6,770.1 C329.3,771.4 325.4,772.9 322.6,774.5 C319.8,776.1 316.0,778.0 312.7,779.5 C309.4,781.0 305.7,782.1 302.7,783.4 C299.7,784.7 297.7,786.4 294.7,787.4 C291.7,788.4 287.8,789.6 284.8,789.4 C281.8,789.2 278.6,787.6 276.8,786.4 C275.0,785.2 273.1,783.9 273.8,782.4 Z" fill="#4b3cc8" stroke="#141414" stroke-width="0.75"/>
<g transform="translate(0.0,354.7)" fill="none" stroke="#a0a0a0" stroke-width="0.65" stroke-linejoin="round">
<use href="#mapl"/>
</g>
<rect x="76.9" y="502.5" width="12.2" height="9.0" fill="#fff"/>
<text x="83.0" y="510.8" class="cl" text-anchor="middle" textLength="10.8" lengthAdjust="spacingAndGlyphs">24</text>
<rect x="124.2" y="544.1" width="12.2" height="9.0" fill="#fff"/>
<text x="130.3" y="552.4" class="cl" text-anchor="middle" textLength="10.8" lengthAdjust="spacingAndGlyphs">24</text>
<rect x="190.2" y="543.2" width="12.2" height="9.0" fill="#fff"/>
<text x="196.3" y="551.5" class="cl" text-anchor="middle" textLength="10.8" lengthAdjust="spacingAndGlyphs">24</text>
<rect x="274.1" y="571.0" width="12.2" height="9.0" fill="#fff"/>
<text x="280.2" y="579.3" class="cl" text-anchor="middle" textLength="10.8" lengthAdjust="spacingAndGlyphs">24</text>
<rect x="217.7" y="648.5" width="12.2" height="9.0" fill="#fff"/>
<text x="223.8" y="656.8" class="cl" text-anchor="middle" textLength="10.8" lengthAdjust="spacingAndGlyphs">24</text>
<rect x="313.9" y="622.5" width="12.2" height="9.0" fill="#fff"/>
<text x="320.0" y="630.8" class="cl" text-anchor="middle" textLength="10.8" lengthAdjust="spacingAndGlyphs">24</text>
<rect x="144.6" y="646.8" width="12.2" height="9.0" fill="#fff"/>
<text x="150.7" y="655.1" class="cl" text-anchor="middle" textLength="10.8" lengthAdjust="spacingAndGlyphs">15</text>
<rect x="278.1" y="695.1" width="12.2" height="9.0" fill="#fff"/>
<text x="284.2" y="703.4" class="cl" text-anchor="middle" textLength="10.8" lengthAdjust="spacingAndGlyphs">15</text>
<rect x="286.7" y="784.4" width="7.0" height="9.0" fill="#fff"/>
<text x="290.2" y="792.7" class="cl" text-anchor="middle" textLength="5.6" lengthAdjust="spacingAndGlyphs">0</text>
</g>
<rect x="63.3" y="494.0" width="320.9" height="296.9" fill="none" stroke="#000" stroke-width="1.7"/>
<path d="M63.3,494.0 h-3.6" stroke="#000" stroke-width="1.3"/>
<text x="58.1" y="497.4" class="yl" text-anchor="end">15N</text>
<path d="M63.3,513.8 h-3.6" stroke="#000" stroke-width="1.3"/>
<text x="58.1" y="517.2" class="yl" text-anchor="end">10N</text>
<path d="M63.3,533.6 h-3.6" stroke="#000" stroke-width="1.3"/>
<text x="58.1" y="537.0" class="yl" text-anchor="end">5N</text>
<path d="M63.3,553.4 h-3.6" stroke="#000" stroke-width="1.3"/>
<text x="58.1" y="556.8" class="yl" text-anchor="end">EQ</text>
<path d="M63.3,573.2 h-3.6" stroke="#000" stroke-width="1.3"/>
<text x="58.1" y="576.6" class="yl" text-anchor="end">5S</text>
<path d="M63.3,593.0 h-3.6" stroke="#000" stroke-width="1.3"/>
<text x="58.1" y="596.4" class="yl" text-anchor="end">10S</text>
<path d="M63.3,612.8 h-3.6" stroke="#000" stroke-width="1.3"/>
<text x="58.1" y="616.2" class="yl" text-anchor="end">15S</text>
<path d="M63.3,632.6 h-3.6" stroke="#000" stroke-width="1.3"/>
<text x="58.1" y="636.0" class="yl" text-anchor="end">20S</text>
<path d="M63.3,652.3 h-3.6" stroke="#000" stroke-width="1.3"/>
<text x="58.1" y="655.7" class="yl" text-anchor="end">25S</text>
<path d="M63.3,672.1 h-3.6" stroke="#000" stroke-width="1.3"/>
<text x="58.1" y="675.5" class="yl" text-anchor="end">30S</text>
<path d="M63.3,691.9 h-3.6" stroke="#000" stroke-width="1.3"/>
<text x="58.1" y="695.3" class="yl" text-anchor="end">35S</text>
<path d="M63.3,711.7 h-3.6" stroke="#000" stroke-width="1.3"/>
<text x="58.1" y="715.1" class="yl" text-anchor="end">40S</text>
<path d="M63.3,731.5 h-3.6" stroke="#000" stroke-width="1.3"/>
<text x="58.1" y="734.9" class="yl" text-anchor="end">45S</text>
<path d="M63.3,751.3 h-3.6" stroke="#000" stroke-width="1.3"/>
<text x="58.1" y="754.7" class="yl" text-anchor="end">50S</text>
<path d="M63.3,771.1 h-3.6" stroke="#000" stroke-width="1.3"/>
<text x="58.1" y="774.5" class="yl" text-anchor="end">55S</text>
<path d="M63.3,790.9 h-3.6" stroke="#000" stroke-width="1.3"/>
<text x="58.1" y="794.3" class="yl" text-anchor="end">60S</text>
<path d="M67.7,790.9 v3.4" stroke="#000" stroke-width="1.3"/>
<text x="68.1" y="802.2" class="xl" text-anchor="middle" textLength="21.3" lengthAdjust="spacingAndGlyphs">100W</text>
<path d="M103.3,790.9 v3.4" stroke="#000" stroke-width="1.3"/>
<text x="103.7" y="802.2" class="xl" text-anchor="middle" textLength="16.7" lengthAdjust="spacingAndGlyphs">90W</text>
<path d="M138.9,790.9 v3.4" stroke="#000" stroke-width="1.3"/>
<text x="139.3" y="802.2" class="xl" text-anchor="middle" textLength="16.7" lengthAdjust="spacingAndGlyphs">80W</text>
<path d="M174.5,790.9 v3.4" stroke="#000" stroke-width="1.3"/>
<text x="174.9" y="802.2" class="xl" text-anchor="middle" textLength="16.7" lengthAdjust="spacingAndGlyphs">70W</text>
<path d="M210.1,790.9 v3.4" stroke="#000" stroke-width="1.3"/>
<text x="210.5" y="802.2" class="xl" text-anchor="middle" textLength="16.7" lengthAdjust="spacingAndGlyphs">60W</text>
<path d="M245.7,790.9 v3.4" stroke="#000" stroke-width="1.3"/>
<text x="246.1" y="802.2" class="xl" text-anchor="middle" textLength="16.7" lengthAdjust="spacingAndGlyphs">50W</text>
<path d="M281.2,790.9 v3.4" stroke="#000" stroke-width="1.3"/>
<text x="281.6" y="802.2" class="xl" text-anchor="middle" textLength="16.7" lengthAdjust="spacingAndGlyphs">40W</text>
<path d="M316.8,790.9 v3.4" stroke="#000" stroke-width="1.3"/>
<text x="317.2" y="802.2" class="xl" text-anchor="middle" textLength="16.7" lengthAdjust="spacingAndGlyphs">30W</text>
<path d="M352.4,790.9 v3.4" stroke="#000" stroke-width="1.3"/>
<text x="352.8" y="802.2" class="xl" text-anchor="middle" textLength="16.7" lengthAdjust="spacingAndGlyphs">20W</text>
<text x="108.2" y="484.5" class="pt" textLength="68.2" lengthAdjust="spacing">cluster:</text>
<text x="193.3" y="484.5" class="pt" text-anchor="middle">3</text>
<text x="223.9" y="484.5" class="pt" textLength="92.4" lengthAdjust="spacing">membros:</text>
<text x="333.6" y="484.5" class="pt" text-anchor="middle">2</text>
<clipPath id="clip4"><rect x="522.1" y="494.0" width="320.9" height="296.9"/></clipPath>
<g clip-path="url(#clip4)">
<rect x="521.1" y="493.0" width="322.9" height="298.9" fill="#ff6000"/>
<path d="M613.4,495.7 C613.9,495.1 616.9,494.4 618.8,494.2 C620.7,494.0 624.4,494.0 624.8,494.7 C625.2,495.4 622.5,498.0 621.0,498.5 C619.5,499.0 617.1,498.2 615.8,497.7 C614.5,497.2 612.9,496.3 613.4,495.7 Z" fill="#ff3200"/>
<path d="M639.8,498.2 C640.4,497.1 644.9,496.5 647.4,496.7 C649.9,496.9 654.2,498.4 654.8,499.5 C655.4,500.6 653.0,502.7 651.2,503.3 C649.4,503.9 645.7,504.1 643.8,503.3 C641.9,502.4 639.2,499.3 639.8,498.2 Z" fill="#ff3200"/>
<path d="M666.3,504.2 C666.9,502.9 669.9,501.7 672.0,502.3 C674.1,502.9 677.0,506.0 678.8,507.7 C680.6,509.4 681.5,511.0 682.8,512.7 C684.1,514.5 686.8,517.0 686.8,518.2 C686.8,519.4 684.1,519.5 682.8,519.7 C681.5,519.9 680.3,520.0 678.8,519.3 C677.3,518.6 675.6,517.2 673.8,515.6 C672.0,514.0 669.5,511.8 668.2,509.9 C667.0,508.0 665.7,505.5 666.3,504.2 Z" fill="#ff3200"/>
<path d="M668.2,579.7 C669.0,578.3 672.5,576.6 673.9,576.9 C675.3,577.2 676.7,580.1 676.7,581.7 C676.7,583.3 675.1,585.8 673.9,586.4 C672.6,587.0 670.2,586.6 669.2,585.5 C668.2,584.4 667.4,581.1 668.2,579.7 Z" fill="#ff3200"/>
<path d="M701.8,538.2 C702.9,537.1 706.4,536.8 708.6,536.3 C710.8,535.8 713.5,536.6 715.2,535.4 C716.9,534.1 717.2,530.5 718.9,528.8 C720.6,527.1 722.9,525.5 725.6,525.0 C728.3,524.5 732.5,524.8 735.0,525.9 C737.5,527.0 739.6,529.2 740.7,531.6 C741.8,534.0 741.9,537.6 741.6,540.1 C741.3,542.6 740.5,545.4 738.8,546.7 C737.1,548.0 733.6,548.2 731.2,547.7 C728.8,547.2 726.3,545.3 724.6,543.9 C722.9,542.5 721.9,539.4 720.8,539.2 C719.7,539.0 718.8,541.5 718.0,542.9 C717.2,544.3 717.5,546.4 716.1,547.7 C714.7,549.0 711.4,550.5 709.5,550.5 C707.6,550.5 706.1,549.0 704.8,547.7 C703.5,546.4 702.3,544.5 701.8,542.9 C701.3,541.3 700.7,539.3 701.8,538.2 Z" fill="#ff3200"/>
<path d="M761.4,539.2 L766.2,538.2 L765.3,541.7 Z" fill="#ff3200"/>
<path d="M767.1,579.8 C767.4,577.8 769.5,576.0 770.9,575.1 C772.3,574.2 774.7,573.3 775.6,574.1 C776.5,574.9 777.1,577.9 776.6,579.8 C776.1,581.7 774.1,584.2 772.8,585.5 C771.5,586.8 770.0,588.2 769.0,587.3 C768.0,586.3 766.8,581.8 767.1,579.8 Z" fill="#ff3200"/>
<path d="M798.3,521.2 C799.1,518.9 801.9,515.6 804.9,513.7 C807.9,511.8 812.4,510.5 816.2,509.9 C820.0,509.3 824.5,510.4 827.6,509.9 C830.8,509.4 832.2,507.5 835.1,507.1 C838.0,506.7 843.2,504.9 844.8,507.7 C846.4,510.5 846.7,521.8 844.8,523.7 C842.9,525.6 836.7,519.1 833.2,519.3 C829.7,519.5 826.6,523.3 823.8,525.0 C821.0,526.7 819.0,528.6 816.2,529.7 C813.4,530.8 809.5,532.0 806.8,531.7 C804.1,531.4 801.6,529.5 800.2,527.8 C798.8,526.0 797.5,523.6 798.3,521.2 Z" fill="#ff3200"/>
<path d="M667.8,582.7 C668.3,581.2 670.3,577.7 671.6,576.9 C672.9,576.1 674.9,576.8 675.6,577.9 C676.3,579.0 676.4,582.2 675.8,583.7 C675.2,585.2 673.0,586.5 671.8,586.9 C670.6,587.3 669.5,586.6 668.8,585.9 C668.1,585.2 667.3,584.2 667.8,582.7 Z" fill="#ff3200"/>
<path d="M658.8,616.7 C659.5,615.5 661.5,614.4 664.8,613.7 C668.1,613.0 675.1,612.0 678.8,612.7 C682.5,613.4 685.3,615.4 686.8,617.7 C688.3,620.0 688.0,624.0 687.8,626.7 C687.6,629.4 687.0,631.9 685.8,633.7 C684.6,635.5 682.5,636.5 680.8,637.7 C679.1,638.9 677.8,640.4 675.8,640.7 C673.8,641.0 670.1,641.0 668.8,639.7 C667.5,638.4 667.6,634.7 667.8,632.7 C668.0,630.7 670.3,629.2 669.8,627.7 C669.3,626.2 666.3,624.9 664.8,623.7 C663.3,622.5 661.8,621.9 660.8,620.7 C659.8,619.5 658.1,617.9 658.8,616.7 Z" fill="#ff3200"/>
<path d="M530.3,486.7 C525.9,489.5 531.3,493.8 532.3,496.7 C533.2,499.6 534.3,502.1 536.0,504.2 C537.7,506.3 540.4,509.0 542.6,509.3 C544.8,509.6 546.8,507.0 549.2,506.1 C551.6,505.2 554.0,503.9 556.8,504.2 C559.6,504.5 563.1,506.1 566.2,508.0 C569.4,509.9 572.9,513.4 575.7,515.6 C578.5,517.8 580.4,519.9 583.2,521.2 C586.0,522.5 590.5,523.4 592.7,523.5 C594.9,523.6 596.1,523.0 596.3,521.7 C596.4,520.4 594.7,517.6 593.6,515.6 C592.5,513.6 590.8,512.1 589.8,509.9 C588.8,507.7 588.2,506.2 587.9,502.3 C587.6,498.4 592.8,490.5 587.9,486.7 C583.0,482.9 568.4,479.7 558.8,479.7 C549.2,479.7 534.7,483.9 530.3,486.7 Z" fill="#ffa000" stroke="#141414" stroke-width="0.75"/>
<path d="M762.4,491.7 C761.6,492.6 765.9,495.8 767.8,496.2 C769.7,496.6 773.0,495.1 773.8,494.2 C774.6,493.3 774.7,491.1 772.8,490.7 C770.9,490.3 763.2,490.8 762.4,491.7 Z" fill="#ffa000" stroke="#141414" stroke-width="0.75"/>
<path d="M498.8,536.1 C501.3,491.4 509.8,536.2 513.8,536.2 C517.8,536.2 519.4,535.5 522.8,536.3 C526.2,537.1 530.3,539.8 534.1,541.1 C537.9,542.4 541.6,544.1 545.4,544.3 C549.2,544.4 552.7,542.1 556.8,542.0 C560.9,541.9 565.7,543.1 570.0,543.9 C574.3,544.6 579.6,546.0 582.8,546.5 C586.0,547.0 587.0,547.5 589.3,547.1 C591.6,546.7 594.4,545.4 596.4,543.9 C598.4,542.4 600.1,540.4 601.2,538.2 C602.3,536.0 603.0,532.8 603.1,530.7 C603.2,528.7 602.1,527.4 602.1,525.9 C602.1,524.4 602.7,522.8 603.3,521.7 C603.9,520.6 604.5,520.5 605.9,519.3 C607.3,518.1 609.4,516.2 611.6,514.6 C613.8,513.0 616.6,510.9 619.1,509.9 C621.6,508.9 624.2,508.4 626.7,508.4 C629.2,508.4 631.7,509.0 634.2,509.9 C636.7,510.8 639.0,512.8 641.8,513.7 C644.6,514.7 648.1,514.7 651.2,515.6 C654.4,516.5 657.9,517.7 660.7,519.3 C663.5,520.9 666.0,523.0 668.2,525.0 C670.4,527.0 672.5,529.1 673.9,531.6 C675.3,534.1 675.9,538.4 676.7,540.1 C677.6,541.8 678.0,541.4 679.0,542.0 C680.0,542.6 682.8,543.2 682.8,543.7 C682.8,544.2 680.8,545.0 679.0,545.0 C677.2,545.0 674.4,543.9 672.0,543.9 C669.6,543.9 667.0,544.2 664.5,544.8 C662.0,545.4 659.1,547.4 656.9,547.7 C654.7,548.0 652.8,547.7 651.2,546.7 C649.6,545.8 648.5,544.0 647.4,542.0 C646.3,540.0 645.5,536.8 644.6,534.4 C643.8,532.0 643.3,529.3 642.3,527.7 C641.3,526.1 639.8,525.0 638.8,524.7 C637.8,524.4 636.9,524.9 636.1,525.9 C635.3,526.9 634.8,528.7 634.2,530.7 C633.6,532.8 633.9,535.9 632.3,538.2 C630.7,540.6 627.1,542.4 624.8,544.8 C622.4,547.2 619.9,549.4 618.2,552.4 C616.6,555.4 615.2,559.5 614.9,562.8 C614.6,566.1 615.1,569.1 616.3,572.2 C617.5,575.4 619.8,578.9 621.9,581.7 C624.0,584.5 626.9,586.7 628.6,589.2 C630.3,591.7 630.4,594.0 632.3,596.8 C634.2,599.6 637.5,603.5 639.9,606.2 C642.3,608.9 644.4,610.0 646.9,612.8 C649.4,615.5 652.9,619.6 654.9,622.7 C656.9,625.9 658.6,628.1 658.9,631.7 C659.2,635.4 657.6,640.4 656.9,644.6 C656.2,648.7 655.7,652.6 654.9,656.6 C654.1,660.6 652.1,665.2 651.9,668.5 C651.7,671.8 653.9,673.5 653.9,676.5 C653.9,679.5 652.6,683.5 651.9,686.5 C651.2,689.5 649.9,692.2 649.9,694.4 C649.9,696.6 650.8,698.4 651.8,699.7 C652.8,701.0 653.9,702.8 655.9,702.2 C657.9,701.7 661.6,698.7 663.9,696.4 C666.2,694.1 668.8,691.4 669.8,688.4 C670.8,685.4 670.1,681.8 669.8,678.5 C669.5,675.2 667.6,671.8 667.8,668.5 C668.0,665.2 669.3,661.2 670.8,658.6 C672.3,655.9 674.8,653.9 676.8,652.6 C678.8,651.3 681.0,651.9 682.8,650.6 C684.6,649.3 686.1,646.6 687.8,644.6 C689.4,642.6 690.6,640.1 692.7,638.6 C694.9,637.1 698.2,636.5 700.7,635.7 C703.2,634.9 706.2,635.2 707.7,633.7 C709.2,632.2 710.0,628.9 709.7,626.7 C709.4,624.5 706.9,622.4 705.7,620.7 C704.5,619.0 702.7,618.2 702.7,616.7 C702.7,615.2 704.0,613.4 705.7,611.8 C707.4,610.1 710.7,608.2 712.7,606.8 C714.7,605.4 716.4,603.2 717.6,603.4 C718.9,603.6 720.4,605.9 720.2,607.8 C720.0,609.7 717.4,612.2 716.6,614.7 C715.8,617.2 715.1,620.5 715.6,622.7 C716.1,624.9 717.9,626.7 719.6,627.7 C721.3,628.7 724.4,626.9 725.6,628.7 C726.8,630.5 726.3,635.3 726.6,638.6 C726.9,641.9 726.9,645.6 727.6,648.6 C728.3,651.6 729.4,654.9 730.8,656.7 C732.2,658.5 734.1,659.1 736.2,659.2 C738.3,659.4 740.8,658.7 743.5,657.6 C746.2,656.5 750.0,654.8 752.5,652.6 C755.0,650.4 756.5,647.2 758.5,644.6 C760.5,641.9 762.8,639.3 764.4,636.7 C766.0,634.1 767.3,631.8 768.1,628.9 C768.9,626.0 768.2,621.8 769.0,619.4 C769.8,617.0 770.9,616.0 772.8,614.7 C774.7,613.5 777.9,613.3 780.3,611.9 C782.6,610.5 784.1,608.4 786.9,606.2 C789.7,604.0 793.7,601.1 797.3,598.7 C800.9,596.4 804.9,594.5 808.7,592.1 C812.5,589.7 816.2,586.8 820.0,584.5 C823.8,582.2 827.6,579.7 831.3,578.3 C835.0,576.9 839.0,576.7 842.3,576.0 C845.5,575.3 848.0,574.6 850.8,574.2 C853.5,573.8 855.8,535.3 858.8,573.7 C861.8,612.1 928.8,766.2 868.8,804.7 C808.8,843.2 560.5,849.5 498.8,804.7 C437.1,759.9 496.3,580.9 498.8,536.1 Z" fill="#ffa000" stroke="#141414" stroke-width="0.75"/>
<path d="M728.6,594.8 C729.4,593.1 731.1,591.2 732.6,589.9 C734.1,588.6 736.7,588.2 737.6,586.9 C738.5,585.6 738.1,583.5 738.2,582.2 C738.4,580.9 736.8,578.5 738.5,578.9 C740.2,579.3 747.7,583.0 748.5,584.5 C749.3,586.0 744.8,586.2 743.5,587.9 C742.2,589.6 741.5,592.0 740.5,594.8 C739.5,597.6 738.8,602.5 737.6,604.8 C736.5,607.1 734.9,608.4 733.6,608.4 C732.3,608.4 730.5,606.2 729.6,604.8 C728.7,603.4 728.2,601.5 728.0,599.8 C727.8,598.1 727.8,596.4 728.6,594.8 Z" fill="#ffa000" stroke="#141414" stroke-width="0.75"/>
<path d="M636.1,560.7 C636.7,559.7 638.7,558.4 639.8,557.7 C640.9,557.0 642.0,556.0 642.8,556.4 C643.6,556.8 644.6,558.8 644.6,560.0 C644.6,561.2 643.8,562.7 642.8,563.5 C641.8,564.3 639.9,565.0 638.8,565.0 C637.7,565.0 636.8,564.4 636.3,563.7 C635.8,563.0 635.5,561.7 636.1,560.7 Z" fill="#ffa000" stroke="#141414" stroke-width="0.75"/>
<path d="M538.8,490.7 C532.3,491.5 544.1,494.6 546.8,495.7 C549.5,496.8 552.1,496.8 554.8,497.2 C557.5,497.6 559.9,497.5 562.8,498.3 C565.7,499.1 569.7,500.9 572.3,501.9 C574.9,502.9 577.1,504.3 578.6,504.4 C580.1,504.5 580.0,503.9 581.1,502.5 C582.2,501.1 584.5,497.7 585.3,495.7 C586.1,493.7 593.8,491.5 586.0,490.7 C578.2,489.9 545.3,489.9 538.8,490.7 Z" fill="#ffc03c"/>
<path d="M581.1,502.5 C580.7,504.5 582.2,505.9 583.1,507.7 C584.0,509.5 585.2,511.5 586.3,513.2 C587.4,514.9 589.0,517.2 589.8,517.7 C590.6,518.2 591.4,517.7 591.1,516.2 C590.8,514.7 588.6,511.2 587.8,508.7 C586.9,506.2 586.4,503.4 586.0,501.2 C585.6,499.0 586.4,495.5 585.6,495.7 C584.8,495.9 581.5,500.5 581.1,502.5 Z" fill="#ffc03c"/>
<path d="M652.2,536.3 C652.8,534.4 656.8,532.0 658.8,530.7 C660.8,529.5 662.8,528.6 664.5,528.8 C666.2,528.9 668.3,530.5 669.2,531.6 C670.1,532.7 671.2,534.0 670.1,535.4 C669.0,536.8 665.1,539.0 662.6,540.1 C660.1,541.2 656.7,542.6 655.0,542.0 C653.3,541.4 651.6,538.2 652.2,536.3 Z" fill="#ffc03c"/>
<path d="M498.8,548.6 C501.3,505.9 509.7,548.7 513.8,548.8 C517.9,548.9 520.3,548.6 523.3,549.0 C526.3,549.4 529.0,550.2 531.8,551.2 C534.6,552.2 537.8,553.9 540.3,554.9 C542.8,555.9 544.1,556.4 546.6,557.0 C549.1,557.6 553.2,558.0 555.1,558.6 C557.0,559.2 559.0,559.6 558.3,560.7 C557.6,561.9 553.5,563.8 550.9,565.5 C548.2,567.2 544.5,569.2 542.4,570.8 C540.3,572.4 538.5,573.9 538.1,575.1 C537.8,576.4 539.0,577.9 540.3,578.3 C541.5,578.6 543.7,578.2 545.6,577.2 C547.5,576.2 550.1,573.3 551.9,572.4 C553.7,571.5 554.6,571.3 556.2,571.9 C557.8,572.5 559.7,575.0 561.5,576.1 C563.3,577.2 565.1,578.2 566.8,578.5 C568.5,578.8 570.7,578.8 571.6,577.7 C572.5,576.6 572.2,574.1 572.1,571.9 C572.0,569.7 571.1,566.3 571.1,564.4 C571.1,562.5 570.9,561.7 572.1,560.7 C573.3,559.7 576.0,559.2 578.5,558.6 C581.0,558.0 584.5,557.9 587.0,557.0 C589.5,556.1 591.5,554.5 593.3,553.4 C595.1,552.3 596.3,552.0 597.8,550.6 C599.3,549.2 600.9,547.2 602.2,545.0 C603.5,542.8 604.6,539.7 605.6,537.1 C606.6,534.5 607.4,531.5 608.4,529.3 C609.4,527.1 610.4,525.2 611.8,523.7 C613.2,522.2 615.0,521.0 616.8,520.2 C618.5,519.4 620.4,518.9 622.3,519.1 C624.2,519.3 626.5,520.1 628.0,521.2 C629.5,522.3 630.8,523.6 631.0,525.7 C631.2,527.8 630.1,531.1 629.1,533.7 C628.1,536.4 626.5,539.2 624.7,541.6 C622.9,544.0 620.3,546.2 618.5,548.3 C616.7,550.3 615.3,552.0 614.0,553.9 C612.7,555.8 611.5,557.2 610.6,559.5 C609.8,561.8 609.0,564.9 608.9,567.4 C608.8,569.9 609.2,572.2 609.9,574.6 C610.5,577.0 611.8,579.4 612.8,581.6 C613.8,583.8 614.7,585.6 615.8,587.6 C616.9,589.6 617.8,591.9 619.2,593.5 C620.6,595.1 622.4,596.2 624.2,597.5 C626.0,598.8 628.2,600.0 630.2,601.5 C632.2,603.0 634.5,605.0 636.2,606.5 C637.9,608.0 639.0,608.5 640.5,610.2 C642.0,611.9 643.9,615.1 645.4,616.5 C646.9,617.9 648.0,617.2 649.6,618.5 C651.2,619.8 653.7,622.1 654.9,624.1 C656.1,626.1 656.2,628.4 656.6,630.6 C657.0,632.8 657.1,635.6 657.0,637.3 C656.9,639.0 656.5,638.4 655.8,640.7 C655.0,643.0 654.0,646.9 652.5,650.9 C651.0,654.9 647.8,660.6 646.5,664.9 C645.2,669.2 644.8,672.5 644.5,676.8 C644.2,681.1 644.2,686.5 644.5,690.8 C644.8,695.1 645.2,699.2 646.5,702.7 C647.8,706.2 649.8,709.9 652.5,711.7 C655.2,713.5 659.2,713.7 662.5,713.7 C665.8,713.7 670.4,712.4 672.4,711.7 C674.4,711.0 674.2,712.2 674.8,709.3 C675.4,706.4 676.0,698.9 675.8,694.4 C675.6,689.9 673.6,686.5 673.8,682.5 C674.0,678.5 675.3,673.8 676.8,670.5 C678.3,667.2 680.5,665.1 682.8,662.5 C685.1,659.9 688.1,656.9 690.7,654.6 C693.4,652.3 696.2,649.9 698.7,648.6 C701.2,647.3 703.8,646.2 705.8,646.6 C707.8,646.9 709.8,649.2 710.7,650.7 C711.6,652.2 711.1,654.0 711.3,655.7 C711.5,657.4 711.1,658.7 711.9,660.9 C712.7,663.1 712.9,666.9 715.9,668.9 C718.9,670.9 725.1,672.4 729.8,672.9 C734.4,673.4 738.8,672.6 743.8,671.9 C748.8,671.2 754.4,669.6 759.7,668.9 C765.0,668.2 769.6,668.6 775.6,667.9 C781.6,667.2 789.6,666.4 795.6,664.9 C801.6,663.4 807.5,661.2 811.5,658.9 C815.5,656.6 817.8,654.9 819.5,650.9 C821.2,646.9 821.7,638.4 821.5,635.0 C821.3,631.6 819.0,633.1 818.1,630.8 C817.2,628.5 815.2,624.1 816.2,621.3 C817.2,618.5 820.6,616.6 823.8,613.8 C826.9,611.0 832.0,606.7 835.1,604.3 C838.2,601.9 839.7,600.9 842.3,599.6 C844.9,598.3 848.0,597.4 850.8,596.7 C853.5,596.1 855.8,561.0 858.8,595.7 C861.8,630.4 928.8,769.9 868.8,804.7 C808.8,839.5 560.5,847.4 498.8,804.7 C437.1,762.0 496.3,591.2 498.8,548.6 Z" fill="#ffc03c"/>
<path d="M516.8,567.7 C517.9,565.2 521.5,567.9 523.3,568.2 C525.1,568.6 526.3,568.8 527.5,569.8 C528.7,570.8 530.4,572.4 530.7,574.0 C531.1,575.6 530.8,577.9 529.6,579.3 C528.4,580.7 525.4,581.9 523.3,582.5 C521.2,583.1 517.9,585.5 516.8,583.0 C515.7,580.5 515.7,570.2 516.8,567.7 Z" fill="#ffa000"/>
<path d="M498.8,661.7 C501.3,637.8 509.8,661.5 513.8,661.4 C517.8,661.3 520.1,662.0 523.0,660.9 C525.9,659.8 528.9,657.2 531.0,654.9 C533.1,652.6 534.8,650.3 535.9,647.0 C537.0,643.7 537.6,637.7 537.9,635.0 C538.2,632.3 537.6,633.1 537.9,630.8 C538.2,628.5 538.5,624.4 539.8,621.3 C541.0,618.1 543.2,615.0 545.4,611.9 C547.6,608.8 550.5,604.8 553.0,602.4 C555.5,600.0 557.1,598.2 560.6,597.7 C564.1,597.2 569.7,598.8 573.8,599.6 C577.9,600.4 581.3,600.7 585.1,602.4 C588.9,604.1 593.2,607.2 596.4,610.0 C599.5,612.8 601.5,615.9 604.0,619.4 C606.5,622.9 609.4,627.2 611.6,630.8 C613.8,634.4 615.7,638.3 617.2,641.0 C618.7,643.7 619.7,643.7 620.6,647.0 C621.5,650.3 621.6,656.2 622.6,660.9 C623.6,665.5 625.4,674.9 626.6,674.9 C627.8,674.9 628.8,664.9 629.6,660.9 C630.4,656.9 630.8,653.9 631.4,650.7 C632.0,647.5 632.6,644.8 633.1,641.8 C633.6,638.8 634.3,635.4 634.2,632.8 C634.1,630.2 633.7,628.1 632.5,626.1 C631.3,624.0 629.1,622.6 626.9,620.5 C624.7,618.4 621.7,616.2 619.1,613.7 C616.5,611.2 613.3,607.9 611.2,605.5 C609.1,603.1 608.0,601.5 606.7,599.5 C605.4,597.5 604.3,595.6 603.2,593.5 C602.1,591.4 601.1,588.8 600.2,586.6 C599.3,584.5 598.5,582.6 597.7,580.6 C596.9,578.6 595.9,576.8 595.4,574.6 C594.9,572.4 594.8,569.9 594.9,567.6 C595.0,565.3 595.7,562.9 596.3,560.7 C596.9,558.6 597.9,556.2 598.7,554.7 C599.5,553.2 600.0,553.3 601.1,551.7 C602.2,550.1 604.1,547.4 605.6,545.0 C607.1,542.6 608.9,539.9 610.1,537.1 C611.3,534.3 611.7,530.2 612.9,528.1 C614.1,526.0 615.7,525.1 617.3,524.2 C618.9,523.3 621.0,522.0 622.4,522.5 C623.8,523.0 625.4,525.1 625.8,527.0 C626.2,528.9 625.5,531.5 624.7,533.7 C624.0,536.0 622.8,538.2 621.3,540.5 C619.8,542.8 617.4,545.2 615.7,547.2 C614.0,549.2 612.4,551.2 611.2,552.8 C610.0,554.4 609.1,555.2 608.3,556.7 C607.4,558.2 606.6,559.7 606.1,561.7 C605.6,563.7 605.4,566.5 605.5,568.6 C605.6,570.8 606.3,572.6 607.0,574.6 C607.7,576.6 608.6,578.6 609.5,580.6 C610.4,582.6 611.5,584.6 612.6,586.6 C613.7,588.6 614.8,590.7 616.1,592.5 C617.4,594.3 618.8,596.0 620.5,597.5 C622.2,599.0 624.5,600.2 626.5,601.5 C628.5,602.8 630.6,604.1 632.5,605.5 C634.4,606.9 635.9,608.2 638.0,610.0 C640.1,611.8 643.1,614.1 645.3,616.2 C647.5,618.3 649.5,620.3 651.0,622.5 C652.5,624.7 653.4,627.1 654.0,629.4 C654.6,631.7 655.2,633.7 654.7,636.2 C654.2,638.8 652.0,641.9 650.8,644.7 C649.6,647.5 649.0,649.2 647.5,652.9 C646.0,656.6 642.8,662.2 641.5,666.9 C640.2,671.5 639.7,675.8 639.5,680.8 C639.3,685.8 639.7,692.1 640.5,696.8 C641.3,701.4 642.8,705.4 644.5,708.7 C646.2,712.0 647.8,714.9 650.5,716.7 C653.2,718.5 657.2,719.4 660.5,719.7 C663.8,720.0 667.3,719.5 670.4,718.7 C673.5,717.9 676.7,716.0 679.0,714.7 C681.3,713.4 682.2,713.0 684.0,710.7 C685.8,708.4 688.0,704.0 690.0,700.7 C692.0,697.4 693.4,693.3 696.0,690.8 C698.6,688.3 701.9,687.2 705.9,685.8 C709.9,684.4 714.9,682.8 719.9,682.3 C724.9,681.8 730.2,682.9 735.8,682.8 C741.4,682.7 748.1,682.3 753.7,681.8 C759.4,681.3 764.7,680.5 769.7,679.8 C774.7,679.1 778.6,678.1 783.6,677.8 C788.6,677.5 793.6,677.8 799.6,677.8 C805.6,677.8 812.4,677.6 819.5,677.8 C826.6,678.0 837.2,678.6 842.4,678.8 C847.6,679.0 848.1,679.0 850.8,679.0 C853.5,679.0 855.8,658.0 858.8,679.0 C861.8,700.0 928.8,783.8 868.8,804.7 C808.8,825.7 560.5,828.5 498.8,804.7 C437.1,780.9 496.3,685.6 498.8,661.7 Z" fill="#ffe878"/>
<path d="M508.8,682.1 C511.2,682.1 518.0,681.9 523.0,682.4 C528.0,682.9 533.6,683.6 538.9,684.8 C544.2,686.0 549.9,688.1 554.9,689.8 C559.9,691.5 565.0,693.5 568.8,694.8 C572.6,696.1 575.1,697.2 577.8,697.5 C580.5,697.8 583.0,697.3 584.8,696.7 C586.6,696.1 587.7,695.8 588.7,693.8 C589.7,691.8 590.2,687.9 590.7,684.8 C591.2,681.6 590.9,677.7 591.7,674.9 C592.5,672.1 593.9,669.9 595.7,667.9 C597.5,665.9 600.9,664.9 602.7,662.9 C604.5,660.9 605.5,657.9 606.7,655.9 C607.9,653.9 608.7,651.2 609.7,651.0 C610.7,650.8 611.6,652.2 612.6,654.9 C613.6,657.5 614.6,662.6 615.6,666.9 C616.6,671.2 617.6,676.1 618.6,680.8 C619.6,685.4 620.3,690.8 621.6,694.8 C622.9,698.8 624.4,701.7 626.6,704.7 C628.8,707.7 631.6,710.2 634.6,712.7 C637.6,715.2 640.9,717.7 644.5,719.7 C648.1,721.7 652.5,723.5 656.5,724.7 C660.5,725.9 664.6,726.8 668.4,727.1 C672.1,727.4 676.4,726.9 679.0,726.7 C681.6,726.5 681.8,726.0 684.0,725.7 C686.2,725.4 689.4,724.8 692.0,725.1 C694.6,725.4 697.2,726.9 699.8,727.3 C702.4,727.6 705.4,727.6 707.8,727.2 C710.1,726.8 712.0,726.1 713.9,724.7 C715.8,723.3 717.6,720.9 718.9,718.7 C720.2,716.5 720.1,713.9 721.9,711.7 C723.7,709.5 726.5,707.0 729.8,705.7 C733.1,704.4 737.5,704.4 741.8,703.7 C746.1,703.0 750.7,702.7 755.7,701.7 C760.7,700.7 766.7,699.1 771.7,697.8 C776.7,696.5 781.3,694.9 785.6,693.8 C789.9,692.7 793.3,691.6 797.6,691.4 C801.9,691.2 806.5,691.9 811.5,692.4 C816.5,692.9 822.4,693.5 827.5,694.4 C832.6,695.3 837.9,696.9 842.4,697.8 C847.0,698.7 852.7,699.4 854.8,699.7 L855.0,802.9 L510.1,802.9 L508.8,682.1 Z" fill="#78b9fa" stroke="#141414" stroke-width="0.75"/>
<path d="M508.8,693.5 C511.2,693.5 518.0,693.2 523.0,693.8 C528.0,694.3 532.9,695.1 538.9,696.8 C544.9,698.4 552.8,701.2 558.8,703.7 C564.8,706.2 569.8,709.2 574.8,711.7 C579.8,714.2 584.7,716.5 588.7,718.7 C592.7,720.9 596.0,723.2 598.7,724.7 C601.4,726.2 603.2,727.9 604.7,727.6 C606.2,727.3 606.9,725.2 607.7,722.7 C608.5,720.2 609.1,715.7 609.7,712.7 C610.4,709.7 610.8,706.3 611.6,704.7 C612.4,703.1 613.4,702.9 614.6,703.2 C615.8,703.5 616.9,704.8 618.6,706.7 C620.3,708.6 622.3,712.0 624.6,714.7 C626.9,717.4 629.6,720.4 632.6,722.7 C635.6,725.0 638.9,726.9 642.5,728.6 C646.1,730.2 650.5,731.6 654.5,732.6 C658.5,733.6 662.3,734.4 666.4,734.6 C670.5,734.8 676.1,733.3 679.0,733.6 C681.9,733.9 681.8,735.8 684.0,736.6 C686.2,737.4 688.7,737.6 692.0,738.6 C695.3,739.6 699.9,741.4 703.9,742.6 C707.9,743.8 711.6,745.3 715.9,745.6 C720.2,745.9 725.5,745.8 729.8,744.6 C734.1,743.4 738.5,741.3 741.8,738.6 C745.1,735.9 747.1,731.6 749.7,728.6 C752.4,725.6 754.4,722.9 757.7,720.7 C761.0,718.6 764.7,717.0 769.7,715.7 C774.7,714.4 781.3,713.4 787.6,712.7 C793.9,712.0 800.9,711.7 807.5,711.7 C814.1,711.7 821.7,712.4 827.5,712.7 C833.3,713.0 837.9,713.5 842.4,713.7 C847.0,714.0 852.7,714.1 854.8,714.2 L855.0,802.9 L510.1,802.9 L508.8,693.5 Z" fill="#3c96f5"/>
<path d="M508.8,709.4 C511.2,709.5 518.0,709.2 523.0,709.7 C528.0,710.2 534.2,710.9 538.9,712.7 C543.5,714.5 546.2,718.2 550.9,720.7 C555.5,723.2 561.5,724.9 566.8,727.6 C572.1,730.2 577.8,733.8 582.8,736.6 C587.8,739.4 592.4,742.6 596.7,744.6 C601.0,746.6 605.1,747.9 608.7,748.6 C612.4,749.3 615.6,748.3 618.6,748.6 C621.6,748.9 623.9,749.6 626.6,750.6 C629.3,751.6 632.3,754.2 634.6,754.5 C636.9,754.8 638.2,753.2 640.5,752.6 C642.8,751.9 645.5,750.6 648.5,750.6 C651.5,750.6 654.9,751.8 658.5,752.6 C662.1,753.4 667.0,755.2 670.4,755.5 C673.8,755.8 676.7,755.6 679.0,754.5 C681.3,753.4 681.2,749.2 684.0,748.6 C686.8,747.9 691.7,749.6 696.0,750.6 C700.3,751.6 705.3,753.9 709.9,754.5 C714.5,755.1 719.1,755.5 723.8,754.5 C728.4,753.5 733.8,750.9 737.8,748.6 C741.8,746.3 744.8,743.3 747.8,740.6 C750.8,737.9 752.7,735.1 755.7,732.6 C758.7,730.1 761.7,727.5 765.7,725.7 C769.7,723.9 774.6,722.7 779.6,721.7 C784.6,720.7 789.6,719.9 795.6,719.7 C801.6,719.5 807.7,720.0 815.5,720.7 C823.3,721.4 835.9,723.0 842.4,723.7 C849.0,724.5 852.7,725.0 854.8,725.2 L855.0,802.9 L510.1,802.9 L508.8,709.4 Z" fill="#1e6eeb"/>
<path d="M508.8,733.3 C511.2,733.3 518.6,733.2 523.0,733.6 C527.4,734.0 530.6,733.9 534.9,735.6 C539.2,737.3 544.2,741.1 548.9,743.6 C553.5,746.1 557.8,748.1 562.8,750.6 C567.8,753.1 573.8,755.2 578.8,758.5 C583.8,761.8 588.4,767.7 592.7,770.5 C597.0,773.3 600.4,775.2 604.7,775.5 C609.0,775.8 614.0,773.3 618.6,772.5 C623.2,771.7 628.0,770.2 632.6,770.5 C637.2,770.8 642.2,773.5 646.5,774.5 C650.8,775.5 654.5,776.5 658.5,776.5 C662.5,776.5 667.0,775.6 670.4,774.5 C673.8,773.4 676.7,771.4 679.0,769.7 C681.3,768.0 681.2,765.4 684.0,764.5 C686.8,763.6 691.4,764.8 696.0,764.5 C700.6,764.2 706.6,763.5 711.9,762.5 C717.2,761.5 722.8,760.1 727.8,758.5 C732.8,756.9 737.8,754.6 741.8,752.6 C745.8,750.6 748.4,748.9 751.7,746.6 C755.0,744.3 758.1,740.8 761.7,738.6 C765.4,736.4 768.6,734.8 773.6,733.6 C778.6,732.4 784.6,731.8 791.6,731.6 C798.6,731.4 807.0,732.1 815.5,732.6 C824.0,733.1 835.9,734.1 842.4,734.6 C849.0,735.1 852.7,735.5 854.8,735.7 L855.0,802.9 L510.1,802.9 L508.8,733.3 Z" fill="#1464d2"/>
<path d="M673.8,799.7 C674.3,797.9 675.1,791.6 676.8,788.7 C678.5,785.8 680.8,784.3 684.0,782.4 C687.2,780.5 691.4,779.1 696.0,777.5 C700.6,775.9 706.6,774.3 711.9,772.5 C717.2,770.7 722.5,768.5 727.8,766.5 C733.1,764.5 739.1,762.5 743.8,760.5 C748.4,758.5 751.7,756.5 755.7,754.5 C759.7,752.5 763.1,750.1 767.7,748.6 C772.4,747.1 777.6,746.1 783.6,745.6 C789.6,745.0 796.9,745.3 803.5,745.3 C810.1,745.3 817.0,745.4 823.5,745.6 C830.0,745.8 837.2,746.2 842.4,746.4 C847.6,746.6 852.7,746.8 854.8,746.9 L855.0,802.9 L510.1,802.9 L673.8,799.7 Z" fill="#1a50d2"/>
<path d="M731.8,782.4 C732.5,781.1 735.8,780.3 738.8,778.5 C741.8,776.7 745.9,773.4 749.7,771.5 C753.5,769.6 757.7,768.0 761.7,766.9 C765.7,765.8 770.3,765.1 773.6,764.9 C776.9,764.7 779.4,764.7 781.6,765.5 C783.8,766.3 786.9,768.0 786.6,769.5 C786.3,771.0 782.4,773.0 779.6,774.5 C776.8,776.0 772.9,777.2 769.7,778.5 C766.6,779.8 763.4,780.9 760.7,782.4 C758.0,783.9 756.5,786.2 753.7,787.4 C750.9,788.6 746.9,789.6 743.8,789.4 C740.6,789.2 736.8,787.6 734.8,786.4 C732.8,785.2 731.1,783.7 731.8,782.4 Z" fill="#4b3cc8" stroke="#141414" stroke-width="0.75"/>
<g transform="translate(458.8,354.7)" fill="none" stroke="#a0a0a0" stroke-width="0.65" stroke-linejoin="round">
<use href="#mapl"/>
</g>
<rect x="593.2" y="516.7" width="12.2" height="9.0" fill="#fff"/>
<text x="599.3" y="525.0" class="cl" text-anchor="middle" textLength="10.8" lengthAdjust="spacingAndGlyphs">24</text>
<rect x="583.2" y="542.6" width="12.2" height="9.0" fill="#fff"/>
<text x="589.3" y="550.9" class="cl" text-anchor="middle" textLength="10.8" lengthAdjust="spacingAndGlyphs">24</text>
<rect x="636.2" y="519.0" width="12.2" height="9.0" fill="#fff"/>
<text x="642.3" y="527.3" class="cl" text-anchor="middle" textLength="10.8" lengthAdjust="spacingAndGlyphs">24</text>
<rect x="649.8" y="697.9" width="12.2" height="9.0" fill="#fff"/>
<text x="655.9" y="706.2" class="cl" text-anchor="middle" textLength="10.8" lengthAdjust="spacingAndGlyphs">24</text>
<rect x="730.1" y="655.1" width="12.2" height="9.0" fill="#fff"/>
<text x="736.2" y="663.4" class="cl" text-anchor="middle" textLength="10.8" lengthAdjust="spacingAndGlyphs">24</text>
<rect x="576.3" y="692.9" width="12.2" height="9.0" fill="#fff"/>
<text x="582.4" y="701.2" class="cl" text-anchor="middle" textLength="10.8" lengthAdjust="spacingAndGlyphs">15</text>
<rect x="699.8" y="722.7" width="12.2" height="9.0" fill="#fff"/>
<text x="705.9" y="731.0" class="cl" text-anchor="middle" textLength="10.8" lengthAdjust="spacingAndGlyphs">15</text>
<rect x="742.7" y="784.6" width="7.0" height="9.0" fill="#fff"/>
<text x="746.2" y="792.9" class="cl" text-anchor="middle" textLength="5.6" lengthAdjust="spacingAndGlyphs">0</text>
</g>
<rect x="522.1" y="494.0" width="320.9" height="296.9" fill="none" stroke="#000" stroke-width="1.7"/>
<path d="M522.1,494.0 h-3.6" stroke="#000" stroke-width="1.3"/>
<text x="516.9" y="497.4" class="yl" text-anchor="end">15N</text>
<path d="M522.1,513.8 h-3.6" stroke="#000" stroke-width="1.3"/>
<text x="516.9" y="517.2" class="yl" text-anchor="end">10N</text>
<path d="M522.1,533.6 h-3.6" stroke="#000" stroke-width="1.3"/>
<text x="516.9" y="537.0" class="yl" text-anchor="end">5N</text>
<path d="M522.1,553.4 h-3.6" stroke="#000" stroke-width="1.3"/>
<text x="516.9" y="556.8" class="yl" text-anchor="end">EQ</text>
<path d="M522.1,573.2 h-3.6" stroke="#000" stroke-width="1.3"/>
<text x="516.9" y="576.6" class="yl" text-anchor="end">5S</text>
<path d="M522.1,593.0 h-3.6" stroke="#000" stroke-width="1.3"/>
<text x="516.9" y="596.4" class="yl" text-anchor="end">10S</text>
<path d="M522.1,612.8 h-3.6" stroke="#000" stroke-width="1.3"/>
<text x="516.9" y="616.2" class="yl" text-anchor="end">15S</text>
<path d="M522.1,632.6 h-3.6" stroke="#000" stroke-width="1.3"/>
<text x="516.9" y="636.0" class="yl" text-anchor="end">20S</text>
<path d="M522.1,652.3 h-3.6" stroke="#000" stroke-width="1.3"/>
<text x="516.9" y="655.7" class="yl" text-anchor="end">25S</text>
<path d="M522.1,672.1 h-3.6" stroke="#000" stroke-width="1.3"/>
<text x="516.9" y="675.5" class="yl" text-anchor="end">30S</text>
<path d="M522.1,691.9 h-3.6" stroke="#000" stroke-width="1.3"/>
<text x="516.9" y="695.3" class="yl" text-anchor="end">35S</text>
<path d="M522.1,711.7 h-3.6" stroke="#000" stroke-width="1.3"/>
<text x="516.9" y="715.1" class="yl" text-anchor="end">40S</text>
<path d="M522.1,731.5 h-3.6" stroke="#000" stroke-width="1.3"/>
<text x="516.9" y="734.9" class="yl" text-anchor="end">45S</text>
<path d="M522.1,751.3 h-3.6" stroke="#000" stroke-width="1.3"/>
<text x="516.9" y="754.7" class="yl" text-anchor="end">50S</text>
<path d="M522.1,771.1 h-3.6" stroke="#000" stroke-width="1.3"/>
<text x="516.9" y="774.5" class="yl" text-anchor="end">55S</text>
<path d="M522.1,790.9 h-3.6" stroke="#000" stroke-width="1.3"/>
<text x="516.9" y="794.3" class="yl" text-anchor="end">60S</text>
<path d="M526.5,790.9 v3.4" stroke="#000" stroke-width="1.3"/>
<text x="526.9" y="802.2" class="xl" text-anchor="middle" textLength="21.3" lengthAdjust="spacingAndGlyphs">100W</text>
<path d="M562.1,790.9 v3.4" stroke="#000" stroke-width="1.3"/>
<text x="562.5" y="802.2" class="xl" text-anchor="middle" textLength="16.7" lengthAdjust="spacingAndGlyphs">90W</text>
<path d="M597.7,790.9 v3.4" stroke="#000" stroke-width="1.3"/>
<text x="598.1" y="802.2" class="xl" text-anchor="middle" textLength="16.7" lengthAdjust="spacingAndGlyphs">80W</text>
<path d="M633.3,790.9 v3.4" stroke="#000" stroke-width="1.3"/>
<text x="633.7" y="802.2" class="xl" text-anchor="middle" textLength="16.7" lengthAdjust="spacingAndGlyphs">70W</text>
<path d="M668.9,790.9 v3.4" stroke="#000" stroke-width="1.3"/>
<text x="669.3" y="802.2" class="xl" text-anchor="middle" textLength="16.7" lengthAdjust="spacingAndGlyphs">60W</text>
<path d="M704.5,790.9 v3.4" stroke="#000" stroke-width="1.3"/>
<text x="704.9" y="802.2" class="xl" text-anchor="middle" textLength="16.7" lengthAdjust="spacingAndGlyphs">50W</text>
<path d="M740.0,790.9 v3.4" stroke="#000" stroke-width="1.3"/>
<text x="740.4" y="802.2" class="xl" text-anchor="middle" textLength="16.7" lengthAdjust="spacingAndGlyphs">40W</text>
<path d="M775.6,790.9 v3.4" stroke="#000" stroke-width="1.3"/>
<text x="776.0" y="802.2" class="xl" text-anchor="middle" textLength="16.7" lengthAdjust="spacingAndGlyphs">30W</text>
<path d="M811.2,790.9 v3.4" stroke="#000" stroke-width="1.3"/>
<text x="811.6" y="802.2" class="xl" text-anchor="middle" textLength="16.7" lengthAdjust="spacingAndGlyphs">20W</text>
<text x="567.0" y="484.5" class="pt" textLength="68.2" lengthAdjust="spacing">cluster:</text>
<text x="652.1" y="484.5" class="pt" text-anchor="middle">4</text>
<text x="682.8" y="484.5" class="pt" textLength="92.4" lengthAdjust="spacing">membros:</text>
<text x="792.4" y="484.5" class="pt" text-anchor="middle">1</text>
<path d="M426.9,150.5 L433.1,134.9 L439.3,150.5 Z" fill="#b42d32" stroke="#000" stroke-width="1.3" stroke-linejoin="miter"/>
<path d="M426.9,425.4 L433.1,440.4 L439.3,425.4 Z" fill="#dcdcff" stroke="#000" stroke-width="1.3" stroke-linejoin="miter"/>
<rect x="426.9" y="150.50" width="12.4" height="15.28" fill="#c80000" stroke="#000" stroke-width="1.3"/>
<rect x="426.9" y="165.78" width="12.4" height="15.28" fill="#cd4040" stroke="#000" stroke-width="1.3"/>
<rect x="426.9" y="181.05" width="12.4" height="15.28" fill="#e41400" stroke="#000" stroke-width="1.3"/>
<rect x="426.9" y="196.32" width="12.4" height="15.28" fill="#ff3200" stroke="#000" stroke-width="1.3"/>
<rect x="426.9" y="211.60" width="12.4" height="15.28" fill="#ff6000" stroke="#000" stroke-width="1.3"/>
<rect x="426.9" y="226.88" width="12.4" height="15.28" fill="#ffa000" stroke="#000" stroke-width="1.3"/>
<rect x="426.9" y="242.15" width="12.4" height="15.28" fill="#ffc03c" stroke="#000" stroke-width="1.3"/>
<rect x="426.9" y="257.43" width="12.4" height="15.28" fill="#ffe878" stroke="#000" stroke-width="1.3"/>
<rect x="426.9" y="272.70" width="12.4" height="15.28" fill="#78b9fa" stroke="#000" stroke-width="1.3"/>
<rect x="426.9" y="287.98" width="12.4" height="15.28" fill="#3c96f5" stroke="#000" stroke-width="1.3"/>
<rect x="426.9" y="303.25" width="12.4" height="15.28" fill="#1e6eeb" stroke="#000" stroke-width="1.3"/>
<rect x="426.9" y="318.52" width="12.4" height="15.28" fill="#1464d2" stroke="#000" stroke-width="1.3"/>
<rect x="426.9" y="333.80" width="12.4" height="15.28" fill="#1a50d2" stroke="#000" stroke-width="1.3"/>
<rect x="426.9" y="349.08" width="12.4" height="15.28" fill="#4b3cc8" stroke="#000" stroke-width="1.3"/>
<rect x="426.9" y="364.35" width="12.4" height="15.28" fill="#6e5adc" stroke="#000" stroke-width="1.3"/>
<rect x="426.9" y="379.62" width="12.4" height="15.28" fill="#826eeb" stroke="#000" stroke-width="1.3"/>
<rect x="426.9" y="394.90" width="12.4" height="15.28" fill="#a08cff" stroke="#000" stroke-width="1.3"/>
<rect x="426.9" y="410.18" width="12.4" height="15.28" fill="#c8b9ff" stroke="#000" stroke-width="1.3"/>
<text x="442.8" y="154.8" class="cb" textLength="13.4" lengthAdjust="spacingAndGlyphs">39</text>
<text x="442.8" y="170.1" class="cb" textLength="13.4" lengthAdjust="spacingAndGlyphs">36</text>
<text x="442.8" y="185.4" class="cb" textLength="13.4" lengthAdjust="spacingAndGlyphs">33</text>
<text x="442.8" y="200.6" class="cb" textLength="13.4" lengthAdjust="spacingAndGlyphs">30</text>
<text x="442.8" y="215.9" class="cb" textLength="13.4" lengthAdjust="spacingAndGlyphs">27</text>
<text x="442.8" y="231.2" class="cb" textLength="13.4" lengthAdjust="spacingAndGlyphs">24</text>
<text x="442.8" y="246.5" class="cb" textLength="13.4" lengthAdjust="spacingAndGlyphs">21</text>
<text x="442.8" y="261.7" class="cb" textLength="13.4" lengthAdjust="spacingAndGlyphs">18</text>
<text x="442.8" y="277.0" class="cb" textLength="13.4" lengthAdjust="spacingAndGlyphs">15</text>
<text x="442.8" y="292.3" class="cb" textLength="13.4" lengthAdjust="spacingAndGlyphs">12</text>
<text x="442.8" y="307.6" class="cb" textLength="6.7" lengthAdjust="spacingAndGlyphs">9</text>
<text x="442.8" y="322.8" class="cb" textLength="6.7" lengthAdjust="spacingAndGlyphs">6</text>
<text x="442.8" y="338.1" class="cb" textLength="6.7" lengthAdjust="spacingAndGlyphs">3</text>
<text x="442.8" y="353.4" class="cb" textLength="6.7" lengthAdjust="spacingAndGlyphs">0</text>
<text x="442.8" y="368.7" class="cb" textLength="16.0" lengthAdjust="spacingAndGlyphs">−3</text>
<text x="442.8" y="383.9" class="cb" textLength="16.0" lengthAdjust="spacingAndGlyphs">−6</text>
<text x="442.8" y="399.2" class="cb" textLength="16.0" lengthAdjust="spacingAndGlyphs">−9</text>
<text x="442.8" y="414.5" class="cb" textLength="22.9" lengthAdjust="spacingAndGlyphs">−12</text>
<text x="442.8" y="429.8" class="cb" textLength="22.9" lengthAdjust="spacingAndGlyphs">−15</text>
</svg></body></html>
